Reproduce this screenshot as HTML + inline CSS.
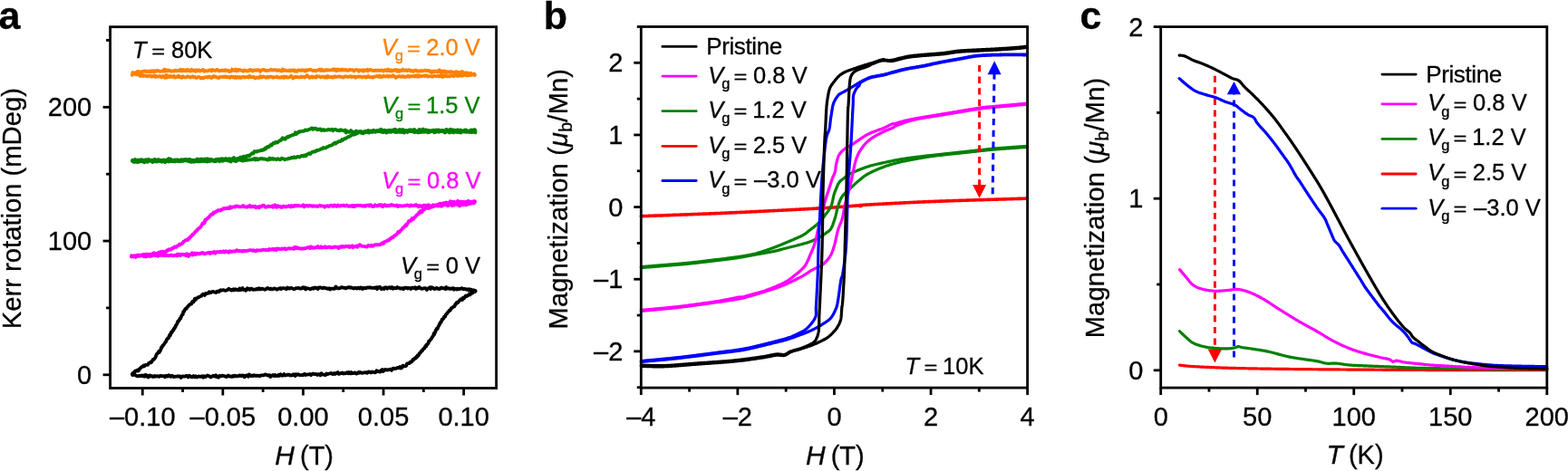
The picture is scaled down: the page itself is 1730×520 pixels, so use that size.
<!DOCTYPE html>
<html><head><meta charset="utf-8"><title>Figure</title><style>html,body{margin:0;padding:0;background:#fff;width:1730px;height:520px;overflow:hidden;position:relative}</style></head><body>
<svg width="1730" height="520" viewBox="0 0 1730 520" style="position:absolute;left:0;top:0;font-family:'Liberation Sans', Arial, Helvetica, sans-serif">
<rect width="1730" height="520" fill="#fff"/>
<text x="-1.5" y="31.6" font-size="43" text-anchor="start" fill="#000" font-weight="bold" stroke="#000" stroke-width="0.3">a</text>
<text x="599.8" y="31.6" font-size="43" text-anchor="start" fill="#000" font-weight="bold" stroke="#000" stroke-width="0.3">b</text>
<text x="1191.5" y="31.6" font-size="43" text-anchor="start" fill="#000" font-weight="bold" stroke="#000" stroke-width="0.3">c</text>
<path d="M145.9,82.82 L146.57,80.04 L147.51,81.3 L148.68,80.35 L150,80.05 L150.84,80 L151.76,78.84 L152.74,79.65 L153.78,79.14 L154.84,81.3 L155.92,79.45 L157,79.01 L157.9,78.94 L158.77,78.64 L159.62,78.35 L160.5,78.64 L161.44,79.05 L162.48,78.59 L163.66,79.19 L165,78.49 L165.72,78.58 L166.38,79.39 L166.99,78.81 L167.59,78.2 L168.19,78.35 L168.82,78.72 L169.5,79.46 L170.27,78.23 L171.14,78.22 L172.15,78.88 L173.31,77.81 L174.65,78.12 L176.19,78.74 L177.97,78.55 L180,78.25 L180.66,78.56 L181.34,76.63 L182.04,78.74 L182.76,77.64 L183.49,77.24 L184.25,78.3 L185.02,78.53 L185.81,77.89 L186.62,77.53 L187.44,78.13 L188.28,78.08 L189.14,78.87 L190.01,78.5 L190.9,78.19 L191.8,78.69 L192.71,77.95 L193.65,77.55 L194.59,78.37 L195.55,78.36 L196.52,77.91 L197.5,77.59 L198.5,78.14 L199.51,76.63 L200.53,78.38 L201.56,78.26 L202.61,77.08 L203.66,78 L204.72,77.43 L205.8,78.37 L206.88,76.83 L207.97,77.43 L209.07,78.32 L210.18,78.56 L211.3,76.73 L212.43,77.63 L213.56,78.08 L214.7,77.55 L215.85,78.76 L217,77.22 L218.16,78.06 L219.32,77.28 L220.49,78.63 L221.67,77.83 L222.85,77.63 L224.03,76.89 L225.22,78.75 L226.41,78.23 L227.6,78.23 L228.8,78.43 L230,77.99 L230.86,77.44 L231.73,77.35 L232.6,77.35 L233.48,78.54 L234.36,76.98 L235.25,77.45 L236.15,77.59 L237.05,77.89 L237.95,78.08 L238.86,77.07 L239.78,76.8 L240.7,77.75 L241.63,78.42 L242.56,78.16 L243.5,77.86 L244.44,77.56 L245.38,77.9 L246.34,77.6 L247.29,78.18 L248.25,77.29 L249.22,77.8 L250.18,77.66 L251.16,78.01 L252.13,77.84 L253.11,79.11 L254.1,78.53 L255.09,78.53 L256.08,76.58 L257.08,77.51 L258.08,77.36 L259.08,77.99 L260.09,76.44 L261.1,78.33 L262.11,78.27 L263.12,76.97 L264.14,77.14 L265.17,77.24 L266.19,77.7 L267.22,78.02 L268.25,78.79 L269.28,77.56 L270.32,78.09 L271.36,77.75 L272.4,78.63 L273.44,78.06 L274.49,78.41 L275.53,77.06 L276.58,77.54 L277.64,77.2 L278.69,78.47 L279.74,78 L280.8,77.47 L281.86,77.39 L282.92,77.9 L283.98,77.25 L285.04,77.12 L286.1,77.89 L287.17,78.98 L288.23,77.49 L289.3,77.32 L290.37,76.98 L291.44,76.88 L292.5,77.9 L293.57,78.08 L294.64,77.62 L295.72,77.79 L296.79,77.67 L297.86,77.68 L298.93,76.76 L300,77.35 L300.94,77.66 L301.89,77.17 L302.85,77.33 L303.82,77.14 L304.8,77.41 L305.78,78.06 L306.78,77.36 L307.78,77.5 L308.78,78.03 L309.79,77.94 L310.81,78.51 L311.84,76.43 L312.87,78.05 L313.91,77.31 L314.95,77.65 L316,78.03 L317.05,78.17 L318.11,78.14 L319.17,77.65 L320.23,78.45 L321.3,77.41 L322.37,77.48 L323.45,78 L324.52,77.26 L325.6,78.75 L326.69,78.12 L327.77,78.75 L328.85,77.54 L329.94,77.34 L331.03,77.64 L332.11,77.95 L333.2,77.22 L334.29,77.76 L335.37,77.54 L336.46,78.43 L337.55,77.18 L338.63,78.12 L339.71,77.19 L340.8,77.01 L341.88,77.15 L342.95,76.88 L344.03,77.62 L345.1,78.1 L346.17,77.62 L347.23,77.87 L348.29,78.43 L349.35,77.68 L350.4,77.64 L351.45,77.38 L352.49,76.64 L353.53,77.94 L354.56,76.56 L355.59,77.88 L356.61,77.51 L357.62,78.14 L358.62,77.48 L359.62,77.07 L360.62,77.71 L361.6,77.21 L362.58,77.42 L363.55,77.54 L364.51,77.44 L365.46,77.41 L366.4,77.05 L367.33,77.41 L368.26,76.33 L369.17,77.42 L370.07,76.85 L370.96,78.12 L371.85,78.21 L372.72,76.43 L373.57,77.59 L374.42,77.44 L375.26,76.93 L376.08,77.8 L376.89,77.25 L377.69,76.53 L378.47,77.35 L379.24,77.42 L380,77.56 L381.48,76.82 L382.9,77.84 L384.28,77.9 L385.62,76.86 L386.91,77.13 L388.17,77.44 L389.38,77.17 L390.56,78.44 L391.7,77.59 L392.81,76.92 L393.89,77.04 L394.94,77.44 L395.96,78.73 L396.96,77.37 L397.93,77.53 L398.88,77.74 L399.81,77.43 L400.72,78.71 L401.62,77.16 L402.5,77.86 L403.37,77.54 L404.23,77.79 L405.08,76.8 L405.92,78.42 L406.76,77.38 L407.59,77.46 L408.43,76.93 L409.26,77.04 L410.1,77.76 L410.94,77.99 L411.78,77.87 L412.64,78.12 L413.51,77.85 L414.38,77.48 L415.27,77.93 L416.18,77.8 L417.1,77.42 L418.05,77.88 L419.01,78.2 L420,77.63 L421,77.31 L422,77.91 L423.01,78.57 L424.02,77.42 L425.03,77.5 L426.04,77.49 L427.05,78.25 L428.06,76.58 L429.08,77.8 L430.09,78.27 L431.11,77.18 L432.13,78.46 L433.14,77.96 L434.16,77.38 L435.18,77.81 L436.19,76.87 L437.21,77.42 L438.22,78.75 L439.24,77.27 L440.25,78.8 L441.26,77.75 L442.27,78.37 L443.28,77.86 L444.29,76.62 L445.29,77.56 L446.3,78 L447.3,77.28 L448.29,77.2 L449.29,78.16 L450.28,77.62 L451.27,77.07 L452.26,77.65 L453.24,78.52 L454.22,77.81 L455.19,78.6 L456.16,78.95 L457.13,78.15 L458.09,77.53 L459.05,77.46 L460,78.19 L461.06,78.71 L462.13,78.4 L463.21,78.58 L464.3,78.06 L465.39,78.5 L466.49,78.1 L467.59,78.21 L468.69,77.71 L469.8,77.58 L470.9,78.21 L472.01,77.9 L473.11,78.01 L474.21,78.94 L475.31,78.54 L476.4,80.24 L477.48,79.18 L478.56,78.35 L479.62,79.16 L480.68,78.96 L481.73,78.42 L482.76,79.43 L483.78,78.43 L484.79,77.21 L485.78,79.36 L486.75,78.62 L487.71,79.81 L488.64,78.67 L489.56,78.4 L490.45,79.94 L491.32,78.53 L492.17,79.26 L492.99,79.98 L493.78,79.27 L494.55,79.2 L495.29,79.33 L496,79.76 L497.68,78.93 L499.16,79.78 L500.46,79.83 L501.61,80.86 L502.64,79.45 L503.56,79.2 L504.39,80.17 L505.18,79.61 L505.92,80.05 L506.66,80.04 L507.42,80.68 L508.21,79.76 L509.06,80.16 L510,78.9 L511.1,79.92 L512.26,81.38 L513.46,80.3 L514.69,80.44 L515.91,80.31 L517.13,81.45 L518.31,81.39 L519.44,80.79 L520.5,81.95 L521.48,81.85 L522.35,82.24 L523.1,81.57 L523.7,82.96" fill="none" stroke="#ff8000" stroke-width="3.8" stroke-linejoin="round" stroke-linecap="round" />
<path d="M523.7,82.23 L523.1,81.99 L522.35,81.84 L521.48,82.08 L520.5,82.78 L519.44,82.26 L518.31,83.11 L517.13,82.95 L515.91,83.48 L514.69,83.3 L513.46,82.92 L512.26,82 L511.1,83.29 L510,83.63 L509.06,83.34 L508.21,83.6 L507.42,83.08 L506.66,83.16 L505.92,82.88 L505.18,84.17 L504.39,83.52 L503.56,83.19 L502.64,82.74 L501.61,83.41 L500.46,84.31 L499.16,83.79 L497.68,83.17 L496,84.39 L495.29,84.4 L494.55,84.17 L493.78,84.08 L492.99,84.3 L492.17,83.97 L491.32,84.12 L490.45,83.28 L489.56,84.55 L488.64,83.87 L487.71,84.87 L486.75,82.66 L485.78,84.18 L484.79,84.35 L483.78,83.64 L482.76,84.1 L481.73,84.28 L480.68,84.21 L479.62,83.61 L478.56,83.85 L477.48,84.5 L476.4,84.66 L475.31,84.03 L474.21,84.04 L473.11,84.13 L472.01,84.6 L470.9,83.47 L469.8,83.34 L468.69,84.15 L467.59,83.49 L466.49,83.79 L465.39,84.18 L464.3,84.41 L463.21,83.57 L462.13,84.61 L461.06,83.21 L460,84.5 L459.06,83.34 L458.15,83.52 L457.26,84.58 L456.39,84.02 L455.53,83.81 L454.69,84.01 L453.87,84.52 L453.06,84.25 L452.25,84.27 L451.45,84.87 L450.66,83.9 L449.87,84.05 L449.08,84.03 L448.29,84.96 L447.49,84.87 L446.69,85.04 L445.88,84.32 L445.06,84.26 L444.22,84.82 L443.38,84.14 L442.51,84.82 L441.63,84.77 L440.72,83.99 L439.79,84.33 L438.84,84.32 L437.86,85.35 L436.84,85.82 L435.8,84.35 L434.72,84.42 L433.61,83.16 L432.46,84.54 L431.26,84.43 L430.03,83.85 L428.75,84.88 L427.42,83.59 L426.04,84.35 L424.61,84.55 L423.13,83.79 L421.6,84.96 L420,85.08 L419.27,83.74 L418.53,83.73 L417.78,84.85 L417.02,84.5 L416.25,83.86 L415.47,84.37 L414.68,84.47 L413.88,84.46 L413.07,85 L412.25,84.76 L411.42,85.53 L410.58,85.32 L409.73,84.94 L408.88,85.16 L408.01,85.3 L407.13,84.97 L406.25,83.91 L405.36,85.07 L404.46,84.64 L403.55,85.5 L402.64,84.66 L401.71,84.91 L400.78,84.8 L399.85,85.55 L398.9,84.73 L397.95,84.49 L396.99,84.82 L396.02,84.41 L395.05,84.75 L394.07,84.66 L393.09,84.82 L392.1,85.74 L391.1,84.46 L390.1,84.71 L389.09,84.59 L388.08,85.07 L387.06,84.06 L386.04,84.34 L385.01,84.7 L383.98,85.03 L382.94,84.71 L381.9,84.47 L380.85,84.27 L379.8,85.04 L378.75,85.56 L377.69,84.95 L376.63,84.88 L375.57,85.03 L374.5,84.27 L373.43,84.62 L372.36,84.65 L371.28,84.97 L370.2,84.8 L369.12,84.15 L368.04,85.44 L366.95,85.76 L365.86,84.69 L364.78,85.06 L363.68,85 L362.59,85.29 L361.5,84.05 L360.41,85.75 L359.31,84.62 L358.21,85.57 L357.12,84.93 L356.02,84.68 L354.92,84.82 L353.83,85.39 L352.73,84.43 L351.63,84.71 L350.54,84.65 L349.44,83.98 L348.34,85.64 L347.25,85.25 L346.16,84.93 L345.07,85.58 L343.97,84.42 L342.89,84.91 L341.8,85.91 L340.71,85.5 L339.63,83.74 L338.55,83.14 L337.47,84.4 L336.39,85.56 L335.32,84.72 L334.25,84.87 L333.18,85.32 L332.12,84.51 L331.06,85.11 L330,85.44 L329.05,85.26 L328.09,85.22 L327.12,84.68 L326.15,85.29 L325.17,84.78 L324.18,85.74 L323.19,86.43 L322.19,84.62 L321.19,83.83 L320.18,84.79 L319.17,85.24 L318.15,85.61 L317.12,85.63 L316.1,84.61 L315.06,84.61 L314.03,85.74 L312.99,84.45 L311.94,85.65 L310.89,84.93 L309.84,85.48 L308.78,85.45 L307.73,85.49 L306.66,85.51 L305.6,84.52 L304.53,85.23 L303.46,85.08 L302.39,85.24 L301.31,85.75 L300.24,84.93 L299.16,84.69 L298.08,84.68 L297,84.91 L295.92,85.5 L294.83,84.64 L293.75,85.73 L292.66,85.25 L291.58,84.97 L290.49,84.36 L289.41,85.23 L288.32,85.48 L287.23,84.13 L286.15,85.76 L285.06,86.01 L283.98,85.29 L282.9,85.38 L281.81,86.43 L280.73,85.79 L279.65,84.62 L278.58,85.1 L277.5,85.03 L276.43,85.03 L275.35,83.81 L274.28,85.53 L273.22,84.77 L272.15,85.21 L271.09,85.04 L270.03,85.6 L268.98,84.96 L267.93,84.68 L266.88,85.42 L265.84,85.9 L264.8,84.95 L263.76,85.88 L262.73,85.27 L261.7,84.83 L260.68,85.96 L259.66,84.68 L258.65,85.68 L257.64,84.85 L256.64,85.37 L255.64,84.45 L254.65,84.67 L253.67,85.71 L252.69,85.23 L251.72,85.15 L250.75,84.88 L249.79,85.37 L248.84,84.36 L247.9,84.51 L246.96,85.04 L246.03,84.67 L245.11,84.74 L244.19,85.08 L243.29,85.05 L242.39,85 L241.5,86.04 L240.61,85.68 L239.74,85.79 L238.88,85.1 L238.02,84.84 L237.17,84.32 L236.34,84.92 L235.51,83.96 L234.69,84.79 L233.88,85.53 L233.09,86 L232.3,85.64 L231.52,84.63 L230.76,85.37 L230,84.67 L228.51,85.55 L227.05,85.03 L225.62,85.56 L224.2,86.5 L222.82,85.58 L221.46,86.35 L220.12,85.16 L218.8,84.87 L217.51,85.78 L216.24,85.99 L214.99,84.73 L213.77,85.07 L212.57,84.23 L211.38,84.9 L210.22,85.49 L209.08,84.94 L207.96,84.67 L206.86,84.19 L205.78,85.16 L204.72,85.39 L203.68,85.27 L202.65,85.07 L201.65,84.22 L200.66,85.87 L199.69,84.86 L198.73,84.8 L197.8,85.27 L196.87,83.67 L195.97,84.81 L195.08,84.76 L194.21,85.03 L193.35,85.55 L192.5,85.06 L191.67,83.78 L190.85,84.59 L190.05,84.88 L189.26,84.83 L188.48,84.04 L187.71,83.81 L186.96,85.02 L186.22,84.89 L185.49,84.68 L184.77,83.73 L184.06,85.64 L183.36,83.06 L182.67,84.44 L181.99,85.78 L181.32,84.54 L180.65,84.74 L180,83.95 L177.97,85.31 L176.21,83.82 L174.68,84.63 L173.36,84.53 L172.22,83.84 L171.24,84.86 L170.39,83.56 L169.64,83.92 L168.96,84.24 L168.33,83.99 L167.73,84.43 L167.12,84.64 L166.48,83.93 L165.78,83.75 L165,83.72 L163.79,83.73 L162.67,84.31 L161.6,83.68 L160.6,83.95 L159.63,83.61 L158.7,83.12 L157.78,83.97 L156.86,82.84 L155.94,83.31 L155,84.02 L153.9,82.45 L152.74,82.85 L151.56,81.82 L150.39,82.22 L149.27,81.48 L148.23,81.92 L147.29,81.65 L146.51,81.88 L145.9,82.57" fill="none" stroke="#ff8000" stroke-width="3.8" stroke-linejoin="round" stroke-linecap="round" />
<path d="M146,177.06 L146.52,177.26 L147.09,176.87 L147.7,176.76 L148.35,176.43 L149.03,175.89 L149.76,176.92 L150.52,177.77 L151.32,177.13 L152.15,176.57 L153.02,177.77 L153.91,176.62 L154.83,176.51 L155.78,176.18 L156.76,176.31 L157.76,176.7 L158.78,177.93 L159.82,176.71 L160.89,176.25 L161.97,176.48 L163.07,176.69 L164.19,175.86 L165.32,176.87 L166.46,177.18 L167.61,176.96 L168.78,177.11 L169.95,176.07 L171.12,175.83 L172.31,177.47 L173.49,177.36 L174.68,175.9 L175.87,176.86 L177.06,176.75 L178.25,177.03 L179.43,176.84 L180.61,176.44 L181.78,176.82 L182.94,176.79 L184.09,176.67 L185.23,175.67 L186.36,175.04 L187.48,176.24 L188.58,175.77 L189.66,176.8 L190.72,177.05 L191.76,176.8 L192.79,176.44 L193.78,176.68 L194.76,177.28 L195.7,176.23 L196.62,177.13 L197.52,177.01 L198.38,176.76 L199.2,177.4 L200,176.21 L201.37,177.11 L202.7,176.07 L203.98,176.15 L205.21,175.98 L206.4,176.8 L207.56,176.04 L208.67,176.58 L209.75,175.92 L210.8,177.12 L211.82,177.54 L212.82,176.65 L213.79,177.42 L214.73,176.82 L215.66,177.7 L216.58,176.55 L217.47,175.63 L218.36,177.31 L219.24,176.41 L220.11,175.9 L220.98,176.1 L221.84,175.55 L222.71,176.35 L223.58,175.84 L224.46,177.23 L225.35,176.76 L226.24,175.47 L227.16,175.53 L228.08,176.03 L229.03,175.26 L230,176.24 L231.06,176.25 L232.14,175.82 L233.23,175.92 L234.33,176.47 L235.45,176.95 L236.57,176.96 L237.7,176.13 L238.83,176.55 L239.96,175.64 L241.1,176.24 L242.23,175.45 L243.35,176.34 L244.47,175.22 L245.57,175.34 L246.67,175.83 L247.75,176.1 L248.82,174.96 L249.86,175.41 L250.89,175.74 L251.89,175.74 L252.87,175.11 L253.81,175.58 L254.73,175.33 L255.62,176.19 L256.47,175.68 L257.29,174.59 L258.06,174.05 L258.8,175.25 L260.5,175.69 L261.98,174.96 L263.26,175.16 L264.38,174.2 L265.37,173.51 L266.25,174.45 L267.04,173.88 L267.79,173.98 L268.51,172.64 L269.24,173.29 L270,172.66 L271.32,173.13 L272.42,172.09 L273.39,171.8 L274.28,171.53 L275.16,172.21 L276.1,171.12 L277.02,170.18 L277.84,169.47 L278.66,168.84 L279.56,169.57 L280.61,167.13 L281.9,167.03 L282.67,167.55 L283.53,167.56 L284.45,166.54 L285.44,166.77 L286.46,166.46 L287.51,166.3 L288.56,165.49 L289.61,166.07 L290.63,164.96 L291.61,165.36 L292.54,163.57 L293.4,164.33 L294.44,162.6 L295.41,161.9 L296.31,162.4 L297.17,161.05 L298,161.12 L298.84,159.67 L299.68,160.53 L300.57,159.07 L301.5,157.9 L302.38,158.16 L303.28,158.11 L304.2,156.78 L305.14,157.08 L306.08,157.52 L307.03,156.48 L307.98,155.61 L308.93,154.91 L309.87,155.15 L310.8,153.59 L311.73,152.35 L312.67,153.26 L313.61,152.63 L314.54,153.79 L315.48,152.51 L316.41,151.5 L317.33,151 L318.24,151.52 L319.13,150.38 L320,150.11 L320.92,149.92 L321.79,149.54 L322.62,149.05 L323.44,148.57 L324.26,148.74 L325.11,148.48 L326,146.18 L326.96,148.07 L328,146.31 L328.94,146.61 L329.95,145.21 L331.03,145.49 L332.15,145.14 L333.29,144.81 L334.44,144.95 L335.58,144.58 L336.68,143.44 L337.73,143.69 L338.71,143.94 L339.6,143.72 L340.8,142.85 L341.81,142.6 L342.7,142.4 L343.54,141.66 L344.41,141.39 L345.37,142.84 L346.5,141.72 L347.39,142.03 L348.34,141.65 L349.33,142.92 L350.36,143.34 L351.41,142.44 L352.49,143.04 L353.59,142.53 L354.69,144.08 L355.8,143.76 L356.9,142.88 L357.9,144.07 L358.92,143.59 L359.95,143.61 L361,143.56 L362.05,142.96 L363.1,142.99 L364.16,143.59 L365.23,143.19 L366.29,142.68 L367.35,144.32 L368.4,143.12 L369.45,142.99 L370.5,142.99 L371.56,143.85 L372.62,144.11 L373.67,143.82 L374.73,144.28 L375.78,143.11 L376.84,143.86 L377.9,143.93 L378.95,144.32 L380,144.71 L380.99,143.45 L381.87,146.44 L382.68,144.41 L383.47,145.25 L384.28,145.69 L385.13,145.87 L386.07,145.68 L387.14,144.08 L388.38,145.17 L389.82,146.24 L391.5,145.32 L392.22,145.24 L392.96,144.5 L393.72,146.43 L394.49,146 L395.28,145.18 L396.09,145.55 L396.93,145.5 L397.78,144.88 L398.65,145.27 L399.54,145.49 L400.46,145.57 L401.4,145.88 L402.36,145.12 L403.34,144.76 L404.35,145.15 L405.39,144.49 L406.45,144.07 L407.54,145.3 L408.65,144.37 L409.79,144.57 L410.96,144.78 L412.16,143.74 L413.39,144.63 L414.65,144.46 L415.94,144.1 L417.26,144.31 L418.61,143.63 L420,142.8 L420.79,143.84 L421.6,143.47 L422.42,144.43 L423.26,144.08 L424.11,143.63 L424.97,143.94 L425.85,144.64 L426.74,144.51 L427.64,144.07 L428.55,144.1 L429.48,143.7 L430.41,143.77 L431.36,144.16 L432.31,143.76 L433.28,143.98 L434.25,143.2 L435.24,142.89 L436.23,142.87 L437.23,143.56 L438.24,144.52 L439.25,144.44 L440.27,143.24 L441.3,142.93 L442.34,144.22 L443.38,144.04 L444.42,143.03 L445.47,144.36 L446.52,143.88 L447.58,144.51 L448.64,143.97 L449.71,144.27 L450.78,143.96 L451.85,143.26 L452.92,143.66 L453.99,143.42 L455.07,144.25 L456.14,143.24 L457.22,142.95 L458.29,144.17 L459.37,144.43 L460.44,144.59 L461.51,144.4 L462.59,142.97 L463.65,143.42 L464.72,143.5 L465.78,143.79 L466.84,142.62 L467.9,143.8 L468.95,143.96 L470,143.28 L470.98,143.87 L471.98,144.46 L473,143.83 L474.03,144.39 L475.09,144.37 L476.16,144.04 L477.24,144.02 L478.34,143.61 L479.45,144.5 L480.58,143.56 L481.71,143.44 L482.86,144.22 L484.01,143.43 L485.17,144.07 L486.33,144.42 L487.5,143.89 L488.68,143.9 L489.85,144.36 L491.03,144.27 L492.21,143.01 L493.39,143.14 L494.56,144.6 L495.74,144.09 L496.9,142.74 L498.07,143.14 L499.23,143.9 L500.38,143.36 L501.52,144.16 L502.65,143.95 L503.77,144.18 L504.88,143.28 L505.97,144.26 L507.06,145.01 L508.12,143.5 L509.17,144.66 L510.2,144.48 L511.22,144.3 L512.21,143.92 L513.18,143.32 L514.13,143.48 L515.06,144.39 L515.97,144.51 L516.84,144.65 L517.69,144.51 L518.52,144.48 L519.31,143.75 L520.08,143.33 L520.81,144.11 L521.51,144.28 L522.18,144.05 L522.82,143.17 L523.41,143.72 L523.98,143.2 L524.5,144.09" fill="none" stroke="#008000" stroke-width="3.8" stroke-linejoin="round" stroke-linecap="round" />
<path d="M146,177.74 L146.52,178.22 L147.08,178.48 L147.68,178.38 L148.32,179.05 L149,177.68 L149.71,177.09 L150.45,178.8 L151.23,179.05 L152.04,179.06 L152.88,178.42 L153.74,178.55 L154.64,178.32 L155.56,177.53 L156.51,177.92 L157.48,178.5 L158.47,177.91 L159.48,179.27 L160.52,177.36 L161.57,177.96 L162.64,178.8 L163.73,177.85 L164.83,177.55 L165.94,177.42 L167.06,177.76 L168.2,178.98 L169.35,178.37 L170.5,178.42 L171.66,177.84 L172.83,178.58 L174,178.17 L175.17,177.6 L176.35,177.84 L177.52,178.2 L178.7,178.72 L179.87,178.04 L181.04,178.33 L182.2,179.16 L183.36,177.6 L184.51,177.35 L185.65,178.57 L186.78,178.26 L187.9,177.95 L189.01,178.15 L190.11,177.81 L191.19,178.27 L192.25,177.79 L193.29,178.41 L194.32,177.32 L195.32,177.5 L196.31,178.01 L197.27,177.68 L198.2,178.32 L199.12,177.9 L200,177.62 L201.17,178.03 L202.32,177.61 L203.47,177.04 L204.59,177.27 L205.71,177.44 L206.82,177.62 L207.91,177.93 L209,178.37 L210.07,178.17 L211.13,178.84 L212.18,178.56 L213.22,177.75 L214.26,178.76 L215.28,178.5 L216.3,177.59 L217.31,178.01 L218.31,178.44 L219.3,177.97 L220.28,178.39 L221.26,178.04 L222.24,178.21 L223.2,177.64 L224.16,178.02 L225.12,177.61 L226.07,178.17 L227.02,176.86 L227.96,177.97 L228.9,178.47 L229.83,178.09 L230.76,177.75 L231.69,178.05 L232.62,177.28 L233.55,177.27 L234.47,177.52 L235.39,177.62 L236.31,178.22 L237.24,177.19 L238.16,178.21 L239.08,176.78 L240,177.19 L241.12,177.58 L242.25,178.21 L243.38,177.21 L244.52,176.34 L245.65,177.72 L246.79,177.44 L247.93,176.83 L249.07,176.82 L250.2,176.98 L251.34,177.38 L252.46,177.65 L253.58,176.43 L254.7,178.47 L255.81,177.15 L256.9,176.92 L257.99,177.46 L259.07,177.11 L260.13,178.29 L261.18,177.57 L262.22,176.72 L263.24,176.67 L264.24,176.57 L265.22,176.61 L266.18,177.13 L267.13,176.37 L268.05,177.57 L268.95,176.6 L269.82,176.52 L270.67,177.09 L271.5,175.44 L272.29,175.98 L273.06,176.79 L273.8,176.43 L275.5,176.33 L276.94,176.46 L278.18,175.82 L279.25,175.97 L280.18,175.22 L281.02,174.85 L281.82,176.49 L282.6,175.2 L283.4,175.24 L284.28,176.34 L285.26,176.09 L286.39,175.17 L287.7,175.13 L288.52,175.36 L289.39,174.88 L290.29,175.71 L291.23,175.5 L292.2,175.5 L293.19,175.87 L294.21,175.87 L295.25,176.52 L296.31,176.37 L297.37,174.62 L298.45,176.09 L299.53,175.01 L300.61,174.87 L301.69,176.07 L302.76,175.31 L303.83,175.54 L304.88,176.31 L305.91,175.36 L306.92,175.23 L307.91,175.89 L308.88,176.37 L309.81,175.95 L310.7,174.77 L311.88,175.19 L313.03,175.38 L314.17,176.42 L315.28,175.74 L316.38,175.59 L317.46,175.65 L318.51,174.68 L319.55,174.96 L320.57,174.81 L321.57,173.84 L322.54,174.21 L323.5,174.36 L324.44,173.29 L325.36,174.16 L326.26,173.96 L327.14,173.95 L328,172.79 L329.27,173.04 L330.46,173.53 L331.58,172.93 L332.64,171.81 L333.66,172.11 L334.66,172.51 L335.63,171.41 L336.6,171.38 L337.57,172.28 L338.57,170.54 L339.6,170.16 L340.56,169.34 L341.52,169.18 L342.48,169.99 L343.44,168.71 L344.4,167.73 L345.36,167.47 L346.31,167.58 L347.27,167.59 L348.23,166.35 L349.18,166.76 L350.14,165.72 L351.1,165.81 L352.06,165.55 L353.02,165.26 L353.97,164.36 L354.93,164.19 L355.89,164.25 L356.84,162.94 L357.8,163.43 L358.76,163.3 L359.72,163.26 L360.68,162.32 L361.64,161.88 L362.6,161.68 L363.56,160.81 L364.53,160.69 L365.5,160.6 L366.46,160.1 L367.43,158.93 L368.4,158.88 L369.37,157.44 L370.34,158.59 L371.3,157.39 L372.27,157.35 L373.24,156.15 L374.2,156.25 L375.18,156.07 L376.19,155.88 L377.22,154.08 L378.25,154.78 L379.29,153.71 L380.31,152.87 L381.32,153.05 L382.29,152.14 L383.23,151.67 L384.11,151 L384.94,151.09 L385.7,150.61 L386.99,149.83 L388.03,148.84 L388.91,148.6 L389.73,148.67 L390.56,148.76 L391.5,147.67 L392.36,148.13 L393.04,147.05 L393.74,146.2 L394.66,146.92 L396.01,145.84 L398,146.41 L398.65,146.73 L399.31,145.93 L399.99,146.01 L400.68,147.37 L401.39,146.11 L402.12,146.09 L402.89,146.34 L403.68,145.83 L404.51,145.8 L405.37,146.03 L406.28,144.48 L407.23,146.55 L408.23,145.16 L409.29,145.13 L410.39,146 L411.56,145.7 L412.79,144.98 L414.09,145.77 L415.45,145.01 L416.89,145.24 L418.4,144.78 L420,145.14 L420.73,145.8 L421.48,145.65 L422.25,145.74 L423.04,146.08 L423.85,145.54 L424.67,145.2 L425.51,145.41 L426.37,146.46 L427.25,145.57 L428.14,145.73 L429.04,145.5 L429.96,145.69 L430.89,145.79 L431.84,145.55 L432.8,145.47 L433.77,145.12 L434.75,145.09 L435.75,145.78 L436.75,145.97 L437.77,146.06 L438.79,145.59 L439.82,145.11 L440.87,145.91 L441.91,145.9 L442.97,144.74 L444.03,146.01 L445.1,145.89 L446.17,146.49 L447.25,144.96 L448.33,144.87 L449.42,146.01 L450.51,144.59 L451.6,145.18 L452.69,144.99 L453.79,145.03 L454.88,144.54 L455.98,145.46 L457.08,146.13 L458.17,145.84 L459.26,145.84 L460.36,145.4 L461.44,146.39 L462.53,145.89 L463.61,146.17 L464.69,144.75 L465.77,145.79 L466.83,144.97 L467.9,145.79 L468.95,145.71 L470,144.98 L470.98,145.69 L471.98,146.23 L473,145.87 L474.03,145.91 L475.09,145.11 L476.16,145.21 L477.24,144.97 L478.34,145.65 L479.45,146.23 L480.58,145.81 L481.71,145.57 L482.86,144.95 L484.01,145.8 L485.17,145.43 L486.33,144.51 L487.5,144.6 L488.68,145.36 L489.85,145.05 L491.03,146.44 L492.21,145.55 L493.39,144.96 L494.56,145.26 L495.74,146.39 L496.9,145 L498.07,145.93 L499.23,145.75 L500.38,146.31 L501.52,145.79 L502.65,145.27 L503.77,145.78 L504.88,145.52 L505.97,146.01 L507.06,145.44 L508.12,146.55 L509.17,145.41 L510.2,145.7 L511.22,145.1 L512.21,145.52 L513.18,145.47 L514.13,145.54 L515.06,145.94 L515.97,145.15 L516.84,144.97 L517.69,146.04 L518.52,145.27 L519.31,145.06 L520.08,146.06 L520.81,145.85 L521.51,143.97 L522.18,145.21 L522.82,145.84 L523.41,145.87 L523.98,145.13 L524.5,146.27" fill="none" stroke="#008000" stroke-width="3.8" stroke-linejoin="round" stroke-linecap="round" />
<path d="M145,282.18 L145.56,282.42 L146.24,282.55 L147.02,282.39 L147.9,282.75 L148.85,282.77 L149.87,282.08 L150.95,282.75 L152.06,281.5 L153.21,281.63 L154.37,282.57 L155.54,281.56 L156.7,281.96 L157.83,281.02 L158.94,280.99 L160,280.96 L160.98,281 L161.96,280.63 L162.96,280.73 L163.97,281 L164.98,281.21 L166,280.52 L167.02,280.73 L168.04,280.78 L169.06,279.59 L170.07,279.21 L171.08,280.84 L172.09,280.54 L173.08,279.7 L174.07,279.7 L175.04,278.81 L176,278.36 L177.02,279.05 L178.03,277.8 L179.05,278.83 L180.07,277.66 L181.08,277.87 L182.08,278.44 L183.08,278.07 L184.06,276.54 L185.03,276.91 L185.98,275.39 L186.91,275.27 L187.82,275.42 L188.71,275.61 L189.57,274.17 L190.4,274.41 L191.48,273.67 L192.52,272.42 L193.5,272.52 L194.45,272.88 L195.36,271.48 L196.25,271.26 L197.11,270.9 L197.96,269.51 L198.81,270.05 L199.65,269.66 L200.5,269.19 L201.43,268.47 L202.35,266.94 L203.26,266.33 L204.15,265.67 L205.03,265.06 L205.9,264.57 L206.74,264.98 L207.58,264.66 L208.4,262.9 L209.2,263.06 L209.98,261.26 L210.74,261.08 L211.47,260.01 L212.19,258.94 L212.89,259.13 L213.59,258.39 L214.29,257.37 L214.98,256.55 L215.69,255.53 L216.4,255.24 L217.12,254.21 L217.84,253.9 L218.56,252.32 L219.28,252.32 L220,251.67 L220.72,251.28 L221.44,250.37 L222.16,249.1 L222.88,247.82 L223.6,246.4 L224.31,246.61 L225.02,246.58 L225.72,245.9 L226.41,242.78 L227.11,242.95 L227.82,242.37 L228.54,241.2 L229.27,241.1 L230.02,240.26 L230.8,239.22 L231.6,238.76 L232.41,237.19 L233.23,236.83 L234.07,236.17 L234.92,236.48 L235.78,234.43 L236.67,234.58 L237.56,234.52 L238.47,233.5 L239.4,233.45 L240.34,232.16 L241.28,232.3 L242.23,232.14 L243.19,232.48 L244.17,231.28 L245.18,231.33 L246.21,230.24 L247.27,229.99 L248.37,230.53 L249.5,229.73 L250.39,230 L251.3,229.44 L252.21,230.07 L253.14,230.07 L254.08,228.18 L255.05,229.55 L256.03,228.66 L257.04,228.59 L258.07,228.19 L259.13,228.57 L260.22,227.5 L261.34,227.66 L262.5,227.59 L263.41,228.14 L264.34,228.47 L265.29,228.37 L266.26,228.17 L267.24,227.65 L268.24,227.02 L269.26,228.24 L270.29,228.12 L271.34,228.26 L272.39,228.88 L273.46,228.02 L274.53,228.04 L275.62,226.9 L276.7,228.5 L277.8,228.18 L278.9,227.81 L280,228.43 L280.88,227.64 L281.66,227.9 L282.36,229.27 L283,228.59 L283.59,228.67 L284.15,228.55 L284.71,228.48 L285.29,228.21 L285.89,229.34 L286.54,228.02 L287.27,228.44 L288.08,227.89 L289,227.79 L290.04,226.62 L291.23,226.88 L292.58,228.76 L294.11,228.7 L295.85,227.62 L297.81,227.82 L300,228.15 L300.66,227.26 L301.33,228.77 L302.03,227.22 L302.74,227.39 L303.48,226.26 L304.24,228.6 L305.01,227.8 L305.8,228.65 L306.61,227.2 L307.44,227.93 L308.28,227.78 L309.14,227.84 L310.02,228.86 L310.91,228.96 L311.82,228.47 L312.74,227.48 L313.67,228.18 L314.62,228.42 L315.58,227.98 L316.55,227.98 L317.54,227.93 L318.54,227.16 L319.54,227.78 L320.56,228.52 L321.59,227.08 L322.63,227.67 L323.68,228.08 L324.74,226.86 L325.8,227.53 L326.87,226.66 L327.95,227.25 L329.04,226.8 L330.14,227.08 L331.23,227.29 L332.34,227.4 L333.45,227.43 L334.56,226.22 L335.68,228.41 L336.81,227.37 L337.93,226.91 L339.06,227.16 L340.19,227.67 L341.32,226.94 L342.46,227.26 L343.59,227.22 L344.72,227.77 L345.86,227.05 L346.99,227.7 L348.13,227.64 L349.26,227.36 L350.39,228.12 L351.51,227.44 L352.64,226.77 L353.76,227.58 L354.87,227.47 L355.98,227.38 L357.09,227.52 L358.19,228.68 L359.29,227.51 L360.38,227.62 L361.46,227.23 L362.54,228.08 L363.61,227.32 L364.67,226.91 L365.72,226.67 L366.76,227.62 L367.79,227.74 L368.82,226.45 L369.83,226.92 L370.83,227.66 L371.82,227.87 L372.8,226.57 L373.85,227.07 L374.9,227.75 L375.96,226.99 L377.02,227.03 L378.09,226.97 L379.16,226.54 L380.24,227.28 L381.32,227.42 L382.4,226.47 L383.48,227.29 L384.57,227.84 L385.66,227.34 L386.76,227.74 L387.85,226.91 L388.95,227.96 L390.04,226.77 L391.14,228.23 L392.24,226.94 L393.34,226.79 L394.43,226.69 L395.53,226.95 L396.63,226.9 L397.72,226.78 L398.82,226.97 L399.91,227.52 L401,227.63 L402.09,226.95 L403.17,227.81 L404.25,226.58 L405.33,226.56 L406.41,226.5 L407.48,227.44 L408.54,226.25 L409.61,226.33 L410.66,227.8 L411.71,228.03 L412.76,227.83 L413.8,226.26 L414.83,227.08 L415.86,227.53 L416.88,227.12 L417.9,226.17 L418.9,226.87 L419.9,226.12 L420.89,226.37 L421.87,228.23 L422.85,227.42 L423.81,226.23 L424.77,226.21 L425.71,227.28 L426.65,226.69 L427.57,227.34 L428.49,226.67 L429.39,226.91 L430.28,227.15 L431.16,226.44 L432.03,225.95 L432.89,226.35 L433.73,226.62 L434.56,226.89 L435.38,226.97 L436.19,226.96 L436.98,227.28 L437.76,226.51 L438.52,227.76 L439.27,228.09 L440,227.19 L441.59,227.09 L443.11,227.68 L444.57,227.35 L445.97,227.1 L447.31,226.91 L448.6,226.6 L449.84,226.37 L451.03,227.39 L452.18,227.69 L453.27,226.46 L454.33,227.01 L455.35,227.18 L456.33,226.84 L457.28,226.67 L458.2,226.88 L459.09,226.02 L459.95,227.09 L460.79,226.97 L461.61,228.3 L462.41,227.67 L463.2,226.97 L463.97,227.16 L464.74,228.12 L465.49,228.06 L466.24,227.29 L466.99,227.12 L467.73,226.4 L468.48,227.01 L469.24,227.1 L470,226.79 L471.39,228.13 L472.68,226.14 L473.9,227.08 L475.03,227.36 L476.1,227.35 L477.11,228.02 L478.08,226.29 L479,226.62 L479.89,227.06 L480.76,227.05 L481.62,226.73 L482.47,226.49 L483.32,227.47 L484.19,226.27 L485.08,226.5 L486,227.58 L487.06,227.71 L488.1,227.21 L489.11,226.22 L490.12,226.19 L491.11,226.14 L492.09,225.97 L493.06,226.34 L494.03,227.23 L495.01,226.62 L495.99,226.04 L496.97,225.99 L497.97,225.73 L498.97,227 L500,225.18 L500.98,226.4 L502,225.41 L503.03,225.58 L504.09,225.31 L505.15,226.62 L506.22,226 L507.29,227.52 L508.35,225.39 L509.39,225.31 L510.41,226.18 L511.41,226.11 L512.37,225.58 L513.3,224.55 L514.18,226.37 L515,225.79 L516.31,225.51 L517.56,224.73 L518.75,225.15 L519.86,224.21 L520.89,224.26 L521.82,223.87 L522.64,224.42 L523.34,223.27 L523.9,223.19" fill="none" stroke="#ff00ff" stroke-width="3.8" stroke-linejoin="round" stroke-linecap="round" />
<path d="M145,283.58 L145.53,283.09 L146.12,282.93 L146.76,282.8 L147.46,283.43 L148.2,282.54 L148.99,283.13 L149.83,283.97 L150.7,283.05 L151.61,282.38 L152.56,282.13 L153.55,282.85 L154.56,282.07 L155.6,281.84 L156.67,282.27 L157.76,282.06 L158.87,283.12 L160,281.81 L161.14,283.45 L162.3,282.14 L163.47,282.59 L164.64,282.86 L165.82,282.59 L167,282.83 L168.18,281.86 L169.36,281.12 L170.53,282.23 L171.69,281.38 L172.84,281.96 L173.98,282.77 L175.11,282.11 L176.21,281.86 L177.29,281.53 L178.35,281.96 L179.39,281.99 L180.39,281.18 L181.36,282.18 L182.3,281.4 L183.2,282.08 L184.38,281.66 L185.55,282.41 L186.69,282.3 L187.81,281.79 L188.91,281.68 L189.99,281.94 L191.06,282.42 L192.11,282.2 L193.15,281.66 L194.18,281.7 L195.19,282.35 L196.2,280.54 L197.19,281.69 L198.18,280.85 L199.16,282.04 L200.14,280.98 L201.12,281.14 L202.09,280.55 L203.06,281.11 L204.04,281.49 L205.01,281.92 L205.99,280.25 L206.97,280.64 L207.96,282.98 L208.96,281.29 L209.96,280.71 L210.98,280.94 L212,279.12 L213.02,281.42 L214.04,280.55 L215.04,279.6 L216.04,280.97 L217.02,279.9 L218.01,279.61 L218.98,280.39 L219.96,280.25 L220.93,279.69 L221.9,279.83 L222.88,279.05 L223.85,278.91 L224.83,280.12 L225.82,280.27 L226.81,279.7 L227.81,279.58 L228.82,279.08 L229.84,279.14 L230.87,278.61 L231.91,280.01 L232.97,278.65 L234.04,279.11 L235.14,278.8 L236.25,277.95 L237.38,279.7 L238.53,278.35 L239.7,278.05 L240.9,278.46 L241.8,277.85 L242.7,278.3 L243.62,277.7 L244.55,278.49 L245.48,278.15 L246.42,277.31 L247.38,278.58 L248.34,278.06 L249.31,277.29 L250.28,278.04 L251.27,278.02 L252.26,278.75 L253.26,277.2 L254.26,278.09 L255.27,277.51 L256.29,277.85 L257.32,277.31 L258.35,277.37 L259.38,277.62 L260.42,276.63 L261.47,276.07 L262.52,277.17 L263.58,276.88 L264.64,277.12 L265.7,277.37 L266.77,276.84 L267.84,277.56 L268.92,276.83 L269.99,276.86 L271.07,277.2 L272.16,277.02 L273.25,276.59 L274.33,276.65 L275.42,276.11 L276.52,276.14 L277.61,276.48 L278.7,276.82 L279.8,276.08 L280.74,276.73 L281.68,277.3 L282.6,277.37 L283.52,276.15 L284.44,276.68 L285.35,276.39 L286.25,276.44 L287.15,276.43 L288.05,276.21 L288.95,276.33 L289.85,275.94 L290.74,275.65 L291.64,275.89 L292.54,275.98 L293.44,276.34 L294.35,275.83 L295.25,275.99 L296.17,276.33 L297.08,274.98 L298.01,275.31 L298.94,275.71 L299.88,275.38 L300.83,274.77 L301.79,275.83 L302.76,275.2 L303.74,274.64 L304.73,276.19 L305.73,274.4 L306.75,275.05 L307.78,274.64 L308.83,275.03 L309.89,275.23 L310.97,274.42 L312.07,274.77 L313.19,274.71 L314.32,274.18 L315.48,275.33 L316.66,274.73 L317.86,274.42 L319.08,274.17 L320.32,274.3 L321.59,274.51 L322.88,274.12 L324.2,275.01 L325.02,272.89 L325.87,273.08 L326.74,274.08 L327.62,273.17 L328.53,274.12 L329.45,273.76 L330.39,274.4 L331.35,274.27 L332.32,274.73 L333.31,274.48 L334.31,274.63 L335.33,274.19 L336.36,274.45 L337.41,274.1 L338.46,273.45 L339.53,273.05 L340.61,273.03 L341.7,273.93 L342.8,272.31 L343.91,273.68 L345.02,273.13 L346.15,273.9 L347.28,273.57 L348.41,273 L349.56,273.38 L350.7,272.08 L351.85,273.44 L353.01,273.51 L354.17,272.2 L355.33,273.64 L356.49,273.06 L357.65,273.18 L358.81,272.26 L359.97,273.34 L361.13,273.28 L362.29,272.91 L363.44,272.34 L364.59,273.26 L365.74,273.48 L366.89,272.98 L368.02,273.27 L369.16,272.36 L370.28,272.72 L371.4,272.81 L372.51,272.64 L373.61,274.07 L374.7,272.71 L375.79,272.14 L376.86,272.86 L377.92,271.77 L378.96,272.54 L380,272.72 L381.02,271.99 L382.03,272.05 L383.02,271.67 L384,272.23 L384.96,271.75 L385.91,273.04 L386.83,272.41 L387.74,271.89 L388.63,271.2 L389.51,273.07 L390.36,272.64 L391.19,272.15 L392,271.97 L392.78,271.92 L393.55,271.54 L394.29,272.8 L395,271.85 L395.69,270.92 L396.36,271.32 L397,270.24 L399.48,271.92 L401.62,271.89 L403.46,272.37 L405.03,272.5 L406.36,270.86 L407.47,271.5 L408.41,271.76 L409.19,271.62 L409.85,270.86 L410.42,271.55 L410.93,271.34 L411.41,271.76 L411.88,270.94 L412.39,270.75 L412.96,270.51 L413.62,270.47 L414.4,270.13 L415.57,270.16 L416.67,270.41 L417.72,270.16 L418.72,270.39 L419.68,270.01 L420.61,269.47 L421.51,268.19 L422.39,268.82 L423.26,268.8 L424.13,267.06 L425.01,266.76 L425.9,266.42 L426.8,265.89 L427.7,265.78 L428.59,264.86 L429.48,264.99 L430.35,263.49 L431.22,263.45 L432.07,262.59 L432.9,261.68 L433.71,262.14 L434.5,260.95 L435.26,260.62 L436,259.55 L436.93,259.37 L437.79,258.59 L438.61,257.45 L439.4,255.86 L440.16,256.58 L440.91,255.8 L441.66,254.81 L442.42,254.11 L443.2,253.3 L443.92,252.64 L444.64,251.27 L445.36,251.07 L446.08,250.54 L446.8,249.29 L447.52,248.36 L448.24,249.19 L448.96,247.77 L449.68,246.56 L450.4,245.76 L451.2,243.83 L452,243.76 L452.8,243.68 L453.6,243.8 L454.4,241.25 L455.2,241.29 L456,242.02 L456.8,240.62 L457.6,239.76 L458.4,239.45 L459.2,237.97 L460,237.16 L460.8,236.88 L461.6,236.19 L462.4,234.4 L463.2,235.12 L464,232.67 L464.8,232.65 L465.7,234.13 L466.6,231.62 L467.5,231.78 L468.39,230.43 L469.29,230.39 L470.19,229.79 L471.1,229.59 L472,229.8 L473.04,229.99 L474.08,229.14 L475.13,229.17 L476.17,227.71 L477.22,228.48 L478.26,227.67 L479.3,227.79 L480.27,226.47 L481.15,226.25 L482.01,226.8 L482.92,226.06 L483.92,225.47 L485.09,224.74 L486.5,224.78 L487.31,224.96 L488.21,224.96 L489.17,224.12 L490.19,224.1 L491.25,224.4 L492.34,223.42 L493.46,224.43 L494.58,223.79 L495.71,223.6 L496.82,222.24 L497.9,222.59 L498.95,222.8 L499.96,222.96 L500.9,222.6 L502.03,223.32 L503.11,223.12 L504.14,222.84 L505.15,221.81 L506.12,223.66 L507.09,222.71 L508.04,223.16 L509,222.45 L509.98,222.81 L510.97,223.18 L512,222.93 L513.1,223.34 L514.28,222.73 L515.51,223.96 L516.77,221.86 L518.03,222.64 L519.25,223.54 L520.42,222.91 L521.49,222.85 L522.45,222.16 L523.26,223.83 L523.9,222.15" fill="none" stroke="#ff00ff" stroke-width="3.8" stroke-linejoin="round" stroke-linecap="round" />
<path d="M146.3,412.77 L146.52,412.78 L146.38,413.4 L146.1,414.02 L145.93,413.16 L146.11,413.44 L146.87,414.04 L148.44,413.58 L151.08,415.24 L155,414.77 L155.57,415.1 L156.15,414.41 L156.76,415.05 L157.38,414.72 L158.02,415.04 L158.68,414.5 L159.36,415.68 L160.05,414.77 L160.76,413.74 L161.49,415.52 L162.23,415.02 L162.99,414.71 L163.76,416.59 L164.55,415.2 L165.36,414.5 L166.18,414.92 L167.01,415.48 L167.86,415.16 L168.72,415.98 L169.59,415.9 L170.48,414.89 L171.38,415.36 L172.3,415.7 L173.22,415.13 L174.16,415.12 L175.11,415.87 L176.08,415.64 L177.05,414.63 L178.03,415.11 L179.03,415.2 L180.03,415.37 L181.05,415.05 L182.07,416.19 L183.1,414.93 L184.15,414.87 L185.2,415.59 L186.26,414.25 L187.33,414.93 L188.41,415.84 L189.49,414.78 L190.58,415.05 L191.68,416.12 L192.79,415.78 L193.9,415.56 L195.02,415.67 L196.14,415.17 L197.27,415.71 L198.41,415.43 L199.55,416.92 L200.69,415.85 L201.84,415.37 L203,415.53 L204.15,415.59 L205.31,414.8 L206.48,415.11 L207.65,416.4 L208.82,414.79 L209.99,415.24 L211.16,416.12 L212.34,416.39 L213.52,414.99 L214.7,416.36 L215.88,415.35 L217.06,416.46 L218.24,415.82 L219.42,415.39 L220.6,415.94 L221.78,415.84 L222.96,415.11 L224.14,416.71 L225.31,415.33 L226.49,416.15 L227.66,415.24 L228.83,414.49 L230,414.87 L230.88,415.43 L231.77,415.86 L232.66,416.44 L233.56,415.51 L234.47,415.3 L235.39,414.77 L236.31,415.42 L237.24,415.6 L238.18,414.21 L239.12,416.13 L240.07,416.03 L241.03,416.65 L241.99,414.88 L242.96,415.4 L243.93,415.37 L244.91,414.62 L245.9,414.87 L246.89,414.79 L247.88,415.6 L248.88,415.54 L249.88,416.03 L250.89,415.06 L251.91,414.5 L252.92,415.49 L253.95,415.44 L254.97,415.59 L256,415.9 L257.03,414.87 L258.07,415.62 L259.11,414.61 L260.15,415.24 L261.19,415.51 L262.24,415.06 L263.29,415.22 L264.35,414.32 L265.4,414.71 L266.46,415.14 L267.52,414.38 L268.58,414.55 L269.64,416.34 L270.7,415.13 L271.77,414.51 L272.83,414.38 L273.9,415.69 L274.97,413.37 L276.04,414.69 L277.11,415.19 L278.17,414.51 L279.24,415.09 L280.31,414.2 L281.38,414.75 L282.45,414.76 L283.52,414.72 L284.58,414.78 L285.65,414.7 L286.71,415.27 L287.78,414.49 L288.84,414.29 L289.9,414.44 L290.96,414.41 L292.02,413.71 L293.07,413.48 L294.12,413.77 L295.18,414.65 L296.22,414.1 L297.27,414.22 L298.31,416.01 L299.35,415.03 L300.39,414.27 L301.42,414.02 L302.45,415.1 L303.47,413.89 L304.49,414.98 L305.51,414.6 L306.52,415.02 L307.53,413.84 L308.54,414.71 L309.54,413.2 L310.53,414.08 L311.52,414.75 L312.5,414.51 L313.48,413.1 L314.46,414.46 L315.42,414.32 L316.39,414.01 L317.34,413.62 L318.29,413.85 L319.24,413.66 L320.17,414.48 L321.1,414.19 L322.03,414.5 L322.94,414.27 L323.85,413.17 L324.75,413.92 L325.65,415.01 L326.53,413.2 L327.41,413.94 L328.28,413.34 L329.15,413.25 L330,413.84 L331.21,414.2 L332.42,414.08 L333.63,413.89 L334.83,414.12 L336.03,412.67 L337.23,413.99 L338.42,413.73 L339.61,413.37 L340.79,413.43 L341.97,412.94 L343.14,414.01 L344.31,412.93 L345.48,412.49 L346.64,413.27 L347.8,412.92 L348.95,413.17 L350.09,414 L351.23,413.06 L352.37,413.17 L353.5,414.31 L354.62,412.26 L355.74,413.2 L356.85,413.6 L357.96,413.76 L359.06,414.13 L360.15,412.49 L361.24,413.16 L362.32,412.73 L363.39,412.5 L364.46,412.31 L365.52,411.87 L366.57,412.82 L367.62,413.02 L368.66,411.98 L369.69,412.95 L370.71,412.19 L371.73,411.89 L372.73,410.97 L373.73,412.99 L374.72,412.74 L375.71,412.13 L376.68,412.05 L377.65,411.51 L378.6,412.48 L379.55,412.12 L380.49,412.42 L381.42,412.18 L382.34,411.27 L383.25,411.15 L384.15,412.2 L385.05,411 L385.93,412.05 L386.8,412.36 L387.67,411.11 L388.52,412.16 L389.36,411.78 L390.19,412.02 L391.01,411.33 L391.82,411.64 L392.62,411.85 L393.41,412.59 L394.19,411.95 L394.96,411.79 L395.71,410.76 L396.46,411.63 L397.19,411.03 L397.91,411.33 L398.62,411.49 L399.32,411.84 L400,411.6 L401.84,411.27 L403.55,411.04 L405.15,411.72 L406.65,410.38 L408.04,410.8 L409.34,411.44 L410.55,410.47 L411.68,410.94 L412.73,410.87 L413.72,411.38 L414.65,410.81 L415.52,409.17 L416.34,409.98 L417.13,410.04 L417.88,410.24 L418.6,409.89 L419.31,410.62 L420,410.09 L420.68,408.72 L421.36,408.92 L422.05,408.03 L422.75,410.03 L423.47,408.89 L424.22,408.78 L425,407.87 L426.3,408.33 L427.54,408.65 L428.72,408.02 L429.85,407.87 L430.93,407.59 L431.96,408.87 L432.95,407.3 L433.91,406.64 L434.84,406.99 L435.74,406.91 L436.62,406.87 L437.48,406.59 L438.33,405.91 L439.17,406.21 L440,406.31 L441.21,404.97 L442.35,406.5 L443.43,405.97 L444.46,403.63 L445.44,404.03 L446.38,404.38 L447.3,404.12 L448.21,403.9 L449.1,401.38 L450,401.27 L450.87,401.07 L451.7,401.11 L452.5,399.64 L453.27,399.9 L454.03,399.3 L454.79,398.8 L455.55,397 L456.34,397.11 L457.15,396.27 L458,395.17 L458.64,395.51 L459.3,393.95 L459.97,394.23 L460.66,392.36 L461.36,392.9 L462.07,392.1 L462.78,389.93 L463.49,389.79 L464.19,388.98 L464.89,387.46 L465.57,387.66 L466.23,386.78 L466.88,385.19 L467.5,384.99 L468.2,384.6 L468.87,383.19 L469.52,382.07 L470.15,382.58 L470.77,380.32 L471.38,380.27 L471.98,379.9 L472.57,378.9 L473.17,376.59 L473.77,376.58 L474.38,375.81 L475,374.84 L475.54,374.5 L476.07,373.62 L476.61,372.53 L477.14,371.73 L477.68,371.26 L478.21,370.49 L478.75,367.83 L479.29,369.19 L479.82,366.74 L480.36,366.56 L480.89,364.3 L481.43,364.01 L481.96,362.68 L482.5,363.09 L483.03,362.09 L483.55,360.7 L484.06,359.69 L484.57,359.1 L485.08,357.45 L485.58,356.73 L486.09,355.73 L486.61,355.71 L487.14,354.37 L487.67,352.76 L488.23,352.78 L488.8,352 L489.39,351.62 L490,349.68 L490.59,349.43 L491.21,349.58 L491.84,347.45 L492.49,346.65 L493.15,346.36 L493.82,345.02 L494.5,344.54 L495.19,343.5 L495.88,342.6 L496.57,342.79 L497.27,341.36 L497.96,340.29 L498.65,339.99 L499.33,339.38 L500,338.96 L500.77,338.55 L501.54,338.26 L502.31,335.86 L503.08,335.68 L503.85,334.09 L504.62,334.54 L505.38,334.02 L506.15,332.7 L506.92,331.91 L507.69,331.23 L508.46,330.33 L509.23,330.91 L510,331.04 L510.93,328.66 L511.89,329.54 L512.88,327.91 L513.87,326.56 L514.86,327.04 L515.83,326.56 L516.77,325.81 L517.67,324.92 L518.52,325.52 L519.3,323.99 L520,324.12 L521.62,323.32 L522.88,321.97 L523.82,321.15 L524.5,320.99" fill="none" stroke="#000" stroke-width="3.8" stroke-linejoin="round" stroke-linecap="round" />
<path d="M524.5,321.74 L524.01,322.06 L523.54,320.75 L523.1,321.2 L522.65,322.3 L522.18,320.28 L521.68,321.35 L521.13,321.1 L520.51,321.15 L519.82,319.68 L519.03,320.49 L518.13,319.32 L517.1,320.63 L515.93,319.21 L514.59,319.71 L513.09,318.87 L511.39,319.23 L509.49,318.14 L507.36,319.02 L505,319.08 L504.36,318.71 L503.71,319.59 L503.04,318.87 L502.36,319.08 L501.66,318.9 L500.95,319.64 L500.23,318.21 L499.49,318.4 L498.74,318.41 L497.97,318.86 L497.19,318.64 L496.4,318.94 L495.6,318.62 L494.78,318.15 L493.95,318.38 L493.11,318.65 L492.26,317.11 L491.39,319.15 L490.52,318.04 L489.63,318.14 L488.73,318.47 L487.82,318.17 L486.91,317.49 L485.98,318.16 L485.04,319.05 L484.09,318.85 L483.13,318.95 L482.16,317.93 L481.18,318.11 L480.2,318.81 L479.2,319.05 L478.2,318.22 L477.18,317.65 L476.16,317.11 L475.14,318.98 L474.1,317.32 L473.06,318.41 L472,318.66 L470.95,319.98 L469.88,318.25 L468.81,318.07 L467.73,318.39 L466.65,318.42 L465.56,318.88 L464.46,318.5 L463.36,317.68 L462.26,316.92 L461.14,318.27 L460.03,317.71 L458.91,318.89 L457.78,317.35 L456.65,318.2 L455.52,317.67 L454.38,317.58 L453.24,319.01 L452.1,318.16 L450.95,317.96 L449.8,318.48 L448.64,317.61 L447.49,317.84 L446.33,317.69 L445.17,319.17 L444.01,318.23 L442.84,318.39 L441.68,318.67 L440.51,317.92 L439.35,317.94 L438.18,317.09 L437.01,318.29 L435.84,318.16 L434.67,317.78 L433.5,318.69 L432.33,316.99 L431.17,318.24 L430,317.21 L429.12,317.35 L428.24,317.87 L427.34,318.75 L426.44,317.31 L425.53,317.42 L424.62,317.29 L423.7,319.13 L422.77,318.28 L421.84,318.21 L420.9,319.15 L419.95,318.12 L419,316.78 L418.05,317.68 L417.08,317.29 L416.12,319.12 L415.14,317.16 L414.16,318.14 L413.18,317.67 L412.19,317.71 L411.2,317.98 L410.2,317.89 L409.2,317.57 L408.2,317.26 L407.19,317.59 L406.17,317.36 L405.15,317.44 L404.13,318.03 L403.11,317.87 L402.08,318.23 L401.05,317.82 L400.02,319.06 L398.98,317.54 L397.94,317.39 L396.9,318.55 L395.85,317.56 L394.81,318.03 L393.76,318.52 L392.71,317.91 L391.65,317.76 L390.6,318.52 L389.54,318.16 L388.49,317.67 L387.43,317.29 L386.37,317.76 L385.31,317.03 L384.25,317.48 L383.19,317.35 L382.12,318.15 L381.06,318.42 L380,317.61 L378.94,317.73 L377.88,317.36 L376.81,317.2 L375.75,317.75 L374.69,318.32 L373.63,318.27 L372.57,318.34 L371.51,317.85 L370.46,316.45 L369.4,318.54 L368.35,318.77 L367.29,318.54 L366.24,318.54 L365.19,318.66 L364.15,319.57 L363.1,318.23 L362.06,318.94 L361.02,318.52 L359.98,318.45 L358.95,317.99 L357.92,317.88 L356.89,317.44 L355.87,318.42 L354.85,317.91 L353.83,317.41 L352.81,317.67 L351.8,317.43 L350.8,319.03 L349.8,317.98 L348.8,318.19 L347.81,317.44 L346.82,317.55 L345.84,318.75 L344.86,318.02 L343.88,318.29 L342.92,319.22 L341.95,319.38 L341,318.58 L340.05,318.48 L339.1,318.34 L338.16,318.05 L337.23,319.38 L336.3,317.54 L335.38,318.19 L334.47,317.15 L333.56,317.54 L332.66,318.5 L331.76,318.54 L330.88,318.48 L330,318.11 L328.83,317.91 L327.66,318.02 L326.5,318.12 L325.33,318.98 L324.15,319.21 L322.98,318.64 L321.81,318.1 L320.64,317.88 L319.47,318.61 L318.31,318.32 L317.14,317.43 L315.97,319.27 L314.81,318.5 L313.64,318.34 L312.48,318.05 L311.32,318.07 L310.16,319.1 L309.01,318.06 L307.86,318.68 L306.71,319.01 L305.56,319.72 L304.42,319.03 L303.28,318.69 L302.15,318.48 L301.02,319.24 L299.89,319.35 L298.77,318.55 L297.66,319.15 L296.55,318.76 L295.44,317.94 L294.34,318.31 L293.25,319.37 L292.16,319.76 L291.08,319.35 L290,318.87 L288.93,318.6 L287.87,319.34 L286.82,319.25 L285.77,318.16 L284.73,319.48 L283.7,318.73 L282.68,319.54 L281.66,319.49 L280.66,319.62 L279.66,319.84 L278.67,319.66 L277.69,318.68 L276.72,318.73 L275.76,319.93 L274.81,319.63 L273.88,318.49 L272.95,318.26 L272.03,319.95 L271.12,320.74 L270.23,319.96 L269.34,319.38 L268.47,319.69 L267.61,318.01 L266.76,319.02 L265.92,320.2 L265.1,320.14 L264.28,318.46 L263.49,320.37 L262.7,320.03 L261.93,320.28 L261.17,319.66 L260.43,319.8 L259.7,319.21 L258.98,320.03 L258.28,320.39 L257.59,319.36 L256.92,320.14 L256.27,319.65 L255.62,320.57 L255,320.56 L252.46,318.76 L250.28,320.48 L248.41,320.9 L246.82,320.11 L245.49,320.41 L244.37,320.56 L243.45,320.1 L242.68,320.8 L242.03,321.87 L241.48,321.36 L240.99,322.08 L240.53,321.9 L240.06,322.14 L239.55,321.66 L238.98,322.16 L238.31,323.01 L237.5,322.84 L236.28,322.39 L235.1,322.01 L233.96,322.08 L232.87,322.94 L231.81,323.27 L230.78,322.18 L229.78,323.59 L228.8,323.92 L227.83,324.17 L226.88,323.99 L225.94,325.95 L225,325.5 L224,324.65 L223.03,325.49 L222.09,326.84 L221.18,327.19 L220.29,327.5 L219.4,327.98 L218.53,328.47 L217.66,328.97 L216.78,329.29 L215.9,330.9 L215,329.71 L214.28,331.47 L213.55,333.21 L212.81,332.69 L212.07,333.12 L211.33,335.56 L210.58,335.77 L209.84,335.81 L209.11,336.29 L208.39,337.24 L207.67,337.93 L206.98,338.77 L206.3,339.27 L205.64,340.79 L205,340.96 L204.39,341.05 L203.82,342.16 L203.27,343.72 L202.75,343.97 L202.24,343.99 L201.74,347.11 L201.25,347.41 L200.76,347.75 L200.26,348.63 L199.75,350.14 L199.23,351.58 L198.68,351.41 L198.11,352.98 L197.5,353.41 L197.03,354.71 L196.55,354.67 L196.06,355.08 L195.56,357 L195.05,357.75 L194.53,359.05 L194,359.13 L193.47,361.16 L192.93,361.32 L192.38,363.02 L191.84,362.84 L191.29,364.78 L190.74,364.77 L190.2,365.77 L189.65,367.11 L189.11,366.42 L188.57,367.68 L188.03,370.18 L187.5,369.1 L186.94,370.54 L186.39,372 L185.83,373.38 L185.28,373.11 L184.72,374.32 L184.17,374.45 L183.61,375.72 L183.06,377.36 L182.5,377.8 L181.94,378.43 L181.39,379.51 L180.83,380.18 L180.28,381.01 L179.72,381.53 L179.17,381.99 L178.61,383.74 L178.06,383.51 L177.5,385.55 L176.92,387.03 L176.34,387.55 L175.77,388.88 L175.2,387.84 L174.64,389.45 L174.07,389.71 L173.51,390.63 L172.94,390.94 L172.37,392.08 L171.8,394.09 L171.21,394.82 L170.62,395.9 L170.02,396.63 L169.41,397.18 L168.79,397 L168.15,398.07 L167.5,399.2 L166.68,400.23 L165.81,399.99 L164.92,400.55 L164,401.18 L163.06,402.89 L162.12,402.83 L161.17,402.84 L160.22,403.06 L159.29,404.22 L158.37,403.48 L157.47,404.76 L156.61,405.02 L155.78,405.48 L155,406.41 L153.94,407.23 L152.88,409.44 L151.84,408.51 L150.83,409.57 L149.87,409.41 L148.97,409.59 L148.15,411.79 L147.42,412.79 L146.8,411.57 L146.3,412.46" fill="none" stroke="#000" stroke-width="3.8" stroke-linejoin="round" stroke-linecap="round" />
<path d="M707.3,238.7 L707.81,238.68 L708.34,238.66 L708.9,238.64 L709.47,238.62 L710.06,238.6 L710.67,238.57 L711.3,238.55 L711.95,238.53 L712.61,238.5 L713.3,238.48 L714,238.45 L714.71,238.43 L715.45,238.4 L716.2,238.37 L716.96,238.34 L717.75,238.32 L718.55,238.29 L719.36,238.26 L720.19,238.23 L721.03,238.2 L721.89,238.17 L722.76,238.14 L723.64,238.1 L724.54,238.07 L725.45,238.04 L726.37,238.01 L727.31,237.97 L728.26,237.94 L729.22,237.9 L730.19,237.87 L731.17,237.83 L732.16,237.8 L733.17,237.76 L734.18,237.73 L735.2,237.69 L736.24,237.65 L737.28,237.61 L738.33,237.58 L739.39,237.54 L740.46,237.5 L741.53,237.46 L742.62,237.42 L743.71,237.38 L744.8,237.34 L745.91,237.3 L747.02,237.26 L748.14,237.22 L749.26,237.18 L750.39,237.14 L751.52,237.09 L752.66,237.05 L753.8,237.01 L754.95,236.97 L756.1,236.92 L757.25,236.88 L758.41,236.84 L759.57,236.79 L760.74,236.75 L761.9,236.71 L763.07,236.66 L764.24,236.62 L765.41,236.57 L766.58,236.53 L767.75,236.48 L768.92,236.44 L770.1,236.39 L771.27,236.35 L772.44,236.3 L773.61,236.26 L774.78,236.21 L775.95,236.17 L777.12,236.12 L778.28,236.08 L779.44,236.03 L780.6,235.98 L781.76,235.94 L782.91,235.89 L784.06,235.84 L785.21,235.8 L786.35,235.75 L787.49,235.7 L788.62,235.66 L789.74,235.61 L790.87,235.56 L791.98,235.52 L793.09,235.47 L794.19,235.43 L795.29,235.38 L796.38,235.33 L797.46,235.29 L798.53,235.24 L799.6,235.19 L800.65,235.15 L801.7,235.1 L802.67,235.06 L803.66,235.01 L804.65,234.97 L805.64,234.92 L806.64,234.88 L807.65,234.83 L808.67,234.79 L809.69,234.74 L810.71,234.69 L811.74,234.65 L812.78,234.6 L813.82,234.55 L814.87,234.5 L815.92,234.45 L816.98,234.4 L818.04,234.35 L819.1,234.3 L820.17,234.25 L821.24,234.2 L822.32,234.15 L823.4,234.1 L824.48,234.05 L825.57,234 L826.66,233.95 L827.75,233.89 L828.84,233.84 L829.94,233.79 L831.03,233.74 L832.13,233.68 L833.23,233.63 L834.34,233.58 L835.44,233.52 L836.54,233.47 L837.65,233.42 L838.76,233.36 L839.86,233.31 L840.97,233.25 L842.08,233.2 L843.18,233.14 L844.29,233.09 L845.4,233.03 L846.5,232.98 L847.61,232.92 L848.71,232.87 L849.81,232.81 L850.91,232.76 L852.01,232.7 L853.11,232.65 L854.21,232.59 L855.3,232.54 L856.39,232.49 L857.48,232.43 L858.56,232.38 L859.64,232.32 L860.72,232.27 L861.8,232.21 L862.87,232.16 L863.94,232.1 L865,232.05 L866.06,231.99 L867.12,231.94 L868.17,231.89 L869.21,231.83 L870.25,231.78 L871.29,231.72 L872.32,231.67 L873.34,231.62 L874.36,231.56 L875.38,231.51 L876.38,231.46 L877.38,231.41 L878.38,231.36 L879.37,231.3 L880.35,231.25 L881.32,231.2 L882.29,231.15 L883.25,231.1 L884.2,231.05 L885.14,231 L886.07,230.95 L887,230.9 L887.92,230.85 L888.83,230.8 L889.73,230.75 L890.62,230.71 L891.5,230.66 L892.38,230.61 L893.24,230.56 L894.09,230.52 L894.94,230.47 L895.77,230.43 L896.59,230.38 L897.41,230.34 L898.21,230.29 L899,230.25 L899.78,230.21 L900.55,230.16 L901.3,230.12 L902.05,230.08 L902.78,230.04 L903.5,230 L905.2,229.9 L906.85,229.81 L908.45,229.71 L910.02,229.62 L911.54,229.52 L913.03,229.43 L914.47,229.34 L915.87,229.24 L917.24,229.15 L918.57,229.06 L919.86,228.97 L921.11,228.88 L922.33,228.8 L923.51,228.71 L924.67,228.63 L925.78,228.54 L926.87,228.46 L927.93,228.38 L928.95,228.3 L929.95,228.22 L930.91,228.14 L931.85,228.07 L932.76,228 L933.65,227.92 L934.51,227.85 L935.34,227.79 L936.15,227.72 L936.94,227.66 L937.71,227.59 L938.45,227.53 L939.17,227.48 L939.88,227.42 L940.56,227.37 L941.23,227.32 L941.88,227.27 L942.51,227.22 L943.13,227.18 L943.73,227.14 L944.31,227.1 L944.89,227.06 L945.45,227.03 L946,227 L949.99,226.99 L949.62,227.39 L949.2,227.6 L950.66,227.16 L952,226.6 L948.56,226.57 L954.3,226.2 L954.83,226.17 L955.38,226.14 L955.94,226.11 L956.53,226.08 L957.14,226.05 L957.77,226.01 L958.42,225.98 L959.08,225.94 L959.77,225.9 L960.47,225.86 L961.19,225.83 L961.92,225.79 L962.68,225.74 L963.45,225.7 L964.24,225.66 L965.04,225.61 L965.86,225.57 L966.7,225.52 L967.55,225.48 L968.41,225.43 L969.29,225.38 L970.18,225.33 L971.09,225.28 L972.01,225.23 L972.95,225.18 L973.9,225.13 L974.86,225.08 L975.83,225.03 L976.81,224.98 L977.81,224.92 L978.82,224.87 L979.83,224.81 L980.86,224.76 L981.9,224.7 L982.95,224.65 L984.01,224.59 L985.08,224.54 L986.16,224.48 L987.24,224.42 L988.34,224.37 L989.44,224.31 L990.55,224.25 L991.67,224.2 L992.79,224.14 L993.92,224.08 L995.06,224.02 L996.21,223.97 L997.36,223.91 L998.51,223.85 L999.67,223.79 L1000.84,223.74 L1002.01,223.68 L1003.18,223.62 L1004.36,223.56 L1005.54,223.51 L1006.73,223.45 L1007.91,223.39 L1009.1,223.34 L1010.3,223.28 L1011.49,223.23 L1012.69,223.17 L1013.88,223.12 L1015.08,223.06 L1016.28,223.01 L1017.48,222.95 L1018.68,222.9 L1019.88,222.85 L1021.08,222.8 L1022.27,222.74 L1023.47,222.69 L1024.66,222.64 L1025.86,222.59 L1027.05,222.54 L1028.23,222.49 L1029.42,222.45 L1030.6,222.4 L1031.48,222.37 L1032.37,222.33 L1033.28,222.3 L1034.2,222.26 L1035.13,222.23 L1036.07,222.19 L1037.03,222.15 L1038,222.12 L1038.99,222.08 L1039.98,222.05 L1040.99,222.01 L1042,221.97 L1043.03,221.94 L1044.07,221.9 L1045.11,221.86 L1046.17,221.83 L1047.24,221.79 L1048.31,221.75 L1049.39,221.71 L1050.48,221.68 L1051.58,221.64 L1052.68,221.6 L1053.8,221.57 L1054.91,221.53 L1056.04,221.49 L1057.17,221.45 L1058.31,221.42 L1059.45,221.38 L1060.59,221.34 L1061.74,221.3 L1062.9,221.27 L1064.06,221.23 L1065.22,221.19 L1066.38,221.15 L1067.55,221.12 L1068.72,221.08 L1069.89,221.04 L1071.06,221 L1072.24,220.97 L1073.41,220.93 L1074.59,220.89 L1075.76,220.86 L1076.94,220.82 L1078.11,220.78 L1079.29,220.75 L1080.46,220.71 L1081.63,220.67 L1082.8,220.64 L1083.96,220.6 L1085.13,220.57 L1086.29,220.53 L1087.45,220.49 L1088.6,220.46 L1089.75,220.42 L1090.9,220.39 L1092.04,220.35 L1093.17,220.32 L1094.3,220.29 L1095.42,220.25 L1096.54,220.22 L1097.65,220.19 L1098.75,220.15 L1099.85,220.12 L1100.94,220.09 L1102.02,220.05 L1103.09,220.02 L1104.16,219.99 L1105.21,219.96 L1106.25,219.93 L1107.29,219.9 L1108.31,219.87 L1109.33,219.83 L1110.33,219.8 L1111.32,219.78 L1112.3,219.75 L1113.27,219.72 L1114.23,219.69 L1115.17,219.66 L1116.1,219.63 L1117.02,219.6 L1117.92,219.58 L1118.81,219.55 L1119.69,219.53 L1120.55,219.5 L1121.39,219.47 L1122.22,219.45 L1123.04,219.42 L1123.83,219.4 L1124.61,219.38 L1125.38,219.35 L1126.12,219.33 L1126.85,219.31 L1127.56,219.29 L1128.25,219.27 L1128.93,219.25 L1129.58,219.23 L1130.22,219.21 L1130.83,219.19 L1131.43,219.17 L1132,219.15 L1132.56,219.13 L1133.09,219.12 L1133.6,219.1" fill="none" stroke="#ff0000" stroke-width="3.6" stroke-linejoin="round" stroke-linecap="round" />
<path d="M1133.6,161.3 L1133.06,161.34 L1132.46,161.39 L1131.8,161.43 L1131.07,161.49 L1130.29,161.55 L1129.46,161.61 L1128.57,161.67 L1127.64,161.74 L1126.67,161.81 L1125.66,161.89 L1124.62,161.96 L1123.54,162.04 L1122.43,162.12 L1121.3,162.21 L1120.15,162.29 L1118.98,162.38 L1117.8,162.47 L1116.61,162.56 L1115.4,162.64 L1114.2,162.73 L1112.99,162.82 L1111.79,162.91 L1110.6,163 L1109.41,163.09 L1108.24,163.18 L1107.08,163.27 L1105.95,163.35 L1104.84,163.44 L1103.75,163.52 L1102.7,163.6 L1101.68,163.68 L1100.7,163.76 L1099.77,163.83 L1098.87,163.91 L1098.03,163.97 L1097.24,164.04 L1096.5,164.1 L1094.9,164.24 L1093.57,164.35 L1092.46,164.45 L1091.53,164.54 L1090.74,164.62 L1090.05,164.69 L1089.42,164.76 L1088.79,164.84 L1088.14,164.92 L1087.41,165 L1086.57,165.1 L1085.57,165.22 L1084.37,165.36 L1082.93,165.51 L1081.2,165.7 L1080.49,165.78 L1079.75,165.85 L1078.97,165.94 L1078.16,166.02 L1077.33,166.11 L1076.46,166.2 L1075.56,166.3 L1074.64,166.4 L1073.69,166.5 L1072.72,166.6 L1071.73,166.7 L1070.72,166.81 L1069.69,166.92 L1068.65,167.03 L1067.59,167.14 L1066.52,167.26 L1065.43,167.37 L1064.34,167.49 L1063.24,167.6 L1062.13,167.72 L1061.01,167.84 L1059.89,167.96 L1058.77,168.08 L1057.65,168.2 L1056.53,168.32 L1055.41,168.44 L1054.29,168.56 L1053.18,168.68 L1052.08,168.79 L1050.99,168.91 L1049.91,169.03 L1048.84,169.14 L1047.78,169.26 L1046.74,169.37 L1045.71,169.48 L1044.7,169.59 L1043.72,169.69 L1042.75,169.8 L1041.81,169.9 L1040.89,170 L1040,170.1 L1038.8,170.23 L1037.62,170.36 L1036.44,170.49 L1035.27,170.62 L1034.11,170.75 L1032.96,170.87 L1031.82,171 L1030.69,171.12 L1029.57,171.24 L1028.46,171.37 L1027.37,171.49 L1026.28,171.61 L1025.21,171.73 L1024.15,171.85 L1023.11,171.96 L1022.07,172.08 L1021.05,172.19 L1020.05,172.31 L1019.06,172.42 L1018.08,172.53 L1017.12,172.64 L1016.17,172.75 L1015.24,172.86 L1014.33,172.97 L1013.43,173.08 L1012.55,173.19 L1011.69,173.29 L1010.84,173.39 L1010.01,173.5 L1009.2,173.6 L1007.83,173.77 L1006.55,173.94 L1005.34,174.1 L1004.2,174.25 L1003.12,174.4 L1002.1,174.55 L1001.11,174.69 L1000.17,174.83 L999.25,174.97 L998.35,175.11 L997.46,175.25 L996.58,175.4 L995.68,175.55 L994.78,175.7 L993.85,175.86 L992.9,176.03 L991.9,176.2 L990.88,176.38 L989.86,176.57 L988.85,176.75 L987.83,176.94 L986.81,177.14 L985.79,177.34 L984.78,177.54 L983.76,177.74 L982.74,177.95 L981.72,178.16 L980.71,178.37 L979.69,178.58 L978.67,178.8 L977.65,179.02 L976.64,179.25 L975.62,179.47 L974.6,179.7 L973.58,179.93 L972.56,180.15 L971.55,180.38 L970.53,180.6 L969.51,180.83 L968.49,181.05 L967.48,181.28 L966.46,181.52 L965.44,181.76 L964.42,182 L963.41,182.26 L962.39,182.52 L961.37,182.79 L960.35,183.08 L959.34,183.37 L958.32,183.68 L957.3,184 L956.33,184.32 L955.33,184.66 L954.31,185.02 L953.28,185.39 L952.24,185.77 L951.19,186.17 L950.15,186.57 L949.11,186.98 L948.07,187.39 L947.06,187.8 L946.06,188.21 L945.09,188.62 L944.14,189.03 L943.23,189.42 L942.35,189.81 L941.52,190.19 L940.73,190.55 L940,190.9 L938.69,191.56 L937.54,192.19 L936.54,192.79 L935.66,193.37 L934.86,193.93 L934.11,194.49 L933.39,195.05 L932.66,195.62 L931.9,196.2 L931.03,196.84 L930.18,197.45 L929.37,198.05 L928.59,198.65 L927.84,199.28 L927.12,199.95 L926.44,200.68 L925.8,201.5 L925.26,202.32 L924.75,203.23 L924.26,204.21 L923.81,205.23 L923.38,206.26 L922.97,207.28 L922.59,208.26 L922.23,209.17 L921.9,210 L921.41,211.17 L921.05,212.05 L920.75,212.89 L920.42,213.93 L920,215.4 L919.79,216.19 L919.59,217.09 L919.38,218.06 L919.17,219.1 L918.95,220.19 L918.71,221.31 L918.47,222.45 L918.2,223.57 L917.91,224.68 L917.6,225.75 L917.27,226.76 L916.9,227.7 L916.46,228.65 L916,229.56 L915.5,230.43 L914.97,231.27 L914.42,232.09 L913.85,232.89 L913.26,233.68 L912.66,234.47 L912.05,235.26 L911.43,236.07 L910.8,236.9 L910.22,237.68 L909.63,238.46 L909.02,239.26 L908.41,240.06 L907.79,240.85 L907.15,241.65 L906.5,242.44 L905.84,243.22 L905.17,243.99 L904.49,244.75 L903.8,245.48 L903.1,246.2 L902.38,246.9 L901.64,247.58 L900.88,248.25 L900.1,248.91 L899.31,249.55 L898.52,250.19 L897.72,250.81 L896.92,251.43 L896.13,252.03 L895.34,252.63 L894.56,253.22 L893.8,253.8 L892.94,254.47 L892.16,255.11 L891.43,255.73 L890.71,256.33 L889.97,256.92 L889.19,257.51 L888.34,258.12 L887.37,258.75 L886.27,259.4 L885,260.1 L884.29,260.47 L883.52,260.85 L882.7,261.24 L881.84,261.65 L880.94,262.06 L880.01,262.48 L879.04,262.91 L878.06,263.34 L877.06,263.77 L876.04,264.21 L875.02,264.64 L874.01,265.07 L872.99,265.49 L871.99,265.91 L871,266.32 L870.04,266.72 L869.1,267.11 L868.19,267.49 L867.32,267.85 L866.5,268.2 L865.4,268.67 L864.37,269.1 L863.4,269.51 L862.47,269.9 L861.58,270.28 L860.71,270.64 L859.85,270.99 L858.99,271.34 L858.1,271.69 L857.19,272.05 L856.24,272.41 L855.23,272.79 L854.16,273.18 L853,273.6 L852.19,273.89 L851.34,274.19 L850.48,274.51 L849.58,274.83 L848.67,275.15 L847.74,275.49 L846.79,275.82 L845.83,276.16 L844.85,276.5 L843.87,276.84 L842.87,277.18 L841.87,277.52 L840.86,277.85 L839.85,278.18 L838.84,278.5 L837.84,278.81 L836.83,279.11 L835.83,279.4 L834.85,279.68 L833.87,279.95 L832.9,280.2 L831.9,280.45 L830.91,280.68 L829.94,280.9 L828.97,281.12 L828.01,281.32 L827.06,281.51 L826.1,281.69 L825.15,281.87 L824.19,282.04 L823.23,282.2 L822.25,282.36 L821.27,282.52 L820.27,282.67 L819.26,282.83 L818.22,282.98 L817.17,283.14 L816.09,283.3 L814.99,283.46 L813.86,283.63 L812.7,283.8 L811.82,283.93 L810.92,284.06 L810.01,284.19 L809.08,284.32 L808.13,284.45 L807.17,284.57 L806.2,284.7 L805.22,284.83 L804.23,284.96 L803.23,285.09 L802.22,285.21 L801.21,285.34 L800.19,285.47 L799.16,285.59 L798.13,285.72 L797.1,285.85 L796.06,285.97 L795.02,286.1 L793.98,286.22 L792.95,286.34 L791.91,286.47 L790.88,286.59 L789.85,286.71 L788.83,286.84 L787.81,286.96 L786.8,287.08 L785.8,287.2 L784.8,287.32 L783.8,287.44 L782.8,287.56 L781.8,287.68 L780.8,287.8 L779.8,287.92 L778.8,288.04 L777.8,288.17 L776.8,288.29 L775.8,288.4 L774.8,288.52 L773.8,288.64 L772.8,288.76 L771.8,288.88 L770.8,288.99 L769.8,289.11 L768.8,289.22 L767.8,289.34 L766.8,289.45 L765.8,289.56 L764.8,289.67 L763.8,289.78 L762.8,289.89 L761.8,289.99 L760.8,290.1 L759.8,290.2 L758.8,290.3 L757.76,290.4 L756.72,290.5 L755.68,290.6 L754.63,290.7 L753.59,290.8 L752.54,290.89 L751.49,290.98 L750.44,291.08 L749.39,291.17 L748.34,291.26 L747.29,291.34 L746.25,291.43 L745.2,291.52 L744.16,291.6 L743.11,291.69 L742.07,291.77 L741.04,291.86 L740,291.94 L738.97,292.02 L737.95,292.11 L736.93,292.19 L735.91,292.27 L734.9,292.35 L733.89,292.44 L732.89,292.52 L731.9,292.6 L730.81,292.69 L729.69,292.78 L728.55,292.88 L727.38,292.97 L726.2,293.07 L725.01,293.17 L723.82,293.27 L722.62,293.36 L721.43,293.46 L720.24,293.56 L719.07,293.65 L717.92,293.74 L716.79,293.83 L715.69,293.92 L714.62,294.01 L713.59,294.09 L712.61,294.17 L711.67,294.25 L710.78,294.32 L709.95,294.39 L709.18,294.45 L708.48,294.5 L707.85,294.56 L707.3,294.6" fill="none" stroke="#008000" stroke-width="3.2" stroke-linejoin="round" stroke-linecap="round" />
<path d="M707.3,295.6 L707.85,295.56 L708.48,295.5 L709.18,295.45 L709.95,295.39 L710.78,295.32 L711.67,295.25 L712.61,295.17 L713.59,295.09 L714.62,295.01 L715.69,294.92 L716.79,294.83 L717.92,294.74 L719.07,294.65 L720.24,294.56 L721.43,294.46 L722.62,294.36 L723.82,294.27 L725.01,294.17 L726.2,294.07 L727.38,293.97 L728.55,293.88 L729.69,293.78 L730.81,293.69 L731.9,293.6 L732.89,293.52 L733.89,293.44 L734.9,293.35 L735.91,293.27 L736.93,293.19 L737.95,293.11 L738.97,293.02 L740,292.94 L741.04,292.86 L742.07,292.77 L743.11,292.69 L744.16,292.6 L745.2,292.52 L746.25,292.43 L747.29,292.34 L748.34,292.26 L749.39,292.17 L750.44,292.08 L751.49,291.98 L752.54,291.89 L753.59,291.8 L754.63,291.7 L755.68,291.6 L756.72,291.5 L757.76,291.4 L758.8,291.3 L759.8,291.2 L760.8,291.1 L761.8,290.99 L762.8,290.89 L763.8,290.78 L764.8,290.67 L765.8,290.56 L766.8,290.45 L767.8,290.34 L768.8,290.22 L769.8,290.11 L770.8,289.99 L771.8,289.88 L772.8,289.76 L773.8,289.64 L774.8,289.52 L775.8,289.4 L776.8,289.29 L777.8,289.17 L778.8,289.04 L779.8,288.92 L780.8,288.8 L781.8,288.68 L782.8,288.56 L783.8,288.44 L784.8,288.32 L785.8,288.2 L786.8,288.08 L787.81,287.96 L788.83,287.84 L789.85,287.71 L790.88,287.59 L791.91,287.47 L792.95,287.34 L793.98,287.22 L795.02,287.1 L796.06,286.97 L797.1,286.85 L798.13,286.72 L799.16,286.59 L800.19,286.47 L801.21,286.34 L802.22,286.21 L803.23,286.09 L804.23,285.96 L805.22,285.83 L806.2,285.7 L807.17,285.57 L808.13,285.45 L809.08,285.32 L810.01,285.19 L810.92,285.06 L811.82,284.93 L812.7,284.8 L813.86,284.62 L814.99,284.45 L816.09,284.27 L817.17,284.09 L818.22,283.91 L819.26,283.73 L820.27,283.55 L821.27,283.37 L822.25,283.19 L823.23,283.01 L824.19,282.83 L825.15,282.65 L826.1,282.47 L827.06,282.29 L828.01,282.1 L828.97,281.92 L829.94,281.74 L830.91,281.56 L831.9,281.38 L832.9,281.2 L833.92,281.02 L834.94,280.84 L835.98,280.66 L837.03,280.48 L838.09,280.3 L839.15,280.11 L840.21,279.93 L841.26,279.75 L842.32,279.57 L843.37,279.39 L844.41,279.21 L845.44,279.03 L846.46,278.85 L847.46,278.67 L848.44,278.49 L849.4,278.31 L850.34,278.13 L851.26,277.95 L852.14,277.78 L853,277.6 L854.24,277.34 L855.39,277.08 L856.46,276.83 L857.48,276.58 L858.45,276.34 L859.39,276.09 L860.31,275.84 L861.24,275.59 L862.19,275.34 L863.18,275.07 L864.21,274.79 L865.32,274.5 L866.5,274.2 L867.37,273.98 L868.28,273.75 L869.23,273.52 L870.21,273.27 L871.22,273.02 L872.25,272.76 L873.3,272.5 L874.35,272.24 L875.41,271.98 L876.47,271.71 L877.53,271.45 L878.57,271.18 L879.59,270.93 L880.58,270.67 L881.55,270.42 L882.48,270.18 L883.37,269.94 L884.21,269.72 L885,269.5 L886.37,269.12 L887.59,268.78 L888.7,268.47 L889.72,268.18 L890.68,267.89 L891.6,267.6 L892.51,267.3 L893.42,266.97 L894.38,266.61 L895.4,266.2 L896.31,265.82 L897.25,265.39 L898.22,264.94 L899.2,264.47 L900.19,263.98 L901.16,263.49 L902.12,262.99 L903.04,262.51 L903.93,262.04 L904.75,261.59 L905.52,261.18 L906.2,260.8 L907.49,260.07 L908.41,259.5 L909.15,259 L909.88,258.43 L910.8,257.7 L911.5,257.18 L912.25,256.67 L913.04,256.15 L913.85,255.57 L914.66,254.93 L915.45,254.19 L916.2,253.32 L916.9,252.3 L917.31,251.58 L917.71,250.79 L918.09,249.93 L918.48,249.02 L918.85,248.07 L919.21,247.08 L919.56,246.07 L919.91,245.04 L920.24,244.01 L920.57,242.98 L920.89,241.96 L921.2,240.96 L921.5,240 L921.81,238.97 L922.09,237.93 L922.35,236.89 L922.59,235.84 L922.82,234.8 L923.05,233.76 L923.28,232.72 L923.51,231.69 L923.75,230.67 L924.01,229.66 L924.29,228.67 L924.6,227.7 L924.94,226.66 L925.28,225.62 L925.62,224.6 L925.96,223.59 L926.32,222.6 L926.71,221.62 L927.12,220.65 L927.57,219.69 L928.06,218.75 L928.6,217.82 L929.2,216.9 L929.76,216.14 L930.38,215.38 L931.04,214.64 L931.74,213.9 L932.48,213.18 L933.23,212.46 L934,211.75 L934.77,211.06 L935.55,210.37 L936.32,209.69 L937.07,209.02 L937.8,208.35 L938.5,207.7 L939.29,206.94 L940.05,206.21 L940.8,205.49 L941.54,204.79 L942.27,204.1 L943,203.42 L943.74,202.74 L944.49,202.07 L945.26,201.39 L946.06,200.7 L946.9,200 L947.67,199.35 L948.44,198.71 L949.2,198.06 L949.96,197.41 L950.74,196.76 L951.54,196.11 L952.38,195.46 L953.25,194.8 L954.17,194.15 L955.14,193.5 L956.19,192.85 L957.3,192.2 L958.09,191.76 L958.92,191.32 L959.78,190.87 L960.68,190.42 L961.61,189.96 L962.56,189.5 L963.53,189.05 L964.52,188.59 L965.52,188.14 L966.53,187.69 L967.55,187.24 L968.58,186.81 L969.6,186.38 L970.62,185.96 L971.64,185.55 L972.64,185.15 L973.63,184.77 L974.6,184.4 L975.56,184.04 L976.52,183.7 L977.48,183.36 L978.44,183.04 L979.41,182.72 L980.37,182.41 L981.33,182.11 L982.29,181.82 L983.25,181.53 L984.21,181.25 L985.17,180.98 L986.13,180.71 L987.09,180.45 L988.06,180.19 L989.02,179.94 L989.98,179.69 L990.94,179.44 L991.9,179.2 L992.92,178.95 L993.94,178.71 L994.97,178.47 L996,178.24 L997.03,178.02 L998.07,177.81 L999.1,177.6 L1000.13,177.39 L1001.16,177.19 L1002.18,177 L1003.2,176.81 L1004.22,176.62 L1005.23,176.43 L1006.24,176.25 L1007.23,176.06 L1008.22,175.88 L1009.2,175.7 L1010.23,175.51 L1011.25,175.32 L1012.27,175.13 L1013.27,174.95 L1014.28,174.77 L1015.27,174.59 L1016.26,174.42 L1017.24,174.25 L1018.22,174.08 L1019.2,173.92 L1020.17,173.76 L1021.14,173.6 L1022.11,173.45 L1023.07,173.29 L1024.04,173.15 L1025,173 L1025.97,172.86 L1026.84,172.73 L1027.63,172.61 L1028.37,172.5 L1029.09,172.4 L1029.8,172.3 L1030.53,172.21 L1031.31,172.11 L1032.15,172 L1033.09,171.89 L1034.14,171.77 L1035.34,171.63 L1036.69,171.47 L1038.24,171.3 L1040,171.1 L1040.71,171.02 L1041.46,170.94 L1042.26,170.85 L1043.09,170.76 L1043.96,170.66 L1044.87,170.56 L1045.81,170.46 L1046.78,170.36 L1047.78,170.25 L1048.8,170.14 L1049.85,170.03 L1050.92,169.91 L1052.02,169.79 L1053.12,169.68 L1054.25,169.56 L1055.38,169.43 L1056.52,169.31 L1057.68,169.19 L1058.84,169.07 L1060,168.94 L1061.16,168.82 L1062.33,168.7 L1063.48,168.57 L1064.64,168.45 L1065.78,168.33 L1066.92,168.21 L1068.04,168.09 L1069.15,167.97 L1070.24,167.86 L1071.32,167.75 L1072.37,167.63 L1073.4,167.53 L1074.4,167.42 L1075.37,167.32 L1076.31,167.22 L1077.22,167.12 L1078.1,167.03 L1078.93,166.94 L1079.73,166.86 L1080.49,166.78 L1081.2,166.7 L1082.93,166.51 L1084.37,166.36 L1085.57,166.22 L1086.57,166.1 L1087.41,166 L1088.14,165.92 L1088.79,165.84 L1089.42,165.76 L1090.05,165.69 L1090.74,165.62 L1091.53,165.54 L1092.46,165.45 L1093.57,165.35 L1094.9,165.24 L1096.5,165.1 L1097.24,165.04 L1098.03,164.97 L1098.87,164.91 L1099.77,164.83 L1100.7,164.76 L1101.68,164.68 L1102.7,164.6 L1103.75,164.52 L1104.84,164.44 L1105.95,164.35 L1107.08,164.27 L1108.24,164.18 L1109.41,164.09 L1110.6,164 L1111.79,163.91 L1112.99,163.82 L1114.2,163.73 L1115.4,163.64 L1116.61,163.56 L1117.8,163.47 L1118.98,163.38 L1120.15,163.29 L1121.3,163.21 L1122.43,163.12 L1123.54,163.04 L1124.62,162.96 L1125.66,162.89 L1126.67,162.81 L1127.64,162.74 L1128.57,162.67 L1129.46,162.61 L1130.29,162.55 L1131.07,162.49 L1131.8,162.43 L1132.46,162.39 L1133.06,162.34 L1133.6,162.3" fill="none" stroke="#008000" stroke-width="3.2" stroke-linejoin="round" stroke-linecap="round" />
<path d="M1133.6,114.1 L1133.06,114.15 L1132.46,114.2 L1131.8,114.26 L1131.07,114.33 L1130.29,114.4 L1129.46,114.48 L1128.57,114.56 L1127.64,114.64 L1126.67,114.73 L1125.66,114.82 L1124.62,114.92 L1123.54,115.01 L1122.43,115.12 L1121.3,115.22 L1120.15,115.32 L1118.98,115.43 L1117.8,115.54 L1116.61,115.65 L1115.4,115.75 L1114.2,115.86 L1112.99,115.97 L1111.79,116.08 L1110.6,116.19 L1109.41,116.3 L1108.24,116.41 L1107.08,116.52 L1105.95,116.62 L1104.84,116.72 L1103.75,116.82 L1102.7,116.92 L1101.68,117.01 L1100.7,117.1 L1099.77,117.19 L1098.87,117.28 L1098.03,117.36 L1097.24,117.43 L1096.5,117.5 L1094.9,117.65 L1093.57,117.76 L1092.46,117.85 L1091.53,117.92 L1090.74,117.97 L1090.05,118.02 L1089.42,118.06 L1088.79,118.11 L1088.14,118.17 L1087.41,118.25 L1086.57,118.35 L1085.57,118.48 L1084.37,118.64 L1082.93,118.85 L1081.2,119.1 L1080.49,119.21 L1079.75,119.32 L1078.97,119.44 L1078.16,119.56 L1077.33,119.7 L1076.46,119.83 L1075.56,119.98 L1074.64,120.12 L1073.69,120.28 L1072.72,120.43 L1071.73,120.59 L1070.72,120.76 L1069.69,120.93 L1068.65,121.1 L1067.59,121.27 L1066.52,121.45 L1065.43,121.63 L1064.34,121.81 L1063.24,122 L1062.13,122.18 L1061.01,122.37 L1059.89,122.56 L1058.77,122.74 L1057.65,122.93 L1056.53,123.12 L1055.41,123.31 L1054.29,123.5 L1053.18,123.68 L1052.08,123.87 L1050.99,124.05 L1049.91,124.24 L1048.84,124.42 L1047.78,124.59 L1046.74,124.77 L1045.71,124.94 L1044.7,125.11 L1043.72,125.28 L1042.75,125.44 L1041.81,125.6 L1040.89,125.75 L1040,125.9 L1038.84,126.09 L1037.69,126.28 L1036.55,126.47 L1035.42,126.66 L1034.29,126.84 L1033.18,127.03 L1032.07,127.21 L1030.98,127.39 L1029.89,127.57 L1028.82,127.74 L1027.75,127.92 L1026.7,128.09 L1025.65,128.26 L1024.62,128.43 L1023.6,128.6 L1022.6,128.76 L1021.6,128.93 L1020.62,129.09 L1019.66,129.26 L1018.7,129.42 L1017.76,129.58 L1016.84,129.73 L1015.93,129.89 L1015.03,130.05 L1014.15,130.2 L1013.28,130.35 L1012.43,130.5 L1011.6,130.65 L1010.78,130.8 L1009.98,130.95 L1009.2,131.1 L1007.81,131.37 L1006.47,131.63 L1005.18,131.9 L1003.93,132.16 L1002.73,132.41 L1001.58,132.67 L1000.47,132.91 L999.41,133.16 L998.4,133.39 L997.44,133.62 L996.52,133.85 L995.65,134.06 L994.82,134.27 L994.05,134.47 L993.32,134.65 L992.64,134.83 L992,135 L989.82,135.75 L989.16,136.24 L988.4,136.6 L987.47,136.69 L986.56,136.62 L985.47,136.64 L984,137 L983.3,137.27 L982.57,137.6 L981.8,137.97 L980.98,138.39 L980.11,138.84 L979.17,139.33 L978.16,139.84 L977.07,140.38 L975.88,140.93 L974.6,141.5 L973.83,141.82 L973.02,142.14 L972.17,142.46 L971.29,142.79 L970.37,143.12 L969.42,143.46 L968.45,143.81 L967.45,144.16 L966.44,144.53 L965.42,144.9 L964.39,145.29 L963.36,145.69 L962.33,146.1 L961.3,146.52 L960.27,146.97 L959.27,147.43 L958.27,147.9 L957.3,148.4 L956.42,148.87 L955.53,149.38 L954.62,149.92 L953.69,150.48 L952.76,151.07 L951.82,151.67 L950.88,152.29 L949.94,152.92 L949,153.55 L948.07,154.18 L947.16,154.81 L946.26,155.44 L945.37,156.05 L944.51,156.65 L943.68,157.23 L942.87,157.79 L942.1,158.32 L941.36,158.81 L940.66,159.28 L940,159.7 L938.69,160.51 L937.54,161.17 L936.54,161.72 L935.66,162.19 L934.86,162.61 L934.11,163.01 L933.39,163.44 L932.66,163.93 L931.9,164.5 L931.02,165.21 L930.16,165.93 L929.33,166.67 L928.54,167.44 L927.78,168.25 L927.07,169.1 L926.41,170.02 L925.8,171 L925.36,171.85 L924.96,172.76 L924.6,173.72 L924.27,174.71 L923.96,175.73 L923.68,176.76 L923.42,177.8 L923.17,178.83 L922.93,179.83 L922.7,180.8 L922.47,181.86 L922.29,182.91 L922.14,183.97 L922.01,185.01 L921.89,186.05 L921.76,187.07 L921.61,188.07 L921.43,189.05 L921.2,190 L920.89,191 L920.56,191.92 L920.19,192.8 L919.8,193.66 L919.39,194.54 L918.97,195.49 L918.54,196.53 L918.1,197.7 L917.8,198.56 L917.5,199.47 L917.19,200.43 L916.87,201.43 L916.55,202.46 L916.22,203.51 L915.89,204.59 L915.55,205.67 L915.21,206.76 L914.88,207.85 L914.54,208.93 L914.2,210 L913.89,210.97 L913.57,211.93 L913.24,212.89 L912.92,213.85 L912.59,214.81 L912.26,215.77 L911.93,216.75 L911.6,217.75 L911.27,218.76 L910.95,219.8 L910.63,220.87 L910.31,221.97 L910,223.1 L909.76,224.01 L909.53,224.95 L909.3,225.93 L909.06,226.94 L908.83,227.98 L908.6,229.03 L908.37,230.09 L908.14,231.16 L907.92,232.23 L907.69,233.29 L907.47,234.33 L907.25,235.36 L907.04,236.36 L906.82,237.33 L906.61,238.27 L906.4,239.16 L906.2,240 L905.89,241.19 L905.6,242.25 L905.33,243.21 L905.05,244.11 L904.79,244.96 L904.52,245.8 L904.26,246.66 L903.98,247.56 L903.7,248.53 L903.41,249.6 L903.1,250.8 L902.89,251.65 L902.69,252.55 L902.48,253.48 L902.28,254.46 L902.07,255.47 L901.86,256.5 L901.65,257.55 L901.43,258.62 L901.21,259.7 L900.98,260.78 L900.75,261.86 L900.51,262.93 L900.27,263.99 L900.01,265.03 L899.75,266.05 L899.48,267.04 L899.2,268 L898.87,269.06 L898.51,270.12 L898.14,271.18 L897.76,272.23 L897.36,273.27 L896.96,274.3 L896.55,275.31 L896.14,276.31 L895.72,277.29 L895.31,278.26 L894.91,279.2 L894.51,280.11 L894.13,281 L893.76,281.87 L893.4,282.7 L892.9,283.89 L892.42,285.03 L891.97,286.11 L891.53,287.14 L891.09,288.12 L890.66,289.07 L890.22,289.97 L889.77,290.84 L889.3,291.68 L888.8,292.5 L888.15,293.46 L887.48,294.33 L886.8,295.14 L886.1,295.9 L885.38,296.63 L884.64,297.34 L883.88,298.06 L883.1,298.8 L882.38,299.47 L881.65,300.12 L880.9,300.77 L880.13,301.41 L879.35,302.05 L878.56,302.69 L877.75,303.32 L876.93,303.96 L876.1,304.6 L875.27,305.24 L874.46,305.89 L873.64,306.54 L872.81,307.18 L871.96,307.83 L871.07,308.47 L870.14,309.12 L869.15,309.76 L868.1,310.4 L867.26,310.88 L866.37,311.37 L865.45,311.86 L864.5,312.35 L863.52,312.84 L862.52,313.33 L861.51,313.82 L860.49,314.29 L859.48,314.76 L858.47,315.22 L857.47,315.67 L856.5,316.1 L855.51,316.53 L854.47,316.96 L853.41,317.39 L852.33,317.82 L851.25,318.24 L850.18,318.65 L849.15,319.04 L848.16,319.41 L847.24,319.76 L846.39,320.07 L845.64,320.35 L845,320.6 L844.31,320.98 L842.5,321.5 L841.89,321.67 L841.18,321.87 L840.36,322.1 L839.46,322.35 L838.48,322.62 L837.44,322.9 L836.34,323.2 L835.21,323.51 L834.04,323.83 L832.86,324.16 L831.67,324.48 L830.49,324.81 L829.33,325.13 L828.19,325.44 L827.09,325.74 L826.05,326.04 L825.06,326.31 L824.16,326.57 L823.34,326.81 L822.61,327.02 L822,327.2 L819.77,328.06 L819.51,328.44 L819.2,328.6 L819.02,328.34 L818.8,327.87 L816,328 L815.41,328.09 L814.77,328.19 L814.09,328.31 L813.38,328.44 L812.62,328.59 L811.82,328.74 L810.98,328.9 L810.11,329.08 L809.2,329.26 L808.26,329.45 L807.29,329.64 L806.28,329.85 L805.24,330.06 L804.18,330.27 L803.09,330.49 L801.97,330.71 L800.82,330.93 L799.66,331.15 L798.47,331.38 L797.25,331.6 L796.02,331.83 L794.77,332.05 L793.5,332.27 L792.22,332.48 L790.91,332.69 L789.6,332.9 L788.77,333.03 L787.93,333.16 L787.06,333.29 L786.18,333.42 L785.28,333.55 L784.37,333.69 L783.44,333.83 L782.5,333.96 L781.55,334.1 L780.58,334.24 L779.6,334.38 L778.61,334.53 L777.6,334.67 L776.59,334.81 L775.57,334.95 L774.54,335.1 L773.51,335.24 L772.46,335.39 L771.41,335.53 L770.36,335.67 L769.3,335.82 L768.24,335.96 L767.17,336.11 L766.1,336.25 L765.03,336.39 L763.96,336.53 L762.89,336.67 L761.82,336.81 L760.75,336.95 L759.68,337.09 L758.62,337.22 L757.56,337.36 L756.5,337.49 L755.45,337.62 L754.4,337.75 L753.36,337.88 L752.33,338 L751.3,338.13 L750.29,338.25 L749.28,338.37 L748.29,338.49 L747.3,338.6 L746.26,338.72 L745.2,338.84 L744.12,338.96 L743.03,339.07 L741.92,339.19 L740.79,339.31 L739.66,339.43 L738.51,339.54 L737.36,339.66 L736.2,339.77 L735.04,339.89 L733.87,340 L732.7,340.11 L731.54,340.22 L730.37,340.33 L729.21,340.44 L728.06,340.55 L726.92,340.65 L725.78,340.75 L724.66,340.86 L723.55,340.96 L722.45,341.05 L721.37,341.15 L720.31,341.24 L719.27,341.34 L718.25,341.43 L717.26,341.51 L716.29,341.6 L715.35,341.68 L714.43,341.76 L713.55,341.84 L712.7,341.91 L711.89,341.99 L711.11,342.05 L710.37,342.12 L709.67,342.18 L709.01,342.24 L708.39,342.3 L707.82,342.35 L707.3,342.4" fill="none" stroke="#ff00ff" stroke-width="3.2" stroke-linejoin="round" stroke-linecap="round" />
<path d="M707.3,343.4 L707.82,343.35 L708.39,343.3 L709.01,343.24 L709.67,343.18 L710.37,343.12 L711.11,343.05 L711.89,342.99 L712.7,342.91 L713.55,342.84 L714.43,342.76 L715.35,342.68 L716.29,342.6 L717.26,342.51 L718.25,342.43 L719.27,342.34 L720.31,342.24 L721.37,342.15 L722.45,342.05 L723.55,341.96 L724.66,341.86 L725.78,341.75 L726.92,341.65 L728.06,341.55 L729.21,341.44 L730.37,341.33 L731.54,341.22 L732.7,341.11 L733.87,341 L735.04,340.89 L736.2,340.77 L737.36,340.66 L738.51,340.54 L739.66,340.43 L740.79,340.31 L741.92,340.19 L743.03,340.07 L744.12,339.96 L745.2,339.84 L746.26,339.72 L747.3,339.6 L748.28,339.49 L749.28,339.37 L750.28,339.25 L751.29,339.13 L752.31,339 L753.33,338.88 L754.36,338.75 L755.4,338.62 L756.44,338.49 L757.49,338.35 L758.54,338.22 L759.59,338.08 L760.64,337.95 L761.7,337.81 L762.76,337.67 L763.82,337.53 L764.88,337.39 L765.93,337.24 L766.99,337.1 L768.05,336.96 L769.1,336.81 L770.15,336.67 L771.2,336.52 L772.24,336.38 L773.28,336.24 L774.31,336.09 L775.34,335.95 L776.36,335.8 L777.37,335.66 L778.37,335.52 L779.37,335.38 L780.36,335.24 L781.33,335.1 L782.3,334.96 L783.26,334.82 L784.2,334.68 L785.14,334.55 L786.06,334.42 L786.96,334.28 L787.86,334.15 L788.74,334.03 L789.6,333.9 L790.83,333.72 L792.03,333.55 L793.21,333.38 L794.36,333.21 L795.5,333.05 L796.62,332.89 L797.71,332.74 L798.79,332.59 L799.85,332.43 L800.89,332.28 L801.93,332.13 L802.94,331.99 L803.95,331.84 L804.94,331.69 L805.92,331.54 L806.89,331.39 L807.86,331.23 L808.82,331.08 L809.77,330.92 L810.72,330.76 L811.66,330.59 L812.6,330.43 L813.54,330.25 L814.48,330.08 L815.42,329.89 L816.36,329.7 L817.3,329.51 L818.25,329.31 L819.2,329.1 L820.27,328.86 L821.33,328.61 L822.4,328.35 L823.46,328.08 L824.53,327.8 L825.59,327.52 L826.64,327.23 L827.7,326.94 L828.74,326.64 L829.79,326.33 L830.82,326.03 L831.85,325.72 L832.87,325.41 L833.88,325.1 L834.88,324.79 L835.87,324.48 L836.85,324.18 L837.81,323.87 L838.77,323.57 L839.7,323.27 L840.63,322.98 L841.54,322.69 L842.43,322.4 L843.3,322.13 L844.16,321.86 L845,321.6 L846.18,321.23 L847.33,320.88 L848.44,320.53 L849.53,320.19 L850.58,319.85 L851.61,319.52 L852.61,319.19 L853.59,318.87 L854.54,318.56 L855.48,318.24 L856.39,317.93 L857.28,317.63 L858.15,317.32 L859.01,317.02 L859.85,316.71 L860.68,316.41 L861.49,316.1 L862.3,315.8 L863.46,315.35 L864.55,314.91 L865.58,314.47 L866.56,314.04 L867.5,313.62 L868.41,313.2 L869.29,312.78 L870.17,312.36 L871.05,311.93 L871.94,311.49 L872.86,311.05 L873.8,310.6 L874.77,310.14 L875.74,309.68 L876.72,309.21 L877.71,308.74 L878.69,308.26 L879.67,307.78 L880.65,307.3 L881.63,306.81 L882.59,306.31 L883.54,305.81 L884.48,305.31 L885.4,304.8 L886.32,304.27 L887.24,303.72 L888.16,303.14 L889.08,302.56 L889.99,301.97 L890.88,301.38 L891.76,300.8 L892.61,300.24 L893.44,299.7 L894.23,299.19 L894.99,298.72 L895.7,298.3 L896.81,297.68 L897.79,297.18 L898.67,296.77 L899.5,296.39 L900.3,296.03 L901.12,295.64 L902,295.2 L902.91,294.75 L903.81,294.35 L904.71,293.94 L905.62,293.5 L906.55,292.98 L907.51,292.32 L908.5,291.5 L909.17,290.88 L909.87,290.2 L910.6,289.47 L911.34,288.69 L912.09,287.86 L912.84,287 L913.58,286.11 L914.29,285.18 L914.97,284.24 L915.61,283.27 L916.2,282.3 L916.66,281.47 L917.09,280.62 L917.49,279.75 L917.87,278.87 L918.23,277.97 L918.58,277.05 L918.91,276.12 L919.23,275.16 L919.55,274.17 L919.86,273.17 L920.17,272.14 L920.48,271.08 L920.8,270 L921.06,269.09 L921.31,268.13 L921.55,267.15 L921.79,266.13 L922.02,265.09 L922.25,264.04 L922.47,262.97 L922.7,261.9 L922.93,260.83 L923.15,259.76 L923.38,258.71 L923.61,257.67 L923.85,256.65 L924.09,255.67 L924.34,254.71 L924.6,253.8 L924.93,252.73 L925.28,251.72 L925.64,250.76 L926.01,249.83 L926.38,248.92 L926.76,248.03 L927.13,247.15 L927.5,246.27 L927.87,245.38 L928.22,244.46 L928.57,243.52 L928.89,242.53 L929.2,241.5 L929.45,240.56 L929.69,239.58 L929.92,238.56 L930.13,237.52 L930.34,236.46 L930.55,235.38 L930.75,234.3 L930.94,233.22 L931.13,232.14 L931.32,231.08 L931.51,230.04 L931.7,229.02 L931.9,228.04 L932.1,227.1 L932.3,226.2 L932.58,225.07 L932.85,224.02 L933.13,223.05 L933.4,222.13 L933.67,221.25 L933.94,220.37 L934.22,219.48 L934.5,218.56 L934.79,217.58 L935.09,216.54 L935.4,215.4 L935.64,214.49 L935.89,213.53 L936.15,212.51 L936.42,211.45 L936.69,210.36 L936.97,209.25 L937.25,208.13 L937.53,207.01 L937.8,205.9 L938.06,204.81 L938.32,203.75 L938.56,202.72 L938.79,201.75 L939.01,200.84 L939.2,200 L939.5,198.65 L939.71,197.56 L939.88,196.62 L940.02,195.77 L940.16,194.9 L940.34,193.92 L940.58,192.75 L940.9,191.3 L941.08,190.5 L941.27,189.63 L941.47,188.7 L941.68,187.71 L941.89,186.68 L942.12,185.62 L942.36,184.53 L942.6,183.42 L942.85,182.3 L943.11,181.18 L943.39,180.07 L943.67,178.97 L943.95,177.89 L944.25,176.85 L944.56,175.85 L944.88,174.9 L945.2,174 L945.64,172.89 L946.1,171.82 L946.58,170.78 L947.07,169.78 L947.58,168.81 L948.11,167.87 L948.65,166.95 L949.2,166.06 L949.76,165.19 L950.33,164.35 L950.91,163.52 L951.5,162.7 L952.1,161.9 L952.75,161.06 L953.39,160.25 L954.03,159.49 L954.68,158.74 L955.34,158.03 L956.02,157.33 L956.72,156.65 L957.46,155.98 L958.22,155.31 L959.03,154.65 L959.89,153.98 L960.8,153.3 L961.58,152.75 L962.41,152.19 L963.29,151.63 L964.2,151.07 L965.15,150.51 L966.12,149.96 L967.1,149.41 L968.09,148.87 L969.08,148.34 L970.06,147.82 L971.03,147.32 L971.98,146.83 L972.89,146.36 L973.77,145.92 L974.6,145.5 L975.69,144.97 L976.77,144.47 L977.83,144.01 L978.86,143.58 L979.86,143.18 L980.83,142.8 L981.76,142.44 L982.65,142.09 L983.48,141.76 L984.27,141.43 L985,141.1 L986.12,140.49 L986.71,140.03 L987.24,139.59 L988.18,139.05 L990,138.3 L990.63,138.07 L991.29,137.81 L992,137.54 L992.75,137.26 L993.53,136.97 L994.35,136.66 L995.21,136.34 L996.1,136.02 L997.03,135.69 L997.99,135.35 L998.98,135.01 L1000,134.67 L1001.06,134.33 L1002.14,133.99 L1003.25,133.66 L1004.39,133.33 L1005.56,133.01 L1006.75,132.69 L1007.96,132.39 L1009.2,132.1 L1010.01,131.92 L1010.84,131.74 L1011.68,131.56 L1012.53,131.39 L1013.4,131.22 L1014.27,131.05 L1015.16,130.89 L1016.07,130.73 L1016.98,130.57 L1017.91,130.4 L1018.85,130.25 L1019.8,130.09 L1020.77,129.93 L1021.74,129.77 L1022.73,129.62 L1023.73,129.46 L1024.74,129.3 L1025.76,129.14 L1026.79,128.98 L1027.83,128.82 L1028.89,128.66 L1029.95,128.5 L1031.03,128.33 L1032.11,128.16 L1033.21,127.99 L1034.32,127.82 L1035.43,127.64 L1036.56,127.46 L1037.7,127.28 L1038.84,127.09 L1040,126.9 L1040.89,126.75 L1041.81,126.6 L1042.75,126.44 L1043.72,126.28 L1044.7,126.11 L1045.71,125.94 L1046.74,125.77 L1047.78,125.59 L1048.84,125.42 L1049.91,125.24 L1050.99,125.05 L1052.08,124.87 L1053.18,124.68 L1054.29,124.5 L1055.41,124.31 L1056.53,124.12 L1057.65,123.93 L1058.77,123.74 L1059.89,123.56 L1061.01,123.37 L1062.13,123.18 L1063.24,123 L1064.34,122.81 L1065.43,122.63 L1066.52,122.45 L1067.59,122.27 L1068.65,122.1 L1069.69,121.93 L1070.72,121.76 L1071.73,121.59 L1072.72,121.43 L1073.69,121.28 L1074.64,121.12 L1075.56,120.98 L1076.46,120.83 L1077.33,120.7 L1078.16,120.56 L1078.97,120.44 L1079.75,120.32 L1080.49,120.21 L1081.2,120.1 L1082.93,119.85 L1084.37,119.64 L1085.57,119.48 L1086.57,119.35 L1087.41,119.25 L1088.14,119.17 L1088.79,119.11 L1089.42,119.06 L1090.05,119.02 L1090.74,118.97 L1091.53,118.92 L1092.46,118.85 L1093.57,118.76 L1094.9,118.65 L1096.5,118.5 L1097.24,118.43 L1098.03,118.36 L1098.87,118.28 L1099.77,118.19 L1100.7,118.1 L1101.68,118.01 L1102.7,117.92 L1103.75,117.82 L1104.84,117.72 L1105.95,117.62 L1107.08,117.52 L1108.24,117.41 L1109.41,117.3 L1110.6,117.19 L1111.79,117.08 L1112.99,116.97 L1114.2,116.86 L1115.4,116.75 L1116.61,116.65 L1117.8,116.54 L1118.98,116.43 L1120.15,116.32 L1121.3,116.22 L1122.43,116.12 L1123.54,116.01 L1124.62,115.92 L1125.66,115.82 L1126.67,115.73 L1127.64,115.64 L1128.57,115.56 L1129.46,115.48 L1130.29,115.4 L1131.07,115.33 L1131.8,115.26 L1132.46,115.2 L1133.06,115.15 L1133.6,115.1" fill="none" stroke="#ff00ff" stroke-width="3.2" stroke-linejoin="round" stroke-linecap="round" />
<path d="M1133.6,60.2 L1133.06,60.2 L1132.44,60.2 L1131.76,60.19 L1131.02,60.19 L1130.22,60.19 L1129.36,60.18 L1128.46,60.18 L1127.51,60.17 L1126.51,60.16 L1125.48,60.16 L1124.42,60.15 L1123.32,60.14 L1122.2,60.14 L1121.06,60.13 L1119.91,60.13 L1118.74,60.12 L1117.56,60.12 L1116.37,60.12 L1115.19,60.12 L1114.01,60.12 L1112.83,60.12 L1111.67,60.12 L1110.52,60.13 L1109.39,60.14 L1108.29,60.14 L1107.22,60.15 L1106.17,60.17 L1105.17,60.18 L1104.2,60.2 L1103.11,60.22 L1102.02,60.24 L1100.94,60.27 L1099.86,60.29 L1098.79,60.31 L1097.72,60.34 L1096.67,60.36 L1095.61,60.39 L1094.57,60.42 L1093.53,60.45 L1092.49,60.48 L1091.47,60.51 L1090.45,60.55 L1089.43,60.59 L1088.43,60.63 L1087.43,60.68 L1086.44,60.73 L1085.46,60.79 L1084.48,60.85 L1083.52,60.91 L1082.56,60.98 L1081.6,61.05 L1080.66,61.13 L1079.73,61.21 L1078.8,61.3 L1077.66,61.42 L1076.55,61.55 L1075.46,61.69 L1074.4,61.84 L1073.35,61.99 L1072.32,62.15 L1071.3,62.32 L1070.3,62.49 L1069.3,62.67 L1068.31,62.86 L1067.32,63.04 L1066.33,63.23 L1065.34,63.43 L1064.34,63.62 L1063.33,63.82 L1062.32,64.02 L1061.29,64.21 L1060.25,64.41 L1059.18,64.61 L1058.1,64.8 L1057.14,64.97 L1056.15,65.14 L1055.15,65.32 L1054.12,65.5 L1053.09,65.68 L1052.04,65.87 L1050.99,66.06 L1049.92,66.24 L1048.86,66.43 L1047.79,66.63 L1046.73,66.82 L1045.66,67.01 L1044.61,67.2 L1043.56,67.39 L1042.53,67.58 L1041.51,67.77 L1040.51,67.95 L1039.53,68.13 L1038.57,68.31 L1037.63,68.49 L1036.72,68.66 L1035.85,68.83 L1035,69 L1033.78,69.25 L1032.63,69.48 L1031.56,69.71 L1030.55,69.94 L1029.59,70.16 L1028.66,70.38 L1027.75,70.59 L1026.86,70.8 L1025.97,71.01 L1025.07,71.22 L1024.15,71.43 L1023.19,71.64 L1022.19,71.86 L1021.13,72.08 L1020,72.3 L1019.11,72.47 L1018.18,72.64 L1017.21,72.81 L1016.22,72.99 L1015.21,73.16 L1014.18,73.34 L1013.13,73.51 L1012.07,73.69 L1011,73.86 L1009.93,74.04 L1008.86,74.21 L1007.8,74.39 L1006.75,74.57 L1005.71,74.74 L1004.69,74.92 L1003.69,75.1 L1002.72,75.27 L1001.78,75.45 L1000.87,75.62 L1000,75.8 L998.81,76.05 L997.67,76.3 L996.57,76.56 L995.5,76.81 L994.47,77.07 L993.47,77.33 L992.49,77.58 L991.54,77.83 L990.61,78.09 L989.69,78.34 L988.78,78.58 L987.89,78.83 L986.99,79.07 L986.1,79.3 L985,79.59 L983.96,79.87 L982.98,80.15 L982.02,80.42 L981.08,80.69 L980.15,80.96 L979.21,81.22 L978.23,81.49 L977.22,81.76 L976.15,82.03 L975,82.3 L974.1,82.5 L973.16,82.69 L972.18,82.88 L971.16,83.07 L970.12,83.26 L969.06,83.44 L967.99,83.63 L966.92,83.82 L965.86,84.02 L964.8,84.22 L963.77,84.43 L962.77,84.66 L961.8,84.89 L960.87,85.14 L960,85.4 L958.87,85.78 L957.79,86.2 L956.76,86.64 L955.77,87.1 L954.81,87.57 L953.89,88.05 L952.99,88.53 L952.12,89.01 L951.26,89.49 L950.43,89.95 L949.6,90.4 L948.51,90.99 L947.49,91.58 L946.51,92.15 L945.58,92.73 L944.67,93.29 L943.76,93.86 L942.84,94.43 L941.9,95 L940.94,95.58 L939.98,96.16 L939.01,96.74 L938.05,97.33 L937.09,97.9 L936.12,98.48 L935.16,99.04 L934.2,99.6 L933.2,100.16 L932.13,100.75 L931.04,101.34 L929.96,101.91 L928.93,102.46 L927.99,102.97 L927.17,103.42 L926.5,103.8 L925.52,104.29 L925,105 L924.54,105.61 L923.99,106.36 L923.37,107.24 L922.72,108.18 L922.08,109.15 L921.5,110.1 L921,111 L920.52,111.98 L920.1,112.93 L919.73,113.88 L919.4,114.85 L919.09,115.88 L918.8,117 L918.59,117.92 L918.4,118.91 L918.23,119.94 L918.07,121 L917.93,122.06 L917.78,123.09 L917.64,124.08 L917.5,125 L917.32,126.05 L917.16,126.95 L917.01,127.79 L916.86,128.68 L916.69,129.72 L916.5,131 L916.39,131.84 L916.28,132.76 L916.17,133.76 L916.06,134.81 L915.94,135.9 L915.82,137.01 L915.68,138.12 L915.54,139.23 L915.38,140.3 L915.2,141.33 L915,142.3 L914.72,143.37 L914.4,144.34 L914.06,145.23 L913.69,146.1 L913.31,146.99 L912.93,147.93 L912.57,148.97 L912.22,150.15 L911.9,151.5 L911.74,152.29 L911.59,153.11 L911.45,153.96 L911.3,154.84 L911.16,155.75 L911.03,156.68 L910.9,157.65 L910.76,158.63 L910.64,159.65 L910.51,160.68 L910.38,161.74 L910.25,162.82 L910.12,163.92 L910,165.04 L909.87,166.18 L909.73,167.33 L909.6,168.5 L909.5,169.38 L909.4,170.3 L909.29,171.24 L909.19,172.2 L909.08,173.18 L908.97,174.19 L908.86,175.2 L908.76,176.23 L908.65,177.27 L908.54,178.32 L908.43,179.38 L908.33,180.43 L908.22,181.49 L908.12,182.55 L908.02,183.6 L907.92,184.64 L907.82,185.67 L907.73,186.69 L907.63,187.69 L907.55,188.68 L907.46,189.64 L907.38,190.58 L907.3,191.5 L907.21,192.62 L907.12,193.69 L907.04,194.71 L906.97,195.69 L906.9,196.64 L906.83,197.57 L906.77,198.49 L906.71,199.4 L906.66,200.31 L906.6,201.24 L906.54,202.18 L906.49,203.15 L906.43,204.15 L906.37,205.2 L906.31,206.3 L906.24,207.46 L906.17,208.69 L906.1,210 L906.05,210.82 L906,211.67 L905.96,212.53 L905.91,213.42 L905.85,214.33 L905.8,215.26 L905.75,216.21 L905.7,217.18 L905.64,218.15 L905.59,219.15 L905.53,220.15 L905.48,221.17 L905.42,222.2 L905.37,223.24 L905.31,224.28 L905.26,225.33 L905.2,226.39 L905.14,227.45 L905.09,228.51 L905.03,229.57 L904.98,230.64 L904.92,231.7 L904.87,232.76 L904.81,233.82 L904.76,234.87 L904.71,235.91 L904.65,236.95 L904.6,237.98 L904.55,238.99 L904.5,240 L904.45,241 L904.4,242 L904.35,243 L904.3,243.99 L904.25,244.99 L904.2,245.99 L904.15,246.98 L904.1,247.98 L904.05,248.97 L904,249.97 L903.95,250.97 L903.9,251.96 L903.85,252.96 L903.8,253.95 L903.75,254.95 L903.7,255.95 L903.65,256.94 L903.61,257.94 L903.56,258.94 L903.51,259.94 L903.47,260.94 L903.43,261.94 L903.38,262.95 L903.34,263.95 L903.3,264.95 L903.26,265.96 L903.21,266.97 L903.18,267.98 L903.14,268.99 L903.1,270 L903.06,271.01 L903.03,272.03 L903,273.05 L902.97,274.07 L902.94,275.09 L902.91,276.11 L902.89,277.13 L902.86,278.16 L902.84,279.18 L902.81,280.21 L902.79,281.24 L902.77,282.27 L902.75,283.3 L902.73,284.33 L902.71,285.36 L902.68,286.39 L902.66,287.42 L902.64,288.45 L902.62,289.48 L902.6,290.51 L902.57,291.54 L902.55,292.57 L902.52,293.6 L902.5,294.63 L902.47,295.66 L902.44,296.69 L902.41,297.72 L902.37,298.75 L902.34,299.77 L902.3,300.8 L902.26,301.84 L902.22,302.9 L902.17,303.97 L902.13,305.07 L902.08,306.18 L902.03,307.3 L901.98,308.43 L901.92,309.57 L901.87,310.72 L901.81,311.86 L901.76,313.01 L901.7,314.15 L901.65,315.29 L901.59,316.42 L901.53,317.54 L901.47,318.65 L901.42,319.75 L901.36,320.82 L901.31,321.88 L901.25,322.91 L901.2,323.92 L901.15,324.91 L901.1,325.86 L901.05,326.78 L901,327.67 L900.96,328.52 L900.91,329.33 L900.87,330.1 L900.83,330.82 L900.8,331.5 L900.69,333.62 L900.6,335.17 L900.53,336.28 L900.47,337.09 L900.43,337.74 L900.39,338.35 L900.35,339.06 L900.3,340 L900.28,341 L900.3,342.03 L900.34,343.07 L900.39,344.12 L900.42,345.18 L900.41,346.22 L900.35,347.24 L900.22,348.24 L900,349.2 L899.65,350.23 L899.23,351.23 L898.73,352.2 L898.16,353.14 L897.54,354.08 L896.87,355.01 L896.15,355.95 L895.4,356.9 L894.78,357.68 L894.13,358.46 L893.46,359.26 L892.76,360.05 L892.03,360.84 L891.26,361.63 L890.45,362.4 L889.58,363.16 L888.67,363.89 L887.7,364.6 L886.89,365.14 L885.99,365.68 L885.03,366.22 L884.03,366.76 L882.99,367.29 L881.94,367.8 L880.88,368.31 L879.84,368.79 L878.83,369.25 L877.86,369.69 L876.96,370.09 L876.13,370.46 L875.4,370.8 L874.06,371.42 L873.3,371.77 L872.66,372 L871.71,372.29 L870,372.8 L869.33,373.01 L868.62,373.22 L867.88,373.45 L867.11,373.68 L866.3,373.93 L865.45,374.18 L864.56,374.45 L863.63,374.72 L862.65,375.01 L861.63,375.3 L860.55,375.6 L859.43,375.91 L858.26,376.23 L857.03,376.56 L855.74,376.9 L854.4,377.25 L853,377.6 L852.22,377.79 L851.42,378 L850.59,378.21 L849.74,378.42 L848.86,378.64 L847.97,378.87 L847.05,379.1 L846.11,379.34 L845.15,379.58 L844.18,379.82 L843.19,380.07 L842.19,380.32 L841.17,380.57 L840.15,380.82 L839.11,381.07 L838.07,381.33 L837.02,381.58 L835.96,381.83 L834.9,382.08 L833.83,382.33 L832.77,382.58 L831.7,382.82 L830.63,383.06 L829.57,383.3 L828.51,383.53 L827.45,383.76 L826.4,383.98 L825.36,384.2 L824.33,384.41 L823.31,384.62 L822.3,384.81 L821.3,385 L820.31,385.18 L819.34,385.36 L818.37,385.52 L817.41,385.69 L816.46,385.85 L815.51,386 L814.56,386.15 L813.62,386.29 L812.69,386.43 L811.75,386.57 L810.81,386.7 L809.88,386.83 L808.94,386.96 L808,387.08 L807.06,387.21 L806.11,387.33 L805.16,387.45 L804.2,387.57 L803.24,387.7 L802.26,387.82 L801.28,387.94 L800.29,388.06 L799.29,388.18 L798.27,388.31 L797.24,388.43 L796.2,388.56 L795.14,388.69 L794.07,388.83 L792.98,388.96 L791.87,389.11 L790.75,389.25 L789.6,389.4 L788.71,389.52 L787.81,389.63 L786.9,389.75 L785.98,389.88 L785.04,390 L784.09,390.12 L783.14,390.25 L782.17,390.38 L781.2,390.5 L780.21,390.63 L779.22,390.76 L778.22,390.89 L777.21,391.02 L776.2,391.16 L775.18,391.29 L774.16,391.42 L773.13,391.55 L772.09,391.69 L771.05,391.82 L770.01,391.95 L768.97,392.09 L767.92,392.22 L766.87,392.35 L765.82,392.49 L764.77,392.62 L763.72,392.75 L762.67,392.88 L761.62,393.01 L760.57,393.14 L759.53,393.27 L758.48,393.4 L757.44,393.52 L756.4,393.65 L755.37,393.77 L754.34,393.89 L753.31,394.01 L752.3,394.13 L751.28,394.25 L750.28,394.37 L749.28,394.48 L748.28,394.59 L747.3,394.7 L746.26,394.81 L745.2,394.93 L744.12,395.04 L743.03,395.16 L741.92,395.27 L740.79,395.39 L739.66,395.5 L738.51,395.62 L737.36,395.73 L736.2,395.84 L735.04,395.96 L733.87,396.07 L732.7,396.18 L731.54,396.29 L730.37,396.4 L729.21,396.51 L728.06,396.62 L726.92,396.72 L725.78,396.83 L724.66,396.93 L723.55,397.03 L722.45,397.13 L721.37,397.23 L720.31,397.33 L719.27,397.42 L718.25,397.51 L717.26,397.6 L716.29,397.69 L715.35,397.77 L714.43,397.85 L713.55,397.93 L712.7,398.01 L711.89,398.08 L711.11,398.15 L710.37,398.22 L709.67,398.28 L709.01,398.34 L708.39,398.4 L707.82,398.45 L707.3,398.5" fill="none" stroke="#0000ff" stroke-width="3.2" stroke-linejoin="round" stroke-linecap="round" />
<path d="M707.3,399.5 L707.82,399.45 L708.39,399.4 L709.01,399.34 L709.67,399.28 L710.37,399.22 L711.11,399.15 L711.89,399.08 L712.7,399.01 L713.55,398.93 L714.43,398.85 L715.35,398.77 L716.29,398.69 L717.26,398.6 L718.25,398.51 L719.27,398.42 L720.31,398.33 L721.37,398.23 L722.45,398.13 L723.55,398.03 L724.66,397.93 L725.78,397.83 L726.92,397.72 L728.06,397.62 L729.21,397.51 L730.37,397.4 L731.54,397.29 L732.7,397.18 L733.87,397.07 L735.04,396.96 L736.2,396.84 L737.36,396.73 L738.51,396.62 L739.66,396.5 L740.79,396.39 L741.92,396.27 L743.03,396.16 L744.12,396.04 L745.2,395.93 L746.26,395.81 L747.3,395.7 L748.28,395.59 L749.28,395.48 L750.28,395.37 L751.28,395.25 L752.3,395.13 L753.31,395.01 L754.34,394.89 L755.37,394.77 L756.4,394.64 L757.44,394.52 L758.48,394.39 L759.53,394.26 L760.57,394.13 L761.62,394 L762.67,393.87 L763.72,393.74 L764.77,393.61 L765.82,393.48 L766.87,393.34 L767.92,393.21 L768.97,393.07 L770.01,392.94 L771.05,392.81 L772.09,392.67 L773.13,392.54 L774.16,392.41 L775.18,392.27 L776.2,392.14 L777.21,392.01 L778.22,391.88 L779.22,391.75 L780.21,391.62 L781.2,391.49 L782.17,391.36 L783.14,391.24 L784.09,391.11 L785.04,390.99 L785.98,390.87 L786.9,390.75 L787.81,390.63 L788.71,390.51 L789.6,390.4 L790.78,390.25 L791.94,390.1 L793.09,389.96 L794.21,389.83 L795.31,389.7 L796.4,389.57 L797.48,389.44 L798.53,389.32 L799.58,389.2 L800.61,389.08 L801.63,388.96 L802.64,388.84 L803.64,388.72 L804.64,388.61 L805.62,388.49 L806.6,388.37 L807.58,388.25 L808.55,388.13 L809.52,388.01 L810.48,387.88 L811.45,387.75 L812.41,387.62 L813.38,387.48 L814.35,387.34 L815.32,387.2 L816.3,387.05 L817.29,386.89 L818.28,386.73 L819.28,386.56 L820.28,386.38 L821.3,386.2 L822.3,386.01 L823.31,385.82 L824.33,385.62 L825.36,385.41 L826.4,385.19 L827.45,384.97 L828.51,384.74 L829.57,384.51 L830.63,384.27 L831.7,384.03 L832.77,383.78 L833.83,383.53 L834.9,383.28 L835.96,383.03 L837.02,382.77 L838.07,382.52 L839.11,382.26 L840.15,382.01 L841.17,381.76 L842.19,381.5 L843.19,381.25 L844.18,381.01 L845.15,380.76 L846.11,380.52 L847.05,380.28 L847.97,380.05 L848.86,379.83 L849.74,379.61 L850.59,379.39 L851.42,379.19 L852.22,378.99 L853,378.8 L854.38,378.46 L855.67,378.15 L856.87,377.86 L858,377.58 L859.06,377.32 L860.06,377.07 L861.01,376.84 L861.93,376.6 L862.82,376.37 L863.68,376.14 L864.54,375.91 L865.4,375.67 L866.26,375.43 L867.15,375.17 L868.06,374.9 L869.01,374.61 L870,374.3 L870.98,373.99 L871.97,373.66 L872.99,373.32 L874.02,372.97 L875.06,372.62 L876.1,372.25 L877.15,371.88 L878.2,371.5 L879.24,371.12 L880.27,370.74 L881.29,370.36 L882.29,369.99 L883.26,369.61 L884.22,369.25 L885.14,368.9 L886.03,368.55 L886.89,368.22 L887.7,367.9 L888.94,367.41 L890.08,366.95 L891.15,366.51 L892.14,366.1 L893.08,365.69 L893.99,365.29 L894.87,364.88 L895.75,364.47 L896.64,364.04 L897.55,363.58 L898.5,363.1 L899.4,362.63 L900.32,362.15 L901.25,361.65 L902.19,361.13 L903.12,360.61 L904.04,360.08 L904.96,359.55 L905.86,359.01 L906.74,358.48 L907.59,357.94 L908.41,357.42 L909.2,356.9 L910.2,356.24 L911.16,355.61 L912.07,355 L912.95,354.4 L913.8,353.77 L914.61,353.12 L915.4,352.42 L916.16,351.65 L916.9,350.8 L917.49,350.03 L918.06,349.21 L918.62,348.34 L919.16,347.42 L919.68,346.48 L920.18,345.52 L920.66,344.55 L921.11,343.58 L921.54,342.63 L921.93,341.7 L922.3,340.8 L922.69,339.8 L923,338.92 L923.27,338.1 L923.49,337.29 L923.69,336.43 L923.89,335.48 L924.09,334.37 L924.33,333.07 L924.6,331.5 L924.73,330.73 L924.87,329.88 L925.01,328.96 L925.15,327.99 L925.3,326.96 L925.45,325.89 L925.6,324.78 L925.76,323.65 L925.91,322.49 L926.07,321.33 L926.23,320.16 L926.39,318.99 L926.54,317.84 L926.7,316.71 L926.85,315.6 L927,314.53 L927.15,313.51 L927.29,312.53 L927.43,311.62 L927.57,310.77 L927.7,310 L927.99,308.53 L928.25,307.45 L928.49,306.64 L928.72,305.98 L928.95,305.35 L929.19,304.64 L929.44,303.72 L929.7,302.48 L930,300.8 L930.11,300.11 L930.23,299.38 L930.35,298.63 L930.47,297.84 L930.6,297.02 L930.73,296.17 L930.87,295.29 L931.01,294.39 L931.15,293.46 L931.29,292.5 L931.43,291.53 L931.57,290.53 L931.71,289.51 L931.85,288.48 L931.99,287.42 L932.13,286.35 L932.27,285.26 L932.4,284.16 L932.53,283.05 L932.65,281.92 L932.78,280.79 L932.89,279.64 L933,278.49 L933.11,277.33 L933.21,276.17 L933.3,275 L933.36,274.12 L933.43,273.23 L933.49,272.31 L933.54,271.38 L933.6,270.44 L933.65,269.48 L933.7,268.51 L933.75,267.52 L933.79,266.53 L933.83,265.52 L933.88,264.51 L933.92,263.49 L933.96,262.46 L933.99,261.42 L934.03,260.38 L934.06,259.34 L934.1,258.29 L934.13,257.24 L934.16,256.19 L934.19,255.13 L934.22,254.08 L934.25,253.03 L934.28,251.99 L934.3,250.94 L934.33,249.9 L934.36,248.87 L934.38,247.85 L934.41,246.83 L934.44,245.82 L934.46,244.82 L934.49,243.83 L934.52,242.85 L934.54,241.89 L934.57,240.94 L934.6,240 L934.63,238.92 L934.66,237.83 L934.69,236.75 L934.72,235.66 L934.75,234.58 L934.77,233.5 L934.79,232.42 L934.82,231.34 L934.84,230.27 L934.86,229.2 L934.88,228.14 L934.9,227.09 L934.92,226.04 L934.94,225 L934.96,223.97 L934.97,222.95 L934.99,221.93 L935.01,220.93 L935.03,219.94 L935.05,218.96 L935.07,218 L935.09,217.05 L935.11,216.11 L935.14,215.18 L935.16,214.28 L935.19,213.39 L935.21,212.51 L935.24,211.66 L935.27,210.82 L935.3,210 L935.35,208.71 L935.41,207.51 L935.46,206.39 L935.51,205.35 L935.57,204.37 L935.62,203.43 L935.68,202.53 L935.74,201.66 L935.8,200.79 L935.86,199.93 L935.93,199.05 L936,198.14 L936.07,197.2 L936.15,196.21 L936.23,195.16 L936.32,194.03 L936.41,192.81 L936.5,191.5 L936.56,190.67 L936.62,189.81 L936.69,188.92 L936.76,188.02 L936.83,187.09 L936.9,186.14 L936.98,185.18 L937.05,184.19 L937.13,183.19 L937.21,182.17 L937.29,181.14 L937.37,180.1 L937.46,179.05 L937.54,177.99 L937.62,176.92 L937.71,175.84 L937.79,174.76 L937.88,173.67 L937.96,172.58 L938.04,171.49 L938.13,170.4 L938.21,169.31 L938.29,168.22 L938.37,167.14 L938.44,166.06 L938.52,164.99 L938.59,163.93 L938.66,162.87 L938.73,161.83 L938.8,160.8 L938.86,159.77 L938.93,158.72 L938.99,157.65 L939.05,156.58 L939.12,155.49 L939.18,154.39 L939.24,153.29 L939.3,152.18 L939.36,151.07 L939.41,149.96 L939.47,148.84 L939.53,147.73 L939.58,146.62 L939.64,145.52 L939.69,144.42 L939.75,143.33 L939.8,142.25 L939.85,141.19 L939.9,140.14 L939.95,139.1 L940,138.08 L940.05,137.08 L940.1,136.11 L940.14,135.15 L940.19,134.22 L940.23,133.32 L940.28,132.44 L940.32,131.59 L940.36,130.78 L940.4,130 L940.48,128.53 L940.55,127.16 L940.62,125.9 L940.68,124.72 L940.74,123.61 L940.8,122.58 L940.86,121.61 L940.91,120.7 L940.95,119.82 L941,118.99 L941.04,118.17 L941.08,117.38 L941.12,116.59 L941.16,115.8 L941.2,115 L941.25,113.7 L941.27,112.49 L941.27,111.36 L941.27,110.3 L941.28,109.31 L941.29,108.37 L941.33,107.48 L941.39,106.62 L941.5,105.8 L941.79,104.45 L942.16,103.29 L942.6,102.27 L943.05,101.32 L943.5,100.4 L944.06,99.27 L944.64,98.23 L945.23,97.3 L945.8,96.5 L946.94,95.53 L948,94.6 L948.25,93.61 L948.44,92.44 L949.6,91.1 L950.2,90.69 L950.89,90.24 L951.68,89.77 L952.54,89.28 L953.47,88.78 L954.47,88.27 L955.51,87.77 L956.59,87.29 L957.71,86.83 L958.85,86.39 L960,86 L960.87,85.74 L961.8,85.49 L962.77,85.25 L963.77,85.03 L964.8,84.81 L965.86,84.61 L966.92,84.41 L967.99,84.22 L969.06,84.04 L970.12,83.85 L971.16,83.67 L972.18,83.48 L973.16,83.29 L974.1,83.1 L975,82.9 L976.15,82.63 L977.22,82.36 L978.23,82.09 L979.21,81.82 L980.15,81.56 L981.08,81.29 L982.02,81.02 L982.98,80.75 L983.96,80.47 L985,80.19 L986.1,79.9 L986.99,79.67 L987.89,79.43 L988.78,79.18 L989.69,78.94 L990.61,78.69 L991.54,78.43 L992.49,78.18 L993.47,77.93 L994.47,77.67 L995.5,77.41 L996.57,77.16 L997.67,76.9 L998.81,76.65 L1000,76.4 L1000.87,76.22 L1001.78,76.05 L1002.72,75.87 L1003.69,75.7 L1004.69,75.52 L1005.71,75.34 L1006.75,75.17 L1007.8,74.99 L1008.86,74.81 L1009.93,74.64 L1011,74.46 L1012.07,74.29 L1013.13,74.11 L1014.18,73.94 L1015.21,73.76 L1016.22,73.59 L1017.21,73.41 L1018.18,73.24 L1019.11,73.07 L1020,72.9 L1021.13,72.68 L1022.19,72.46 L1023.19,72.24 L1024.15,72.03 L1025.07,71.82 L1025.97,71.61 L1026.86,71.4 L1027.75,71.19 L1028.66,70.98 L1029.59,70.76 L1030.55,70.54 L1031.56,70.31 L1032.63,70.08 L1033.78,69.85 L1035,69.6 L1035.85,69.43 L1036.72,69.26 L1037.63,69.09 L1038.57,68.91 L1039.53,68.73 L1040.51,68.55 L1041.51,68.37 L1042.53,68.18 L1043.56,67.99 L1044.61,67.8 L1045.66,67.61 L1046.73,67.42 L1047.79,67.23 L1048.86,67.03 L1049.92,66.84 L1050.99,66.66 L1052.04,66.47 L1053.09,66.28 L1054.12,66.1 L1055.15,65.92 L1056.15,65.74 L1057.14,65.57 L1058.1,65.4 L1059.18,65.21 L1060.25,65.01 L1061.29,64.81 L1062.32,64.62 L1063.33,64.42 L1064.34,64.22 L1065.34,64.03 L1066.33,63.83 L1067.32,63.64 L1068.31,63.46 L1069.3,63.27 L1070.3,63.09 L1071.3,62.92 L1072.32,62.75 L1073.35,62.59 L1074.4,62.44 L1075.46,62.29 L1076.55,62.15 L1077.66,62.02 L1078.8,61.9 L1079.73,61.81 L1080.66,61.73 L1081.6,61.65 L1082.56,61.58 L1083.52,61.51 L1084.48,61.45 L1085.46,61.39 L1086.44,61.33 L1087.43,61.28 L1088.43,61.23 L1089.43,61.19 L1090.45,61.15 L1091.47,61.11 L1092.49,61.08 L1093.53,61.05 L1094.57,61.02 L1095.61,60.99 L1096.67,60.96 L1097.72,60.94 L1098.79,60.91 L1099.86,60.89 L1100.94,60.87 L1102.02,60.84 L1103.11,60.82 L1104.2,60.8 L1105.17,60.78 L1106.17,60.77 L1107.22,60.75 L1108.29,60.74 L1109.39,60.74 L1110.52,60.73 L1111.67,60.72 L1112.83,60.72 L1114.01,60.72 L1115.19,60.72 L1116.37,60.72 L1117.56,60.72 L1118.74,60.72 L1119.91,60.73 L1121.06,60.73 L1122.2,60.74 L1123.32,60.74 L1124.42,60.75 L1125.48,60.76 L1126.51,60.76 L1127.51,60.77 L1128.46,60.78 L1129.36,60.78 L1130.22,60.79 L1131.02,60.79 L1131.76,60.79 L1132.44,60.8 L1133.06,60.8 L1133.6,60.8" fill="none" stroke="#0000ff" stroke-width="3.2" stroke-linejoin="round" stroke-linecap="round" />
<path d="M1133.6,51 L1133.02,51.08 L1132.34,51.19 L1131.54,51.31 L1130.6,51.46 L1129.5,51.61 L1128.21,51.77 L1126.72,51.94 L1125,52.1 L1124.24,52.17 L1123.42,52.24 L1122.56,52.31 L1121.66,52.38 L1120.71,52.45 L1119.73,52.53 L1118.71,52.61 L1117.67,52.69 L1116.6,52.76 L1115.51,52.84 L1114.4,52.92 L1113.27,53 L1112.14,53.08 L1110.99,53.16 L1109.85,53.24 L1108.7,53.31 L1107.56,53.39 L1106.43,53.46 L1105.31,53.53 L1104.2,53.6 L1103.24,53.66 L1102.27,53.71 L1101.3,53.77 L1100.32,53.83 L1099.33,53.88 L1098.34,53.93 L1097.34,53.98 L1096.33,54.04 L1095.32,54.09 L1094.31,54.14 L1093.3,54.19 L1092.28,54.24 L1091.26,54.29 L1090.24,54.34 L1089.22,54.39 L1088.2,54.44 L1087.18,54.49 L1086.16,54.54 L1085.14,54.59 L1084.13,54.64 L1083.11,54.69 L1082.1,54.75 L1081.1,54.8 L1080.09,54.85 L1079.08,54.91 L1078.06,54.96 L1077.03,55.01 L1076,55.05 L1074.97,55.1 L1073.93,55.15 L1072.9,55.2 L1071.86,55.25 L1070.83,55.29 L1069.8,55.34 L1068.78,55.39 L1067.75,55.45 L1066.74,55.5 L1065.73,55.56 L1064.74,55.61 L1063.75,55.67 L1062.77,55.74 L1061.81,55.8 L1060.86,55.87 L1059.92,55.94 L1059,56.02 L1058.1,56.1 L1056.98,56.21 L1055.91,56.33 L1054.88,56.45 L1053.88,56.58 L1052.91,56.72 L1051.96,56.86 L1051.02,57.01 L1050.1,57.16 L1049.17,57.31 L1048.25,57.46 L1047.31,57.61 L1046.36,57.76 L1045.39,57.91 L1044.39,58.06 L1043.36,58.2 L1042.29,58.34 L1041.17,58.47 L1040,58.6 L1039.12,58.69 L1038.2,58.78 L1037.25,58.87 L1036.27,58.95 L1035.26,59.04 L1034.24,59.12 L1033.19,59.2 L1032.12,59.29 L1031.05,59.37 L1029.96,59.45 L1028.87,59.53 L1027.78,59.61 L1026.69,59.69 L1025.61,59.77 L1024.53,59.85 L1023.47,59.92 L1022.42,60 L1021.39,60.08 L1020.38,60.15 L1019.4,60.23 L1018.45,60.3 L1017.53,60.38 L1016.64,60.45 L1015.8,60.53 L1015,60.6 L1013.65,60.73 L1012.39,60.86 L1011.2,60.98 L1010.08,61.1 L1009.02,61.21 L1008.02,61.33 L1007.06,61.44 L1006.15,61.56 L1005.26,61.68 L1004.41,61.79 L1003.57,61.91 L1002.74,62.04 L1001.92,62.17 L1001.1,62.3 L999.87,62.52 L998.72,62.74 L997.64,62.98 L996.63,63.22 L995.66,63.46 L994.71,63.7 L993.78,63.94 L992.85,64.17 L991.9,64.4 L990.82,64.66 L989.74,64.93 L988.68,65.21 L987.64,65.48 L986.62,65.73 L985.64,65.96 L984.69,66.15 L983.8,66.3 L982.47,66.45 L981.26,66.5 L980.12,66.5 L979.05,66.45 L978,66.4 L976.9,66.21 L975.98,65.89 L974.92,65.69 L973.4,65.8 L972.61,65.98 L971.73,66.22 L970.77,66.52 L969.75,66.87 L968.69,67.24 L967.59,67.64 L966.47,68.05 L965.33,68.45 L964.21,68.84 L963.1,69.2 L962.17,69.49 L961.23,69.78 L960.26,70.07 L959.28,70.36 L958.29,70.65 L957.3,70.94 L956.31,71.24 L955.32,71.53 L954.34,71.82 L953.37,72.12 L952.43,72.41 L951.5,72.7 L950.41,73.05 L949.34,73.4 L948.28,73.75 L947.24,74.1 L946.21,74.45 L945.19,74.8 L944.18,75.15 L943.18,75.5 L942.18,75.85 L941.2,76.2 L940.11,76.59 L939,76.97 L937.91,77.34 L936.82,77.72 L935.76,78.1 L934.73,78.49 L933.73,78.88 L932.79,79.28 L931.9,79.7 L930.85,80.24 L929.9,80.77 L929.03,81.3 L928.2,81.86 L927.4,82.46 L926.61,83.1 L925.8,83.8 L925.09,84.47 L924.38,85.19 L923.69,85.94 L923.01,86.72 L922.34,87.53 L921.68,88.35 L921.03,89.18 L920.4,90 L919.77,90.81 L919.14,91.62 L918.52,92.43 L917.91,93.26 L917.32,94.11 L916.77,94.99 L916.26,95.92 L915.8,96.9 L915.44,97.81 L915.12,98.75 L914.84,99.71 L914.58,100.7 L914.35,101.73 L914.13,102.79 L913.92,103.89 L913.71,105.02 L913.5,106.2 L913.34,107.09 L913.19,107.97 L913.04,108.85 L912.9,109.74 L912.76,110.65 L912.62,111.59 L912.5,112.57 L912.37,113.61 L912.25,114.71 L912.13,115.88 L912.01,117.14 L911.9,118.5 L911.84,119.33 L911.78,120.19 L911.72,121.09 L911.66,122.03 L911.61,123 L911.55,123.99 L911.5,125.01 L911.45,126.05 L911.4,127.11 L911.35,128.18 L911.3,129.26 L911.25,130.35 L911.2,131.45 L911.16,132.54 L911.11,133.64 L911.06,134.73 L911.01,135.81 L910.96,136.88 L910.91,137.94 L910.85,138.98 L910.8,140 L910.74,141.02 L910.69,141.98 L910.63,142.89 L910.57,143.75 L910.51,144.58 L910.46,145.4 L910.4,146.2 L910.34,147.01 L910.28,147.83 L910.22,148.67 L910.17,149.55 L910.11,150.47 L910.05,151.45 L909.99,152.49 L909.92,153.62 L909.86,154.83 L909.8,156.15 L909.73,157.57 L909.67,159.12 L909.6,160.8 L909.57,161.53 L909.54,162.29 L909.51,163.08 L909.48,163.9 L909.45,164.74 L909.42,165.61 L909.39,166.51 L909.36,167.42 L909.33,168.36 L909.3,169.32 L909.26,170.3 L909.23,171.3 L909.2,172.32 L909.16,173.35 L909.13,174.39 L909.09,175.45 L909.06,176.52 L909.02,177.61 L908.99,178.7 L908.95,179.8 L908.92,180.91 L908.89,182.02 L908.85,183.14 L908.82,184.26 L908.78,185.39 L908.75,186.51 L908.72,187.64 L908.68,188.77 L908.65,189.89 L908.62,191.01 L908.58,192.13 L908.55,193.23 L908.52,194.34 L908.49,195.43 L908.46,196.51 L908.43,197.59 L908.4,198.65 L908.37,199.7 L908.34,200.73 L908.31,201.75 L908.29,202.75 L908.26,203.73 L908.23,204.69 L908.21,205.64 L908.19,206.56 L908.16,207.46 L908.14,208.33 L908.12,209.18 L908.1,210 L908.07,211.29 L908.04,212.54 L908.02,213.73 L907.99,214.88 L907.97,216 L907.96,217.07 L907.94,218.11 L907.92,219.12 L907.91,220.1 L907.9,221.05 L907.89,221.99 L907.88,222.9 L907.87,223.8 L907.86,224.69 L907.86,225.57 L907.85,226.45 L907.84,227.33 L907.84,228.2 L907.83,229.08 L907.82,229.97 L907.81,230.87 L907.81,231.78 L907.8,232.71 L907.79,233.67 L907.78,234.64 L907.76,235.65 L907.75,236.68 L907.74,237.75 L907.72,238.85 L907.7,240 L907.68,240.88 L907.67,241.78 L907.65,242.69 L907.64,243.61 L907.62,244.55 L907.61,245.49 L907.59,246.45 L907.58,247.42 L907.56,248.4 L907.54,249.39 L907.53,250.38 L907.51,251.38 L907.49,252.4 L907.48,253.41 L907.46,254.43 L907.44,255.46 L907.42,256.49 L907.41,257.53 L907.39,258.57 L907.37,259.61 L907.35,260.66 L907.33,261.7 L907.31,262.75 L907.29,263.79 L907.27,264.84 L907.25,265.88 L907.23,266.92 L907.2,267.96 L907.18,269 L907.16,270.03 L907.14,271.06 L907.11,272.08 L907.09,273.1 L907.06,274.11 L907.04,275.11 L907.01,276.11 L906.98,277.1 L906.96,278.07 L906.93,279.04 L906.9,280 L906.87,281.06 L906.83,282.11 L906.8,283.16 L906.76,284.2 L906.73,285.24 L906.69,286.28 L906.65,287.32 L906.62,288.35 L906.58,289.37 L906.54,290.4 L906.5,291.42 L906.46,292.44 L906.41,293.45 L906.37,294.46 L906.33,295.47 L906.29,296.48 L906.24,297.49 L906.2,298.49 L906.16,299.49 L906.11,300.48 L906.07,301.48 L906.02,302.47 L905.98,303.46 L905.93,304.45 L905.89,305.44 L905.84,306.42 L905.8,307.41 L905.75,308.39 L905.71,309.37 L905.66,310.35 L905.62,311.33 L905.57,312.3 L905.53,313.28 L905.49,314.25 L905.44,315.23 L905.4,316.2 L905.35,317.27 L905.3,318.36 L905.25,319.47 L905.2,320.59 L905.15,321.73 L905.09,322.88 L905.04,324.03 L904.98,325.19 L904.93,326.36 L904.87,327.53 L904.81,328.7 L904.76,329.86 L904.7,331.02 L904.65,332.18 L904.59,333.33 L904.53,334.46 L904.48,335.58 L904.42,336.69 L904.37,337.78 L904.32,338.85 L904.27,339.9 L904.22,340.93 L904.17,341.92 L904.12,342.9 L904.08,343.84 L904.04,344.74 L903.99,345.62 L903.96,346.45 L903.92,347.25 L903.89,348 L903.85,348.72 L903.83,349.38 L903.8,350 L903.71,352.81 L903.72,353.95 L903.77,354.21 L903.82,354.43 L903.8,355.4 L903.77,356.28 L903.73,357.27 L903.69,358.34 L903.65,359.48 L903.59,360.66 L903.53,361.85 L903.45,363.03 L903.35,364.16 L903.24,365.23 L903.1,366.2 L902.87,367.48 L902.61,368.69 L902.31,369.83 L901.98,370.91 L901.62,371.93 L901.23,372.89 L900.8,373.8 L900.34,374.74 L899.91,375.55 L899.45,376.28 L898.85,376.97 L898.03,377.7 L896.9,378.5 L896.25,378.91 L895.52,379.33 L894.72,379.77 L893.86,380.21 L892.95,380.67 L892,381.12 L891.02,381.58 L890.01,382.03 L889,382.47 L887.98,382.91 L886.97,383.32 L885.97,383.72 L885,384.1 L884.02,384.46 L883.01,384.8 L881.96,385.13 L880.89,385.44 L879.82,385.75 L878.74,386.04 L877.68,386.33 L876.63,386.61 L875.62,386.89 L874.65,387.17 L873.74,387.44 L872.88,387.72 L872.1,388 L870.87,388.55 L869.89,389.12 L869.07,389.69 L868.32,390.23 L867.57,390.72 L866.72,391.12 L865.7,391.4 L864.8,391.51 L863.88,391.51 L862.92,391.44 L861.92,391.32 L860.88,391.18 L859.79,391.05 L858.65,390.96 L857.46,390.93 L856.2,391 L855.33,391.1 L854.5,391.22 L853.69,391.36 L852.88,391.53 L852.06,391.71 L851.19,391.91 L850.27,392.12 L849.27,392.35 L848.18,392.58 L846.98,392.83 L845.64,393.08 L844.16,393.34 L842.5,393.6 L841.75,393.71 L840.98,393.83 L840.19,393.95 L839.37,394.07 L838.52,394.2 L837.66,394.33 L836.77,394.46 L835.86,394.59 L834.93,394.73 L833.98,394.87 L833.01,395.01 L832.02,395.16 L831.02,395.3 L830,395.44 L828.96,395.59 L827.91,395.74 L826.84,395.88 L825.76,396.03 L824.67,396.17 L823.56,396.32 L822.44,396.46 L821.32,396.61 L820.18,396.75 L819.03,396.89 L817.87,397.03 L816.71,397.16 L815.54,397.3 L814.36,397.43 L813.18,397.55 L811.99,397.68 L810.8,397.8 L809.91,397.89 L809.01,397.97 L808.09,398.06 L807.16,398.15 L806.21,398.23 L805.26,398.31 L804.29,398.4 L803.31,398.48 L802.32,398.56 L801.33,398.64 L800.32,398.72 L799.3,398.8 L798.28,398.88 L797.25,398.96 L796.22,399.04 L795.18,399.12 L794.13,399.2 L793.08,399.27 L792.03,399.35 L790.98,399.42 L789.92,399.5 L788.86,399.57 L787.8,399.65 L786.74,399.72 L785.69,399.8 L784.63,399.87 L783.58,399.94 L782.53,400.01 L781.48,400.09 L780.44,400.16 L779.4,400.23 L778.36,400.3 L777.34,400.37 L776.32,400.44 L775.31,400.51 L774.3,400.58 L773.31,400.65 L772.33,400.72 L771.35,400.79 L770.39,400.86 L769.44,400.93 L768.5,401 L767.41,401.08 L766.33,401.16 L765.25,401.25 L764.16,401.33 L763.09,401.42 L762.01,401.5 L760.94,401.59 L759.87,401.68 L758.8,401.76 L757.74,401.85 L756.69,401.94 L755.63,402.03 L754.59,402.11 L753.54,402.2 L752.51,402.28 L751.48,402.37 L750.45,402.45 L749.43,402.53 L748.42,402.61 L747.41,402.69 L746.42,402.77 L745.42,402.84 L744.44,402.91 L743.47,402.99 L742.5,403.05 L741.54,403.12 L740.59,403.18 L739.65,403.24 L738.72,403.3 L737.8,403.35 L736.89,403.4 L735.99,403.45 L735.1,403.49 L734.22,403.53 L733.36,403.57 L732.5,403.6 L731.27,403.64 L730.04,403.66 L728.81,403.68 L727.59,403.69 L726.37,403.69 L725.15,403.68 L723.95,403.67 L722.76,403.65 L721.59,403.63 L720.43,403.6 L719.3,403.57 L718.19,403.53 L717.11,403.49 L716.06,403.45 L715.05,403.41 L714.07,403.37 L713.12,403.33 L712.22,403.29 L711.36,403.25 L710.55,403.22 L709.79,403.19 L709.08,403.16 L708.43,403.13 L707.84,403.11 L707.3,403.1" fill="none" stroke="#000" stroke-width="3.2" stroke-linejoin="round" stroke-linecap="round" />
<path d="M707.3,404.3 L707.84,404.31 L708.43,404.33 L709.08,404.36 L709.79,404.39 L710.55,404.42 L711.36,404.45 L712.22,404.49 L713.12,404.53 L714.07,404.57 L715.05,404.61 L716.06,404.65 L717.11,404.69 L718.19,404.73 L719.3,404.77 L720.43,404.8 L721.59,404.83 L722.76,404.85 L723.95,404.87 L725.15,404.88 L726.37,404.89 L727.59,404.89 L728.81,404.88 L730.04,404.86 L731.27,404.84 L732.5,404.8 L733.36,404.77 L734.22,404.73 L735.1,404.69 L735.99,404.65 L736.89,404.6 L737.8,404.55 L738.72,404.5 L739.65,404.44 L740.59,404.38 L741.54,404.32 L742.5,404.25 L743.47,404.19 L744.44,404.11 L745.42,404.04 L746.42,403.97 L747.41,403.89 L748.42,403.81 L749.43,403.73 L750.45,403.65 L751.48,403.57 L752.51,403.48 L753.54,403.4 L754.59,403.31 L755.63,403.23 L756.69,403.14 L757.74,403.05 L758.8,402.96 L759.87,402.88 L760.94,402.79 L762.01,402.7 L763.09,402.62 L764.16,402.53 L765.25,402.45 L766.33,402.36 L767.41,402.28 L768.5,402.2 L769.44,402.13 L770.39,402.06 L771.35,401.99 L772.33,401.92 L773.31,401.85 L774.3,401.78 L775.31,401.71 L776.32,401.64 L777.34,401.57 L778.36,401.5 L779.4,401.43 L780.44,401.36 L781.48,401.29 L782.53,401.21 L783.58,401.14 L784.63,401.07 L785.69,401 L786.74,400.92 L787.8,400.85 L788.86,400.77 L789.92,400.7 L790.98,400.62 L792.03,400.55 L793.08,400.47 L794.13,400.4 L795.18,400.32 L796.22,400.24 L797.25,400.16 L798.28,400.08 L799.3,400 L800.32,399.92 L801.33,399.84 L802.32,399.76 L803.31,399.68 L804.29,399.6 L805.26,399.51 L806.21,399.43 L807.16,399.35 L808.09,399.26 L809.01,399.17 L809.91,399.09 L810.8,399 L811.99,398.88 L813.18,398.75 L814.36,398.63 L815.54,398.5 L816.71,398.36 L817.87,398.23 L819.03,398.09 L820.18,397.95 L821.32,397.81 L822.44,397.66 L823.56,397.52 L824.67,397.37 L825.76,397.23 L826.84,397.08 L827.91,396.94 L828.96,396.79 L830,396.64 L831.02,396.5 L832.02,396.36 L833.01,396.21 L833.98,396.07 L834.93,395.93 L835.86,395.79 L836.77,395.66 L837.66,395.53 L838.52,395.4 L839.37,395.27 L840.19,395.15 L840.98,395.03 L841.75,394.91 L842.5,394.8 L844.16,394.54 L845.64,394.28 L846.98,394.03 L848.18,393.79 L849.27,393.56 L850.27,393.33 L851.19,393.12 L852.06,392.92 L852.88,392.74 L853.69,392.58 L854.5,392.43 L855.33,392.3 L856.2,392.2 L857.46,392.12 L858.65,392.13 L859.79,392.2 L860.87,392.31 L861.91,392.42 L862.9,392.52 L863.86,392.56 L864.79,392.53 L865.7,392.4 L866.76,392.07 L867.67,391.62 L868.51,391.07 L869.33,390.46 L870.19,389.84 L871.16,389.24 L872.3,388.7 L873.11,388.39 L873.95,388.1 L874.82,387.83 L875.72,387.56 L876.67,387.29 L877.64,387.02 L878.66,386.74 L879.71,386.44 L880.8,386.12 L881.93,385.78 L883.1,385.4 L883.94,385.12 L884.82,384.84 L885.73,384.54 L886.66,384.23 L887.63,383.92 L888.61,383.59 L889.61,383.26 L890.61,382.92 L891.63,382.58 L892.64,382.23 L893.65,381.87 L894.65,381.5 L895.65,381.14 L896.62,380.76 L897.57,380.38 L898.5,380 L899.48,379.58 L900.47,379.16 L901.46,378.72 L902.45,378.27 L903.44,377.81 L904.43,377.35 L905.4,376.88 L906.36,376.41 L907.3,375.93 L908.21,375.46 L909.1,374.98 L909.96,374.5 L910.78,374.03 L911.56,373.56 L912.3,373.1 L913.33,372.41 L914.28,371.71 L915.16,371.01 L915.97,370.31 L916.72,369.61 L917.44,368.91 L918.11,368.22 L918.76,367.54 L919.38,366.86 L920,366.2 L920.83,365.29 L921.58,364.42 L922.27,363.57 L922.9,362.73 L923.49,361.86 L924.05,360.96 L924.6,360 L925.07,359.14 L925.53,358.29 L925.96,357.42 L926.37,356.53 L926.75,355.59 L927.1,354.58 L927.42,353.49 L927.7,352.3 L927.86,351.42 L928,350.47 L928.12,349.46 L928.22,348.4 L928.31,347.31 L928.38,346.2 L928.45,345.09 L928.51,343.99 L928.58,342.92 L928.65,341.88 L928.72,340.91 L928.8,340 L928.93,338.91 L929.04,338.13 L929.15,337.51 L929.26,336.9 L929.38,336.15 L929.5,335.1 L929.64,333.6 L929.8,331.5 L929.85,330.82 L929.89,330.1 L929.95,329.33 L930,328.52 L930.05,327.67 L930.11,326.78 L930.17,325.86 L930.23,324.91 L930.29,323.92 L930.35,322.91 L930.41,321.88 L930.47,320.82 L930.54,319.75 L930.6,318.65 L930.66,317.54 L930.73,316.42 L930.79,315.29 L930.85,314.15 L930.91,313.01 L930.97,311.86 L931.03,310.72 L931.09,309.57 L931.15,308.43 L931.21,307.3 L931.26,306.18 L931.31,305.07 L931.36,303.97 L931.41,302.9 L931.46,301.84 L931.5,300.8 L931.54,299.77 L931.58,298.75 L931.62,297.72 L931.65,296.69 L931.69,295.66 L931.72,294.63 L931.75,293.6 L931.78,292.57 L931.81,291.54 L931.83,290.51 L931.86,289.48 L931.88,288.45 L931.91,287.42 L931.93,286.39 L931.96,285.36 L931.98,284.33 L932,283.3 L932.02,282.27 L932.04,281.24 L932.07,280.21 L932.09,279.18 L932.11,278.16 L932.13,277.13 L932.15,276.11 L932.18,275.09 L932.2,274.07 L932.22,273.05 L932.25,272.03 L932.27,271.01 L932.3,270 L932.33,268.99 L932.35,267.98 L932.38,266.97 L932.41,265.96 L932.43,264.95 L932.46,263.95 L932.49,262.95 L932.51,261.94 L932.54,260.94 L932.57,259.94 L932.59,258.94 L932.62,257.94 L932.65,256.94 L932.67,255.95 L932.7,254.95 L932.73,253.95 L932.75,252.96 L932.78,251.96 L932.81,250.97 L932.83,249.97 L932.86,248.97 L932.89,247.98 L932.91,246.98 L932.94,245.99 L932.97,244.99 L932.99,243.99 L933.02,243 L933.05,242 L933.07,241 L933.1,240 L933.13,239.03 L933.15,238.1 L933.18,237.22 L933.2,236.39 L933.23,235.58 L933.25,234.8 L933.27,234.04 L933.3,233.3 L933.32,232.57 L933.34,231.85 L933.37,231.13 L933.39,230.4 L933.41,229.66 L933.44,228.9 L933.46,228.12 L933.49,227.32 L933.51,226.48 L933.54,225.6 L933.56,224.68 L933.59,223.7 L933.62,222.68 L933.64,221.59 L933.67,220.43 L933.7,219.2 L933.73,217.89 L933.76,216.5 L933.8,215.03 L933.83,213.45 L933.86,211.78 L933.9,210 L933.91,209.3 L933.93,208.57 L933.94,207.83 L933.96,207.05 L933.97,206.26 L933.99,205.44 L934,204.6 L934.02,203.74 L934.03,202.86 L934.05,201.96 L934.07,201.04 L934.08,200.1 L934.1,199.14 L934.12,198.17 L934.13,197.18 L934.15,196.18 L934.17,195.16 L934.18,194.13 L934.2,193.08 L934.22,192.02 L934.24,190.95 L934.26,189.86 L934.27,188.77 L934.29,187.67 L934.31,186.55 L934.33,185.43 L934.35,184.3 L934.37,183.16 L934.38,182.01 L934.4,180.86 L934.42,179.7 L934.44,178.54 L934.46,177.37 L934.48,176.2 L934.5,175.03 L934.52,173.85 L934.54,172.67 L934.56,171.49 L934.57,170.32 L934.59,169.14 L934.61,167.96 L934.63,166.78 L934.65,165.61 L934.67,164.44 L934.69,163.28 L934.71,162.11 L934.73,160.96 L934.75,159.81 L934.77,158.66 L934.79,157.52 L934.8,156.39 L934.82,155.27 L934.84,154.16 L934.86,153.06 L934.88,151.97 L934.9,150.89 L934.92,149.82 L934.93,148.76 L934.95,147.72 L934.97,146.69 L934.99,145.67 L935.01,144.67 L935.02,143.69 L935.04,142.72 L935.06,141.77 L935.08,140.83 L935.09,139.92 L935.11,139.02 L935.13,138.14 L935.14,137.29 L935.16,136.45 L935.18,135.64 L935.19,134.85 L935.21,134.08 L935.23,133.34 L935.24,132.62 L935.26,131.93 L935.27,131.26 L935.29,130.62 L935.3,130 L935.37,127.24 L935.44,124.95 L935.5,123.07 L935.56,121.55 L935.61,120.35 L935.67,119.42 L935.72,118.7 L935.77,118.15 L935.82,117.72 L935.87,117.35 L935.92,117 L935.97,116.62 L936.03,116.16 L936.08,115.57 L936.14,114.8 L936.2,113.8 L936.25,112.87 L936.3,111.91 L936.35,110.9 L936.4,109.87 L936.45,108.81 L936.5,107.74 L936.55,106.65 L936.61,105.56 L936.66,104.46 L936.71,103.36 L936.77,102.28 L936.82,101.2 L936.88,100.15 L936.93,99.13 L936.99,98.13 L937.05,97.17 L937.11,96.25 L937.17,95.38 L937.24,94.56 L937.3,93.8 L937.44,92.28 L937.56,90.96 L937.68,89.79 L937.81,88.76 L937.95,87.84 L938.11,86.99 L938.3,86.18 L938.53,85.4 L938.8,84.6 L939.29,83.45 L939.84,82.43 L940.46,81.51 L941.15,80.68 L941.89,79.92 L942.7,79.2 L943.57,78.56 L944.51,78.01 L945.51,77.53 L946.57,77.08 L947.67,76.65 L948.8,76.2 L949.69,75.86 L950.64,75.54 L951.62,75.22 L952.62,74.91 L953.62,74.6 L954.61,74.28 L955.58,73.95 L956.5,73.6 L957.47,73.18 L958.36,72.74 L959.21,72.28 L960.07,71.82 L960.98,71.35 L961.97,70.87 L963.1,70.4 L963.98,70.05 L964.92,69.67 L965.91,69.27 L966.95,68.87 L968.01,68.47 L969.1,68.09 L970.19,67.74 L971.27,67.43 L972.35,67.18 L973.4,67 L974.45,66.9 L975.51,66.89 L976.59,66.94 L977.66,67.03 L978.74,67.16 L979.8,67.29 L980.85,67.4 L981.87,67.49 L982.85,67.53 L983.8,67.5 L984.92,67.38 L985.96,67.2 L986.96,66.97 L987.92,66.71 L988.88,66.43 L989.85,66.15 L990.85,65.86 L991.9,65.6 L992.85,65.37 L993.78,65.14 L994.71,64.9 L995.66,64.66 L996.63,64.42 L997.64,64.18 L998.72,63.94 L999.87,63.72 L1001.1,63.5 L1001.92,63.37 L1002.74,63.24 L1003.57,63.11 L1004.41,62.99 L1005.26,62.88 L1006.15,62.76 L1007.06,62.64 L1008.02,62.53 L1009.02,62.41 L1010.08,62.3 L1011.2,62.18 L1012.39,62.06 L1013.65,61.93 L1015,61.8 L1015.8,61.73 L1016.64,61.65 L1017.53,61.58 L1018.45,61.5 L1019.4,61.43 L1020.38,61.35 L1021.39,61.28 L1022.42,61.2 L1023.47,61.12 L1024.53,61.05 L1025.61,60.97 L1026.69,60.89 L1027.78,60.81 L1028.87,60.73 L1029.96,60.65 L1031.05,60.57 L1032.12,60.49 L1033.19,60.4 L1034.24,60.32 L1035.26,60.24 L1036.27,60.15 L1037.25,60.07 L1038.2,59.98 L1039.12,59.89 L1040,59.8 L1041.17,59.67 L1042.29,59.54 L1043.36,59.4 L1044.39,59.26 L1045.39,59.11 L1046.36,58.96 L1047.31,58.81 L1048.25,58.66 L1049.17,58.51 L1050.1,58.36 L1051.02,58.21 L1051.96,58.06 L1052.91,57.92 L1053.88,57.78 L1054.88,57.65 L1055.91,57.53 L1056.98,57.41 L1058.1,57.3 L1059,57.22 L1059.92,57.14 L1060.86,57.07 L1061.81,57 L1062.77,56.94 L1063.75,56.87 L1064.74,56.81 L1065.73,56.76 L1066.74,56.7 L1067.75,56.65 L1068.78,56.59 L1069.8,56.54 L1070.83,56.49 L1071.86,56.45 L1072.9,56.4 L1073.93,56.35 L1074.97,56.3 L1076,56.25 L1077.03,56.21 L1078.06,56.16 L1079.08,56.11 L1080.09,56.05 L1081.1,56 L1082.1,55.95 L1083.11,55.89 L1084.13,55.84 L1085.14,55.79 L1086.16,55.74 L1087.18,55.69 L1088.2,55.64 L1089.22,55.59 L1090.24,55.54 L1091.26,55.49 L1092.28,55.44 L1093.3,55.39 L1094.31,55.34 L1095.32,55.29 L1096.33,55.24 L1097.34,55.18 L1098.34,55.13 L1099.33,55.08 L1100.32,55.03 L1101.3,54.97 L1102.27,54.91 L1103.24,54.86 L1104.2,54.8 L1105.31,54.73 L1106.43,54.66 L1107.56,54.59 L1108.7,54.51 L1109.85,54.44 L1110.99,54.36 L1112.14,54.28 L1113.27,54.2 L1114.4,54.12 L1115.51,54.04 L1116.6,53.96 L1117.67,53.89 L1118.71,53.81 L1119.73,53.73 L1120.71,53.65 L1121.66,53.58 L1122.56,53.51 L1123.42,53.44 L1124.24,53.37 L1125,53.3 L1126.72,53.14 L1128.21,52.97 L1129.5,52.81 L1130.6,52.66 L1131.54,52.51 L1132.34,52.39 L1133.02,52.28 L1133.6,52.2" fill="none" stroke="#000" stroke-width="3.2" stroke-linejoin="round" stroke-linecap="round" />
<line x1="1080.6" y1="72" x2="1080.6" y2="204.5" stroke="#ff0000" stroke-width="3" stroke-dasharray="7.3 5.32"/>
<polygon points="1073.1,204.1 1088.1,204.1 1080.6,218.8" fill="#ff0000"/>
<line x1="1095.2" y1="214.2" x2="1097" y2="82" stroke="#0000ff" stroke-width="3" stroke-dasharray="7.2 5.46"/>
<polygon points="1089.6,82.3 1104.6,82.3 1097.2,67.3" fill="#0000ff"/>
<line x1="1340.4" y1="83.7" x2="1340.4" y2="386" stroke="#ff0000" stroke-width="2.9" stroke-dasharray="7.2 5.4"/>
<polygon points="1332.7,385.5 1348.1,385.5 1340.4,400.4" fill="#ff0000"/>
<line x1="1361.5" y1="394.6" x2="1361.5" y2="104.3" stroke="#0000ff" stroke-width="2.9" stroke-dasharray="7.0 5.6"/>
<polygon points="1353.8,104.3 1369,104.3 1361.5,89.9" fill="#0000ff"/>
<path d="M1301.5,403.1 L1302.03,403.16 L1302.58,403.22 L1303.16,403.3 L1303.79,403.38 L1304.47,403.48 L1305.21,403.57 L1306.03,403.68 L1306.92,403.79 L1307.9,403.9 L1308.98,404.02 L1310.18,404.13 L1311.49,404.25 L1312.92,404.36 L1314.5,404.48 L1316.22,404.59 L1318.1,404.7 L1318.79,404.74 L1319.49,404.77 L1320.2,404.81 L1320.92,404.85 L1321.65,404.89 L1322.4,404.93 L1323.16,404.97 L1323.93,405.01 L1324.72,405.05 L1325.52,405.09 L1326.33,405.13 L1327.15,405.17 L1327.99,405.21 L1328.84,405.25 L1329.7,405.29 L1330.58,405.33 L1331.48,405.38 L1332.38,405.42 L1333.3,405.46 L1334.24,405.5 L1335.19,405.54 L1336.16,405.58 L1337.14,405.62 L1338.13,405.67 L1339.14,405.71 L1340.17,405.75 L1341.21,405.79 L1342.27,405.83 L1343.34,405.87 L1344.43,405.91 L1345.54,405.95 L1346.66,405.99 L1347.8,406.03 L1348.96,406.07 L1350.13,406.11 L1351.32,406.14 L1352.53,406.18 L1353.75,406.22 L1355,406.26 L1356.26,406.29 L1357.54,406.33 L1358.83,406.36 L1360.15,406.4 L1361.48,406.43 L1362.83,406.47 L1364.2,406.5 L1364.99,406.52 L1365.79,406.54 L1366.58,406.56 L1367.38,406.57 L1368.18,406.59 L1368.98,406.61 L1369.78,406.63 L1370.59,406.65 L1371.39,406.66 L1372.2,406.68 L1373.01,406.7 L1373.83,406.72 L1374.64,406.73 L1375.46,406.75 L1376.29,406.77 L1377.11,406.78 L1377.94,406.8 L1378.78,406.82 L1379.61,406.83 L1380.46,406.85 L1381.3,406.87 L1382.15,406.88 L1383.01,406.9 L1383.87,406.91 L1384.73,406.93 L1385.6,406.95 L1386.48,406.96 L1387.36,406.98 L1388.24,406.99 L1389.14,407.01 L1390.04,407.02 L1390.94,407.04 L1391.85,407.05 L1392.77,407.07 L1393.69,407.08 L1394.62,407.1 L1395.56,407.11 L1396.51,407.13 L1397.46,407.14 L1398.42,407.16 L1399.39,407.17 L1400.36,407.19 L1401.35,407.2 L1402.34,407.21 L1403.34,407.23 L1404.35,407.24 L1405.37,407.26 L1406.39,407.27 L1407.43,407.28 L1408.47,407.3 L1409.53,407.31 L1410.59,407.33 L1411.67,407.34 L1412.75,407.35 L1413.84,407.37 L1414.95,407.38 L1416.06,407.39 L1417.19,407.41 L1418.33,407.42 L1419.47,407.44 L1420.63,407.45 L1421.8,407.46 L1422.98,407.48 L1424.18,407.49 L1425.38,407.5 L1426.6,407.52 L1427.83,407.53 L1429.07,407.54 L1430.32,407.56 L1431.59,407.57 L1432.87,407.58 L1434.16,407.59 L1435.47,407.61 L1436.79,407.62 L1438.12,407.63 L1439.47,407.65 L1440.83,407.66 L1442.21,407.67 L1443.6,407.69 L1445,407.7 L1445.78,407.71 L1446.57,407.71 L1447.37,407.72 L1448.17,407.73 L1448.98,407.74 L1449.8,407.74 L1450.63,407.75 L1451.46,407.76 L1452.3,407.77 L1453.14,407.77 L1454,407.78 L1454.85,407.79 L1455.72,407.79 L1456.59,407.8 L1457.47,407.81 L1458.35,407.82 L1459.24,407.82 L1460.13,407.83 L1461.03,407.84 L1461.94,407.85 L1462.85,407.85 L1463.77,407.86 L1464.69,407.87 L1465.62,407.88 L1466.56,407.88 L1467.5,407.89 L1468.44,407.9 L1469.39,407.9 L1470.34,407.91 L1471.3,407.92 L1472.26,407.93 L1473.23,407.93 L1474.21,407.94 L1475.18,407.95 L1476.16,407.96 L1477.15,407.96 L1478.14,407.97 L1479.13,407.98 L1480.13,407.98 L1481.13,407.99 L1482.14,408 L1483.15,408.01 L1484.16,408.01 L1485.18,408.02 L1486.2,408.03 L1487.22,408.04 L1488.25,408.04 L1489.28,408.05 L1490.31,408.06 L1491.35,408.06 L1492.39,408.07 L1493.43,408.08 L1494.47,408.08 L1495.52,408.09 L1496.57,408.1 L1497.62,408.11 L1498.67,408.11 L1499.73,408.12 L1500.79,408.13 L1501.85,408.13 L1502.91,408.14 L1503.98,408.15 L1505.04,408.15 L1506.11,408.16 L1507.18,408.17 L1508.25,408.18 L1509.33,408.18 L1510.4,408.19 L1511.48,408.2 L1512.55,408.2 L1513.63,408.21 L1514.71,408.22 L1515.79,408.22 L1516.87,408.23 L1517.95,408.24 L1519.03,408.24 L1520.12,408.25 L1521.2,408.25 L1522.28,408.26 L1523.37,408.27 L1524.45,408.27 L1525.53,408.28 L1526.62,408.29 L1527.7,408.29 L1528.78,408.3 L1529.87,408.31 L1530.95,408.31 L1532.03,408.32 L1533.11,408.32 L1534.19,408.33 L1535.27,408.34 L1536.35,408.34 L1537.43,408.35 L1538.51,408.35 L1539.59,408.36 L1540.66,408.37 L1541.74,408.37 L1542.81,408.38 L1543.88,408.38 L1544.95,408.39 L1546.02,408.4 L1547.08,408.4 L1548.15,408.41 L1549.21,408.41 L1550.27,408.42 L1551.33,408.42 L1552.39,408.43 L1553.44,408.43 L1554.49,408.44 L1555.54,408.44 L1556.59,408.45 L1557.63,408.46 L1558.67,408.46 L1559.71,408.47 L1560.75,408.47 L1561.78,408.48 L1562.81,408.48 L1563.83,408.49 L1564.86,408.49 L1565.88,408.5 L1566.89,408.5 L1567.9,408.51 L1568.91,408.51 L1569.92,408.51 L1570.92,408.52 L1571.92,408.52 L1572.91,408.53 L1573.9,408.53 L1574.88,408.54 L1575.86,408.54 L1576.84,408.55 L1577.81,408.55 L1578.78,408.55 L1579.74,408.56 L1580.7,408.56 L1581.65,408.57 L1582.6,408.57 L1583.55,408.57 L1584.48,408.58 L1585.42,408.58 L1586.34,408.59 L1587.27,408.59 L1588.18,408.59 L1589.09,408.6 L1590,408.6 L1591.13,408.6 L1592.27,408.61 L1593.4,408.61 L1594.55,408.62 L1595.69,408.62 L1596.85,408.62 L1598,408.63 L1599.16,408.63 L1600.32,408.63 L1601.48,408.64 L1602.65,408.64 L1603.82,408.64 L1604.99,408.65 L1606.16,408.65 L1607.34,408.65 L1608.51,408.66 L1609.69,408.66 L1610.87,408.66 L1612.06,408.66 L1613.24,408.67 L1614.42,408.67 L1615.61,408.67 L1616.8,408.67 L1617.98,408.67 L1619.17,408.68 L1620.36,408.68 L1621.55,408.68 L1622.73,408.68 L1623.92,408.68 L1625.11,408.69 L1626.29,408.69 L1627.48,408.69 L1628.66,408.69 L1629.85,408.69 L1631.03,408.69 L1632.21,408.69 L1633.39,408.69 L1634.56,408.7 L1635.74,408.7 L1636.91,408.7 L1638.08,408.7 L1639.25,408.7 L1640.42,408.7 L1641.58,408.7 L1642.74,408.7 L1643.9,408.7 L1645.05,408.7 L1646.2,408.7 L1647.34,408.7 L1648.49,408.7 L1649.62,408.7 L1650.76,408.7 L1651.89,408.71 L1653.01,408.71 L1654.13,408.71 L1655.25,408.71 L1656.36,408.71 L1657.46,408.71 L1658.56,408.71 L1659.66,408.71 L1660.74,408.71 L1661.83,408.71 L1662.9,408.71 L1663.97,408.71 L1665.04,408.71 L1666.09,408.71 L1667.14,408.71 L1668.19,408.71 L1669.22,408.71 L1670.25,408.71 L1671.28,408.71 L1672.29,408.71 L1673.3,408.7 L1674.29,408.7 L1675.28,408.7 L1676.27,408.7 L1677.24,408.7 L1678.21,408.7 L1679.16,408.7 L1680.11,408.7 L1681.05,408.7 L1681.98,408.7 L1682.89,408.7 L1683.8,408.7 L1684.7,408.7 L1685.59,408.7 L1686.47,408.7 L1687.34,408.7 L1688.2,408.7 L1689.05,408.7 L1689.89,408.7 L1690.71,408.7 L1691.53,408.7 L1692.33,408.7 L1693.12,408.7 L1693.91,408.7 L1694.67,408.7 L1695.43,408.7 L1696.18,408.7 L1696.91,408.7 L1697.63,408.7 L1698.33,408.7 L1699.03,408.7 L1699.71,408.7 L1700.38,408.7 L1701.03,408.7 L1701.67,408.7 L1702.3,408.7 L1702.91,408.7 L1703.51,408.7 L1704.1,408.7 L1704.67,408.7 L1705.22,408.7 L1705.76,408.7 L1706.29,408.7 L1706.8,408.7" fill="none" stroke="#ff0000" stroke-width="3.2" stroke-linejoin="round" stroke-linecap="round" />
<path d="M1301.5,365.7 L1301.93,366.11 L1302.48,366.65 L1303.13,367.28 L1303.86,367.99 L1304.64,368.76 L1305.47,369.55 L1306.32,370.36 L1307.17,371.15 L1308,371.9 L1308.8,372.6 L1309.56,373.26 L1310.3,373.93 L1311.03,374.6 L1311.76,375.27 L1312.51,375.93 L1313.29,376.57 L1314.11,377.19 L1314.97,377.79 L1315.9,378.36 L1316.9,378.9 L1317.72,379.29 L1318.59,379.68 L1319.49,380.05 L1320.43,380.41 L1321.39,380.75 L1322.38,381.08 L1323.39,381.4 L1324.42,381.71 L1325.45,381.99 L1326.49,382.27 L1327.53,382.53 L1328.57,382.77 L1329.6,383 L1330.64,383.21 L1331.7,383.4 L1332.77,383.57 L1333.87,383.72 L1334.97,383.86 L1336.07,383.99 L1337.18,384.1 L1338.27,384.2 L1339.36,384.29 L1340.43,384.38 L1341.48,384.46 L1342.51,384.53 L1343.5,384.6 L1344.65,384.67 L1345.8,384.74 L1346.93,384.78 L1348.05,384.82 L1349.14,384.84 L1350.21,384.86 L1351.25,384.86 L1352.25,384.86 L1353.22,384.84 L1354.13,384.82 L1355,384.8 L1356.26,384.74 L1357.41,384.66 L1358.46,384.56 L1359.43,384.44 L1360.33,384.3 L1361.18,384.15 L1362,384 L1363.27,383.64 L1364.32,383.19 L1365.3,382.8 L1366.3,382.6 L1367.22,382.67 L1368.05,382.93 L1369.05,383.27 L1370.5,383.6 L1371.3,383.73 L1372.15,383.85 L1373.06,383.97 L1374.04,384.1 L1375.1,384.24 L1376.25,384.39 L1377.51,384.57 L1378.89,384.77 L1380.4,385 L1381.21,385.13 L1382.05,385.26 L1382.93,385.39 L1383.85,385.52 L1384.79,385.66 L1385.76,385.81 L1386.76,385.96 L1387.79,386.11 L1388.83,386.28 L1389.9,386.44 L1390.98,386.62 L1392.08,386.8 L1393.2,387 L1394.32,387.2 L1395.46,387.41 L1396.6,387.63 L1397.75,387.86 L1398.9,388.1 L1399.81,388.3 L1400.75,388.52 L1401.71,388.74 L1402.69,388.98 L1403.69,389.23 L1404.7,389.49 L1405.73,389.76 L1406.76,390.03 L1407.8,390.31 L1408.85,390.59 L1409.9,390.87 L1410.95,391.15 L1412,391.44 L1413.05,391.71 L1414.08,391.99 L1415.12,392.26 L1416.14,392.53 L1417.14,392.78 L1418.13,393.03 L1419.11,393.27 L1420.06,393.49 L1420.99,393.7 L1421.9,393.9 L1423.03,394.13 L1424.15,394.35 L1425.25,394.56 L1426.33,394.75 L1427.4,394.94 L1428.45,395.11 L1429.49,395.28 L1430.51,395.43 L1431.52,395.58 L1432.51,395.73 L1433.49,395.86 L1434.46,396 L1435.41,396.13 L1436.35,396.27 L1437.28,396.4 L1438.2,396.53 L1439.11,396.66 L1440,396.8 L1441.13,396.97 L1442.24,397.14 L1443.33,397.3 L1444.4,397.45 L1445.45,397.6 L1446.48,397.75 L1447.48,397.89 L1448.46,398.03 L1449.43,398.17 L1450.36,398.31 L1451.28,398.45 L1452.18,398.6 L1453.05,398.75 L1453.9,398.9 L1455.15,399.16 L1456.29,399.44 L1457.36,399.74 L1458.38,400.03 L1459.37,400.32 L1460.35,400.6 L1461.35,400.84 L1462.39,401.04 L1463.5,401.2 L1464.44,401.28 L1465.39,401.32 L1466.34,401.32 L1467.31,401.29 L1468.29,401.25 L1469.28,401.21 L1470.29,401.16 L1471.33,401.13 L1472.39,401.12 L1473.48,401.14 L1474.6,401.2 L1475.49,401.28 L1476.38,401.37 L1477.27,401.48 L1478.17,401.61 L1479.07,401.74 L1480,401.89 L1480.94,402.04 L1481.91,402.19 L1482.91,402.34 L1483.94,402.49 L1485.01,402.63 L1486.13,402.77 L1487.29,402.89 L1488.5,403 L1489.38,403.07 L1490.27,403.13 L1491.18,403.19 L1492.11,403.25 L1493.05,403.3 L1494.02,403.36 L1495,403.41 L1495.99,403.45 L1497.01,403.5 L1498.04,403.54 L1499.09,403.59 L1500.15,403.63 L1501.24,403.67 L1502.34,403.72 L1503.45,403.76 L1504.59,403.81 L1505.74,403.85 L1506.91,403.9 L1508.1,403.95 L1509.3,404 L1510.2,404.04 L1511.09,404.08 L1511.99,404.12 L1512.89,404.15 L1513.79,404.19 L1514.7,404.23 L1515.61,404.27 L1516.53,404.31 L1517.46,404.34 L1518.39,404.38 L1519.34,404.42 L1520.3,404.46 L1521.27,404.5 L1522.26,404.54 L1523.26,404.58 L1524.28,404.62 L1525.32,404.66 L1526.38,404.7 L1527.46,404.74 L1528.56,404.78 L1529.68,404.83 L1530.83,404.87 L1532.01,404.91 L1533.21,404.96 L1534.44,405.01 L1535.71,405.05 L1537,405.1 L1537.81,405.13 L1538.59,405.16 L1539.35,405.19 L1540.09,405.23 L1540.8,405.26 L1541.51,405.29 L1542.2,405.32 L1542.88,405.36 L1543.55,405.39 L1544.21,405.43 L1544.88,405.46 L1545.54,405.5 L1546.2,405.53 L1546.87,405.57 L1547.55,405.61 L1548.24,405.64 L1548.93,405.68 L1549.65,405.71 L1550.38,405.75 L1551.13,405.79 L1551.91,405.83 L1552.71,405.86 L1553.54,405.9 L1554.4,405.94 L1555.29,405.97 L1556.22,406.01 L1557.19,406.05 L1558.2,406.08 L1559.25,406.12 L1560.35,406.16 L1561.49,406.19 L1562.69,406.23 L1563.94,406.26 L1565.25,406.3 L1566.62,406.33 L1568.05,406.37 L1569.54,406.4 L1571.1,406.44 L1572.73,406.47 L1574.44,406.5 L1576.21,406.54 L1578.07,406.57 L1580,406.6 L1580.68,406.61 L1581.38,406.62 L1582.1,406.63 L1582.84,406.64 L1583.59,406.65 L1584.37,406.66 L1585.15,406.68 L1585.96,406.69 L1586.78,406.7 L1587.61,406.71 L1588.46,406.72 L1589.33,406.73 L1590.21,406.74 L1591.11,406.75 L1592.02,406.76 L1592.94,406.78 L1593.88,406.79 L1594.83,406.8 L1595.79,406.81 L1596.76,406.82 L1597.75,406.83 L1598.75,406.84 L1599.76,406.85 L1600.78,406.86 L1601.82,406.88 L1602.86,406.89 L1603.92,406.9 L1604.98,406.91 L1606.05,406.92 L1607.14,406.93 L1608.23,406.94 L1609.33,406.95 L1610.44,406.97 L1611.56,406.98 L1612.68,406.99 L1613.82,407 L1614.96,407.01 L1616.1,407.02 L1617.26,407.03 L1618.42,407.04 L1619.58,407.06 L1620.76,407.07 L1621.93,407.08 L1623.11,407.09 L1624.3,407.1 L1625.49,407.11 L1626.69,407.12 L1627.88,407.13 L1629.09,407.14 L1630.29,407.15 L1631.5,407.17 L1632.71,407.18 L1633.92,407.19 L1635.13,407.2 L1636.35,407.21 L1637.57,407.22 L1638.78,407.23 L1640,407.24 L1641.22,407.25 L1642.44,407.26 L1643.65,407.27 L1644.87,407.28 L1646.09,407.29 L1647.3,407.3 L1648.51,407.31 L1649.73,407.32 L1650.93,407.34 L1652.14,407.35 L1653.34,407.36 L1654.54,407.37 L1655.74,407.38 L1656.93,407.39 L1658.12,407.4 L1659.3,407.41 L1660.48,407.41 L1661.66,407.42 L1662.82,407.43 L1663.99,407.44 L1665.14,407.45 L1666.29,407.46 L1667.44,407.47 L1668.57,407.48 L1669.7,407.49 L1670.82,407.5 L1671.94,407.51 L1673.04,407.52 L1674.14,407.53 L1675.22,407.54 L1676.3,407.54 L1677.37,407.55 L1678.43,407.56 L1679.48,407.57 L1680.52,407.58 L1681.54,407.59 L1682.56,407.6 L1683.56,407.6 L1684.56,407.61 L1685.54,407.62 L1686.5,407.63 L1687.46,407.64 L1688.4,407.64 L1689.33,407.65 L1690.25,407.66 L1691.15,407.67 L1692.03,407.67 L1692.91,407.68 L1693.76,407.69 L1694.61,407.69 L1695.43,407.7 L1696.24,407.71 L1697.04,407.71 L1697.82,407.72 L1698.58,407.73 L1699.32,407.73 L1700.05,407.74 L1700.76,407.75 L1701.45,407.75 L1702.12,407.76 L1702.78,407.76 L1703.41,407.77 L1704.03,407.77 L1704.62,407.78 L1705.2,407.79 L1705.75,407.79 L1706.29,407.8 L1706.8,407.8" fill="none" stroke="#008000" stroke-width="3.2" stroke-linejoin="round" stroke-linecap="round" />
<path d="M1301.5,297.6 L1301.89,298.06 L1302.39,298.65 L1302.97,299.34 L1303.63,300.12 L1304.34,300.96 L1305.09,301.85 L1305.86,302.76 L1306.63,303.67 L1307.39,304.56 L1308.12,305.41 L1308.8,306.2 L1309.5,307.04 L1310.18,307.89 L1310.85,308.75 L1311.52,309.61 L1312.18,310.45 L1312.86,311.27 L1313.55,312.07 L1314.26,312.83 L1315.01,313.54 L1315.8,314.2 L1316.61,314.81 L1317.43,315.37 L1318.25,315.9 L1319.1,316.39 L1319.97,316.85 L1320.88,317.28 L1321.83,317.69 L1322.83,318.08 L1323.88,318.44 L1325,318.8 L1325.84,319.05 L1326.73,319.28 L1327.65,319.51 L1328.6,319.73 L1329.59,319.94 L1330.59,320.13 L1331.61,320.32 L1332.64,320.49 L1333.68,320.65 L1334.72,320.79 L1335.75,320.92 L1336.78,321.03 L1337.8,321.12 L1338.8,321.2 L1339.87,321.26 L1340.93,321.29 L1342,321.3 L1343.07,321.28 L1344.14,321.25 L1345.21,321.2 L1346.29,321.14 L1347.36,321.08 L1348.43,321 L1349.5,320.92 L1350.57,320.84 L1351.63,320.77 L1352.7,320.7 L1353.76,320.62 L1354.83,320.5 L1355.89,320.36 L1356.95,320.21 L1358.01,320.05 L1359.07,319.89 L1360.13,319.75 L1361.19,319.61 L1362.25,319.51 L1363.31,319.44 L1364.37,319.41 L1365.44,319.42 L1366.5,319.5 L1367.49,319.62 L1368.48,319.77 L1369.47,319.96 L1370.47,320.18 L1371.46,320.43 L1372.46,320.7 L1373.45,320.99 L1374.44,321.31 L1375.44,321.64 L1376.43,321.99 L1377.43,322.36 L1378.42,322.73 L1379.41,323.11 L1380.4,323.5 L1381.32,323.87 L1382.23,324.25 L1383.13,324.64 L1384.02,325.04 L1384.92,325.46 L1385.81,325.88 L1386.71,326.32 L1387.61,326.78 L1388.51,327.25 L1389.43,327.73 L1390.35,328.23 L1391.29,328.75 L1392.24,329.28 L1393.21,329.83 L1394.2,330.4 L1394.99,330.86 L1395.79,331.34 L1396.6,331.83 L1397.41,332.34 L1398.23,332.86 L1399.06,333.39 L1399.89,333.93 L1400.73,334.48 L1401.58,335.03 L1402.43,335.59 L1403.29,336.16 L1404.16,336.74 L1405.03,337.32 L1405.91,337.9 L1406.8,338.48 L1407.69,339.06 L1408.59,339.64 L1409.49,340.22 L1410.4,340.8 L1411.24,341.33 L1412.1,341.87 L1412.99,342.43 L1413.89,343 L1414.81,343.57 L1415.73,344.15 L1416.67,344.74 L1417.61,345.33 L1418.56,345.92 L1419.5,346.51 L1420.44,347.09 L1421.37,347.67 L1422.29,348.24 L1423.2,348.8 L1424.09,349.35 L1424.96,349.89 L1425.8,350.41 L1426.63,350.92 L1427.42,351.4 L1428.18,351.86 L1428.9,352.3 L1430.08,353.01 L1431.15,353.65 L1432.13,354.23 L1433.04,354.77 L1433.91,355.27 L1434.74,355.74 L1435.55,356.21 L1436.37,356.67 L1437.2,357.14 L1438.07,357.62 L1439,358.14 L1440,358.7 L1440.85,359.17 L1441.71,359.65 L1442.6,360.13 L1443.51,360.62 L1444.43,361.12 L1445.36,361.62 L1446.31,362.13 L1447.26,362.64 L1448.21,363.15 L1449.17,363.67 L1450.13,364.19 L1451.08,364.72 L1452.03,365.24 L1452.97,365.77 L1453.9,366.3 L1454.77,366.8 L1455.63,367.31 L1456.49,367.83 L1457.35,368.36 L1458.22,368.89 L1459.08,369.42 L1459.94,369.95 L1460.8,370.49 L1461.66,371.02 L1462.52,371.55 L1463.38,372.08 L1464.25,372.6 L1465.11,373.11 L1465.97,373.62 L1466.83,374.12 L1467.7,374.6 L1468.62,375.11 L1469.55,375.61 L1470.48,376.11 L1471.4,376.6 L1472.33,377.09 L1473.26,377.57 L1474.19,378.04 L1475.11,378.51 L1476.04,378.97 L1476.97,379.43 L1477.9,379.87 L1478.82,380.32 L1479.75,380.75 L1480.68,381.18 L1481.6,381.6 L1482.59,382.04 L1483.58,382.48 L1484.56,382.9 L1485.55,383.32 L1486.53,383.73 L1487.52,384.14 L1488.5,384.53 L1489.48,384.92 L1490.47,385.3 L1491.45,385.67 L1492.44,386.04 L1493.42,386.4 L1494.41,386.75 L1495.4,387.1 L1496.39,387.44 L1497.38,387.76 L1498.37,388.08 L1499.37,388.39 L1500.36,388.69 L1501.36,388.99 L1502.35,389.28 L1503.34,389.56 L1504.34,389.84 L1505.33,390.11 L1506.33,390.39 L1507.32,390.66 L1508.31,390.93 L1509.3,391.2 L1510.3,391.47 L1511.31,391.74 L1512.34,392.01 L1513.37,392.28 L1514.4,392.55 L1515.44,392.82 L1516.46,393.07 L1517.48,393.33 L1518.48,393.58 L1519.46,393.82 L1520.42,394.05 L1521.34,394.28 L1522.24,394.49 L1523.1,394.7 L1524.39,394.99 L1525.64,395.25 L1526.84,395.49 L1527.99,395.71 L1529.09,395.92 L1530.13,396.12 L1531.09,396.33 L1531.99,396.56 L1532.8,396.8 L1534.24,397.48 L1535.25,398.25 L1536.09,398.92 L1537,399.3 L1537.9,399.21 L1538.71,398.78 L1539.68,398.34 L1541.1,398.2 L1541.91,398.29 L1542.8,398.45 L1543.76,398.66 L1544.8,398.91 L1545.89,399.18 L1547.05,399.46 L1548.25,399.74 L1549.51,399.99 L1550.8,400.2 L1551.73,400.33 L1552.71,400.45 L1553.72,400.56 L1554.77,400.68 L1555.84,400.78 L1556.94,400.89 L1558.05,400.99 L1559.17,401.09 L1560.29,401.19 L1561.41,401.29 L1562.52,401.39 L1563.62,401.49 L1564.7,401.6 L1565.77,401.71 L1566.85,401.82 L1567.94,401.94 L1569.03,402.05 L1570.12,402.17 L1571.21,402.29 L1572.29,402.4 L1573.36,402.51 L1574.43,402.62 L1575.47,402.72 L1576.5,402.82 L1577.51,402.92 L1578.5,403 L1579.55,403.09 L1580.45,403.15 L1581.24,403.21 L1581.98,403.26 L1582.71,403.3 L1583.5,403.35 L1584.38,403.39 L1585.43,403.45 L1586.67,403.52 L1588.18,403.6 L1590,403.7 L1590.7,403.74 L1591.43,403.78 L1592.19,403.83 L1592.97,403.88 L1593.79,403.93 L1594.62,403.98 L1595.49,404.03 L1596.38,404.09 L1597.29,404.15 L1598.22,404.2 L1599.17,404.26 L1600.15,404.33 L1601.14,404.39 L1602.15,404.45 L1603.18,404.51 L1604.22,404.57 L1605.28,404.64 L1606.35,404.7 L1607.44,404.76 L1608.53,404.83 L1609.64,404.89 L1610.76,404.95 L1611.89,405.01 L1613.03,405.07 L1614.17,405.13 L1615.32,405.19 L1616.48,405.25 L1617.64,405.3 L1618.8,405.35 L1619.97,405.4 L1621.13,405.45 L1622.3,405.5 L1623.2,405.53 L1624.1,405.57 L1625.02,405.6 L1625.95,405.64 L1626.88,405.67 L1627.83,405.7 L1628.79,405.73 L1629.75,405.76 L1630.72,405.8 L1631.7,405.83 L1632.69,405.86 L1633.69,405.89 L1634.69,405.92 L1635.7,405.95 L1636.71,405.98 L1637.73,406.01 L1638.75,406.03 L1639.78,406.06 L1640.81,406.09 L1641.85,406.12 L1642.89,406.14 L1643.93,406.17 L1644.97,406.2 L1646.02,406.22 L1647.07,406.25 L1648.12,406.27 L1649.17,406.29 L1650.21,406.32 L1651.26,406.34 L1652.31,406.36 L1653.36,406.39 L1654.41,406.41 L1655.45,406.43 L1656.49,406.45 L1657.53,406.47 L1658.57,406.49 L1659.6,406.51 L1660.63,406.53 L1661.66,406.55 L1662.68,406.57 L1663.69,406.58 L1664.7,406.6 L1665.72,406.62 L1666.76,406.63 L1667.82,406.65 L1668.89,406.66 L1669.99,406.67 L1671.1,406.69 L1672.22,406.7 L1673.36,406.71 L1674.5,406.72 L1675.65,406.73 L1676.81,406.74 L1677.98,406.75 L1679.15,406.76 L1680.31,406.77 L1681.48,406.78 L1682.65,406.79 L1683.81,406.79 L1684.97,406.8 L1686.12,406.81 L1687.27,406.81 L1688.4,406.82 L1689.52,406.82 L1690.63,406.83 L1691.72,406.83 L1692.79,406.84 L1693.85,406.84 L1694.88,406.85 L1695.9,406.85 L1696.89,406.86 L1697.85,406.86 L1698.78,406.86 L1699.69,406.87 L1700.57,406.87 L1701.41,406.87 L1702.22,406.88 L1703,406.88 L1703.73,406.88 L1704.43,406.89 L1705.09,406.89 L1705.7,406.89 L1706.28,406.9 L1706.8,406.9" fill="none" stroke="#ff00ff" stroke-width="3.2" stroke-linejoin="round" stroke-linecap="round" />
<path d="M1301.2,86.6 L1301.64,86.99 L1302.2,87.49 L1302.85,88.08 L1303.59,88.74 L1304.38,89.46 L1305.23,90.21 L1306.1,90.99 L1306.99,91.77 L1307.88,92.54 L1308.76,93.28 L1309.6,93.97 L1310.4,94.6 L1311.23,95.24 L1312.05,95.87 L1312.87,96.49 L1313.68,97.09 L1314.49,97.68 L1315.31,98.25 L1316.14,98.8 L1316.98,99.33 L1317.83,99.84 L1318.7,100.33 L1319.6,100.8 L1320.52,101.24 L1321.47,101.65 L1322.43,102.03 L1323.41,102.39 L1324.4,102.73 L1325.4,103.06 L1326.41,103.37 L1327.41,103.68 L1328.41,103.98 L1329.41,104.29 L1330.4,104.6 L1331.38,104.9 L1332.36,105.19 L1333.35,105.46 L1334.33,105.72 L1335.31,105.97 L1336.3,106.23 L1337.28,106.49 L1338.26,106.77 L1339.24,107.05 L1340.22,107.36 L1341.2,107.7 L1342.19,108.07 L1343.19,108.47 L1344.2,108.9 L1345.21,109.35 L1346.22,109.81 L1347.22,110.27 L1348.2,110.72 L1349.17,111.16 L1350.11,111.57 L1351.03,111.96 L1351.9,112.3 L1353.06,112.72 L1354.2,113.08 L1355.3,113.41 L1356.36,113.71 L1357.36,113.98 L1358.31,114.25 L1359.19,114.52 L1360,114.8 L1361.36,115.35 L1362.44,115.86 L1363.35,116.36 L1364.2,116.9 L1364.97,117.51 L1365.57,118.16 L1366.9,119.3 L1367.51,119.77 L1368.22,120.33 L1369.03,120.95 L1369.9,121.62 L1370.82,122.32 L1371.76,123.04 L1372.72,123.75 L1373.66,124.44 L1374.57,125.09 L1375.42,125.68 L1376.2,126.2 L1377.33,126.85 L1378.41,127.35 L1379.45,127.76 L1380.43,128.14 L1381.37,128.55 L1382.26,129.05 L1383.1,129.7 L1383.75,130.38 L1384.3,131.1 L1384.79,131.88 L1385.25,132.72 L1385.73,133.61 L1386.27,134.55 L1386.92,135.55 L1387.7,136.6 L1388.26,137.28 L1388.87,138 L1389.53,138.74 L1390.22,139.51 L1390.94,140.3 L1391.68,141.1 L1392.44,141.93 L1393.22,142.76 L1393.99,143.6 L1394.76,144.45 L1395.53,145.3 L1396.28,146.15 L1397,147 L1397.66,147.78 L1398.32,148.57 L1398.98,149.37 L1399.64,150.17 L1400.29,150.98 L1400.95,151.79 L1401.61,152.61 L1402.26,153.43 L1402.92,154.26 L1403.57,155.09 L1404.23,155.94 L1404.89,156.78 L1405.54,157.64 L1406.2,158.5 L1406.82,159.32 L1407.45,160.17 L1408.09,161.04 L1408.74,161.92 L1409.39,162.81 L1410.04,163.71 L1410.69,164.61 L1411.33,165.51 L1411.96,166.39 L1412.59,167.26 L1413.19,168.11 L1413.78,168.94 L1414.34,169.73 L1414.89,170.48 L1415.4,171.2 L1416.21,172.31 L1416.96,173.35 L1417.67,174.33 L1418.34,175.24 L1418.97,176.11 L1419.56,176.94 L1420.13,177.74 L1420.68,178.53 L1421.2,179.3 L1421.9,180.36 L1422.47,181.27 L1422.98,182.11 L1423.49,182.98 L1424.04,183.95 L1424.7,185.1 L1425.16,185.92 L1425.67,186.83 L1426.2,187.8 L1426.76,188.83 L1427.33,189.87 L1427.89,190.91 L1428.46,191.93 L1429,192.9 L1429.52,193.8 L1430,194.6 L1430.69,195.68 L1431.27,196.5 L1431.81,197.21 L1432.38,197.95 L1433.05,198.87 L1433.9,200.1 L1434.32,200.74 L1434.76,201.41 L1435.21,202.11 L1435.69,202.85 L1436.18,203.62 L1436.69,204.42 L1437.22,205.26 L1437.77,206.12 L1438.34,207.01 L1438.93,207.94 L1439.54,208.89 L1440.17,209.87 L1440.83,210.87 L1441.5,211.9 L1441.99,212.65 L1442.51,213.44 L1443.06,214.27 L1443.62,215.12 L1444.2,216 L1444.8,216.91 L1445.4,217.83 L1446.02,218.76 L1446.64,219.7 L1447.27,220.64 L1447.9,221.59 L1448.52,222.52 L1449.14,223.45 L1449.75,224.37 L1450.35,225.26 L1450.94,226.13 L1451.51,226.98 L1452.06,227.79 L1452.59,228.57 L1453.1,229.3 L1453.85,230.37 L1454.59,231.39 L1455.3,232.37 L1456,233.3 L1456.68,234.19 L1457.34,235.05 L1457.98,235.88 L1458.59,236.68 L1459.17,237.46 L1459.72,238.21 L1460.25,238.95 L1460.74,239.68 L1461.2,240.4 L1461.83,241.47 L1462.32,242.38 L1462.71,243.2 L1463.04,243.99 L1463.36,244.79 L1463.69,245.67 L1464.09,246.69 L1464.6,247.9 L1464.95,248.71 L1465.33,249.61 L1465.75,250.59 L1466.18,251.63 L1466.64,252.71 L1467.1,253.82 L1467.57,254.93 L1468.03,256.04 L1468.49,257.12 L1468.93,258.17 L1469.35,259.15 L1469.73,260.07 L1470.09,260.89 L1470.4,261.6 L1471.05,263.1 L1471.46,264.1 L1471.78,264.8 L1472.15,265.43 L1472.7,266.2 L1473.34,266.94 L1474.08,267.64 L1474.88,268.35 L1475.71,269.09 L1476.53,269.89 L1477.3,270.8 L1477.83,271.54 L1478.33,272.32 L1478.82,273.13 L1479.3,273.98 L1479.8,274.87 L1480.32,275.8 L1480.88,276.78 L1481.5,277.8 L1481.99,278.58 L1482.5,279.4 L1483.04,280.24 L1483.6,281.12 L1484.18,282.01 L1484.76,282.92 L1485.35,283.84 L1485.95,284.76 L1486.54,285.68 L1487.13,286.6 L1487.7,287.5 L1488.26,288.39 L1488.82,289.27 L1489.38,290.15 L1489.93,291.03 L1490.48,291.91 L1491.04,292.8 L1491.61,293.7 L1492.19,294.62 L1492.77,295.56 L1493.38,296.51 L1494,297.5 L1494.51,298.31 L1495.04,299.14 L1495.59,300.01 L1496.16,300.9 L1496.73,301.8 L1497.31,302.71 L1497.89,303.62 L1498.46,304.53 L1499.03,305.43 L1499.59,306.3 L1500.13,307.16 L1500.64,307.98 L1501.14,308.76 L1501.6,309.5 L1502.24,310.55 L1502.8,311.48 L1503.3,312.33 L1503.77,313.14 L1504.22,313.92 L1504.7,314.72 L1505.22,315.56 L1505.81,316.48 L1506.5,317.5 L1507,318.22 L1507.54,318.98 L1508.11,319.77 L1508.71,320.6 L1509.33,321.44 L1509.97,322.3 L1510.62,323.18 L1511.27,324.05 L1511.93,324.92 L1512.58,325.78 L1513.21,326.62 L1513.83,327.45 L1514.43,328.24 L1515,329 L1515.7,329.93 L1516.38,330.85 L1517.05,331.74 L1517.71,332.62 L1518.35,333.47 L1518.98,334.31 L1519.61,335.13 L1520.22,335.93 L1520.82,336.7 L1521.41,337.46 L1522,338.2 L1522.78,339.16 L1523.54,340.06 L1524.27,340.91 L1524.98,341.73 L1525.69,342.53 L1526.39,343.33 L1527.09,344.15 L1527.8,345 L1528.44,345.79 L1529.07,346.6 L1529.7,347.42 L1530.33,348.24 L1530.97,349.07 L1531.6,349.88 L1532.23,350.68 L1532.86,351.45 L1533.5,352.2 L1534.22,353.01 L1534.94,353.79 L1535.67,354.56 L1536.39,355.3 L1537.12,356.03 L1537.85,356.73 L1538.57,357.42 L1539.3,358.1 L1540.13,358.84 L1540.97,359.54 L1541.81,360.21 L1542.65,360.87 L1543.48,361.53 L1544.3,362.2 L1545.1,362.9 L1545.89,363.61 L1546.67,364.33 L1547.44,365.05 L1548.2,365.79 L1548.95,366.54 L1549.68,367.31 L1550.4,368.1 L1551.11,368.94 L1551.81,369.83 L1552.5,370.75 L1553.17,371.66 L1553.82,372.56 L1554.43,373.42 L1555,374.2 L1555.72,375.23 L1556.35,376.21 L1556.93,377.11 L1557.5,377.89 L1558.1,378.5 L1558.94,378.92 L1559.77,378.97 L1561.2,379.4 L1561.89,379.73 L1562.67,380.12 L1563.53,380.57 L1564.46,381.06 L1565.44,381.58 L1566.46,382.12 L1567.5,382.68 L1568.55,383.24 L1569.6,383.8 L1570.47,384.27 L1571.37,384.76 L1572.3,385.27 L1573.25,385.79 L1574.21,386.33 L1575.19,386.86 L1576.16,387.39 L1577.14,387.9 L1578.11,388.39 L1579.06,388.86 L1580,389.3 L1581.01,389.74 L1582.01,390.16 L1582.99,390.55 L1583.97,390.91 L1584.95,391.27 L1585.93,391.61 L1586.92,391.95 L1587.93,392.3 L1588.95,392.64 L1590,393 L1590.98,393.34 L1591.97,393.68 L1592.99,394.02 L1594.01,394.37 L1595.05,394.71 L1596.09,395.05 L1597.13,395.38 L1598.16,395.71 L1599.19,396.02 L1600.2,396.32 L1601.2,396.6 L1602.28,396.89 L1603.34,397.17 L1604.4,397.43 L1605.45,397.68 L1606.49,397.92 L1607.53,398.15 L1608.56,398.37 L1609.6,398.58 L1610.65,398.79 L1611.7,399 L1612.71,399.2 L1613.64,399.38 L1614.54,399.55 L1615.42,399.71 L1616.33,399.86 L1617.29,400.02 L1618.34,400.18 L1619.5,400.34 L1620.81,400.51 L1622.3,400.7 L1623.08,400.8 L1623.91,400.89 L1624.77,401 L1625.68,401.11 L1626.62,401.22 L1627.58,401.33 L1628.58,401.44 L1629.6,401.56 L1630.64,401.67 L1631.7,401.79 L1632.78,401.9 L1633.86,402.01 L1634.95,402.13 L1636.04,402.24 L1637.13,402.34 L1638.22,402.45 L1639.31,402.55 L1640.38,402.64 L1641.44,402.74 L1642.48,402.82 L1643.5,402.9 L1644.49,402.97 L1645.43,403.04 L1646.35,403.11 L1647.23,403.17 L1648.1,403.23 L1648.95,403.28 L1649.79,403.33 L1650.64,403.38 L1651.49,403.42 L1652.35,403.47 L1653.24,403.51 L1654.15,403.55 L1655.1,403.59 L1656.09,403.63 L1657.12,403.66 L1658.21,403.7 L1659.36,403.74 L1660.57,403.78 L1661.87,403.82 L1663.24,403.86 L1664.7,403.9 L1665.48,403.92 L1666.3,403.94 L1667.16,403.97 L1668.07,403.99 L1669.01,404.01 L1669.99,404.03 L1670.99,404.05 L1672.03,404.08 L1673.1,404.1 L1674.19,404.12 L1675.3,404.14 L1676.43,404.17 L1677.58,404.19 L1678.74,404.21 L1679.92,404.23 L1681.1,404.26 L1682.29,404.28 L1683.49,404.3 L1684.69,404.32 L1685.88,404.34 L1687.08,404.36 L1688.26,404.38 L1689.44,404.4 L1690.61,404.42 L1691.76,404.44 L1692.9,404.46 L1694.01,404.48 L1695.11,404.5 L1696.18,404.52 L1697.23,404.54 L1698.25,404.55 L1699.23,404.57 L1700.19,404.59 L1701.1,404.6 L1701.98,404.62 L1702.81,404.63 L1703.6,404.64 L1704.35,404.66 L1705.04,404.67 L1705.68,404.68 L1706.27,404.69 L1706.8,404.7" fill="none" stroke="#0000ff" stroke-width="3.2" stroke-linejoin="round" stroke-linecap="round" />
<path d="M1301.2,61.1 L1301.83,61.16 L1302.67,61.2 L1303.67,61.26 L1304.81,61.39 L1306.03,61.63 L1307.3,62 L1308.09,62.32 L1308.94,62.7 L1309.83,63.15 L1310.75,63.63 L1311.7,64.14 L1312.66,64.67 L1313.63,65.19 L1314.6,65.7 L1315.56,66.17 L1316.5,66.6 L1317.52,67.02 L1318.53,67.41 L1319.54,67.78 L1320.55,68.13 L1321.57,68.47 L1322.59,68.82 L1323.64,69.19 L1324.7,69.58 L1325.8,70 L1326.71,70.37 L1327.64,70.74 L1328.57,71.12 L1329.52,71.52 L1330.48,71.92 L1331.45,72.33 L1332.43,72.76 L1333.43,73.2 L1334.44,73.65 L1335.46,74.12 L1336.5,74.6 L1337.4,75.03 L1338.32,75.47 L1339.26,75.93 L1340.22,76.41 L1341.18,76.89 L1342.16,77.38 L1343.13,77.88 L1344.11,78.38 L1345.07,78.88 L1346.03,79.37 L1346.97,79.86 L1347.9,80.34 L1348.8,80.8 L1349.76,81.3 L1350.73,81.82 L1351.7,82.34 L1352.66,82.86 L1353.6,83.38 L1354.54,83.89 L1355.45,84.39 L1356.34,84.87 L1357.21,85.33 L1358.04,85.75 L1358.84,86.15 L1359.6,86.5 L1360.8,86.98 L1361.9,87.3 L1362.91,87.54 L1363.85,87.75 L1364.75,87.99 L1365.63,88.32 L1366.5,88.8 L1367.37,89.47 L1368.22,90.28 L1369.04,91.18 L1369.83,92.11 L1370.57,93.03 L1371.26,93.88 L1371.9,94.6 L1372.72,95.48 L1373.28,96.09 L1373.93,96.75 L1375,97.8 L1375.54,98.31 L1376.12,98.86 L1376.76,99.44 L1377.43,100.06 L1378.15,100.71 L1378.91,101.41 L1379.69,102.13 L1380.51,102.9 L1381.35,103.7 L1382.22,104.53 L1383.1,105.4 L1383.73,106.02 L1384.37,106.67 L1385.04,107.34 L1385.73,108.04 L1386.44,108.75 L1387.16,109.48 L1387.89,110.22 L1388.63,110.98 L1389.38,111.75 L1390.13,112.53 L1390.88,113.32 L1391.64,114.11 L1392.39,114.91 L1393.13,115.71 L1393.87,116.5 L1394.6,117.3 L1395.28,118.05 L1395.96,118.8 L1396.64,119.56 L1397.32,120.32 L1398.01,121.09 L1398.69,121.86 L1399.37,122.64 L1400.06,123.42 L1400.74,124.21 L1401.43,125.01 L1402.11,125.82 L1402.79,126.63 L1403.48,127.45 L1404.16,128.27 L1404.84,129.11 L1405.52,129.95 L1406.2,130.8 L1406.81,131.57 L1407.41,132.35 L1408.02,133.13 L1408.63,133.93 L1409.23,134.73 L1409.84,135.53 L1410.44,136.35 L1411.04,137.16 L1411.65,137.99 L1412.25,138.81 L1412.86,139.65 L1413.46,140.48 L1414.06,141.32 L1414.67,142.16 L1415.27,143.01 L1415.88,143.85 L1416.49,144.7 L1417.09,145.55 L1417.7,146.4 L1418.28,147.21 L1418.85,148.01 L1419.42,148.82 L1420,149.62 L1420.57,150.43 L1421.14,151.24 L1421.71,152.05 L1422.28,152.87 L1422.85,153.68 L1423.42,154.51 L1424,155.33 L1424.58,156.17 L1425.15,157 L1425.74,157.85 L1426.32,158.7 L1426.91,159.56 L1427.5,160.43 L1428.1,161.31 L1428.7,162.2 L1429.3,163.1 L1429.83,163.89 L1430.36,164.69 L1430.9,165.49 L1431.43,166.3 L1431.97,167.12 L1432.52,167.94 L1433.06,168.77 L1433.61,169.6 L1434.16,170.44 L1434.71,171.28 L1435.26,172.13 L1435.81,172.98 L1436.37,173.84 L1436.93,174.7 L1437.49,175.57 L1438.05,176.44 L1438.61,177.31 L1439.17,178.18 L1439.74,179.06 L1440.3,179.94 L1440.87,180.83 L1441.43,181.71 L1442,182.6 L1442.53,183.42 L1443.06,184.26 L1443.59,185.1 L1444.13,185.94 L1444.68,186.8 L1445.23,187.66 L1445.78,188.53 L1446.33,189.4 L1446.89,190.27 L1447.44,191.15 L1448,192.03 L1448.55,192.9 L1449.11,193.78 L1449.66,194.66 L1450.21,195.54 L1450.75,196.41 L1451.29,197.28 L1451.83,198.14 L1452.36,199 L1452.89,199.86 L1453.41,200.7 L1453.92,201.54 L1454.42,202.37 L1454.92,203.19 L1455.4,204 L1455.96,204.95 L1456.52,205.88 L1457.06,206.81 L1457.59,207.72 L1458.11,208.61 L1458.62,209.51 L1459.13,210.39 L1459.62,211.27 L1460.12,212.14 L1460.61,213.01 L1461.09,213.88 L1461.58,214.75 L1462.06,215.62 L1462.54,216.49 L1463.02,217.37 L1463.51,218.25 L1464,219.14 L1464.49,220.04 L1464.99,220.95 L1465.49,221.87 L1466,222.8 L1466.47,223.66 L1466.94,224.53 L1467.42,225.41 L1467.89,226.29 L1468.36,227.17 L1468.84,228.06 L1469.32,228.96 L1469.8,229.86 L1470.28,230.76 L1470.75,231.67 L1471.23,232.58 L1471.72,233.49 L1472.2,234.4 L1472.68,235.31 L1473.16,236.23 L1473.64,237.14 L1474.12,238.05 L1474.6,238.96 L1475.08,239.88 L1475.56,240.79 L1476.04,241.69 L1476.52,242.6 L1477,243.5 L1477.48,244.4 L1477.96,245.3 L1478.43,246.2 L1478.91,247.1 L1479.39,248 L1479.86,248.91 L1480.34,249.81 L1480.81,250.71 L1481.29,251.61 L1481.77,252.51 L1482.24,253.41 L1482.72,254.31 L1483.2,255.21 L1483.67,256.11 L1484.15,257.01 L1484.63,257.91 L1485.11,258.81 L1485.59,259.71 L1486.07,260.61 L1486.55,261.51 L1487.03,262.41 L1487.52,263.3 L1488,264.2 L1488.49,265.1 L1488.97,265.99 L1489.46,266.89 L1489.95,267.78 L1490.44,268.68 L1490.93,269.58 L1491.42,270.47 L1491.91,271.37 L1492.4,272.26 L1492.9,273.16 L1493.39,274.05 L1493.88,274.95 L1494.38,275.84 L1494.87,276.73 L1495.37,277.62 L1495.86,278.51 L1496.35,279.4 L1496.84,280.29 L1497.34,281.17 L1497.83,282.06 L1498.32,282.94 L1498.81,283.82 L1499.3,284.7 L1499.81,285.62 L1500.32,286.53 L1500.83,287.45 L1501.34,288.36 L1501.85,289.28 L1502.36,290.19 L1502.87,291.1 L1503.38,292.01 L1503.89,292.92 L1504.4,293.83 L1504.91,294.73 L1505.41,295.64 L1505.92,296.54 L1506.43,297.44 L1506.94,298.34 L1507.45,299.24 L1507.96,300.14 L1508.46,301.03 L1508.97,301.93 L1509.48,302.82 L1509.99,303.71 L1510.5,304.6 L1511.01,305.49 L1511.52,306.38 L1512.03,307.28 L1512.54,308.17 L1513.06,309.07 L1513.57,309.96 L1514.08,310.86 L1514.6,311.75 L1515.11,312.64 L1515.62,313.53 L1516.14,314.42 L1516.65,315.3 L1517.16,316.18 L1517.67,317.05 L1518.18,317.92 L1518.69,318.78 L1519.2,319.64 L1519.7,320.49 L1520.2,321.33 L1520.7,322.16 L1521.2,322.99 L1521.7,323.8 L1522.27,324.73 L1522.84,325.65 L1523.41,326.57 L1523.97,327.47 L1524.53,328.37 L1525.09,329.26 L1525.65,330.14 L1526.21,331.01 L1526.76,331.88 L1527.31,332.73 L1527.87,333.59 L1528.42,334.43 L1528.97,335.27 L1529.53,336.11 L1530.08,336.93 L1530.63,337.76 L1531.19,338.58 L1531.74,339.39 L1532.3,340.2 L1532.93,341.11 L1533.58,342.02 L1534.23,342.94 L1534.89,343.86 L1535.56,344.78 L1536.23,345.7 L1536.9,346.6 L1537.56,347.5 L1538.22,348.38 L1538.87,349.24 L1539.51,350.08 L1540.13,350.89 L1540.73,351.68 L1541.31,352.44 L1541.87,353.16 L1542.4,353.85 L1542.9,354.5 L1543.77,355.62 L1544.57,356.61 L1545.29,357.5 L1545.95,358.3 L1546.57,359.03 L1547.16,359.7 L1547.71,360.32 L1548.26,360.92 L1548.8,361.5 L1549.72,362.44 L1550.54,363.2 L1551.29,363.83 L1552,364.41 L1552.7,365 L1553.53,365.67 L1554.31,366.24 L1555.05,366.84 L1555.8,367.6 L1556.37,368.38 L1556.89,369.27 L1557.43,370.22 L1558.05,371.18 L1558.8,372.1 L1559.54,372.82 L1560.35,373.52 L1561.23,374.22 L1562.16,374.93 L1563.16,375.69 L1564.2,376.5 L1564.93,377.08 L1565.69,377.69 L1566.48,378.33 L1567.3,378.98 L1568.13,379.64 L1568.99,380.31 L1569.85,380.98 L1570.72,381.64 L1571.6,382.3 L1572.39,382.89 L1573.19,383.5 L1574,384.11 L1574.81,384.73 L1575.64,385.34 L1576.48,385.95 L1577.33,386.54 L1578.2,387.12 L1579.09,387.67 L1580,388.2 L1580.93,388.7 L1581.88,389.17 L1582.84,389.62 L1583.83,390.05 L1584.82,390.47 L1585.84,390.88 L1586.86,391.28 L1587.9,391.68 L1588.94,392.09 L1590,392.5 L1590.98,392.88 L1591.97,393.26 L1592.99,393.65 L1594.01,394.03 L1595.05,394.41 L1596.09,394.79 L1597.13,395.15 L1598.16,395.51 L1599.19,395.86 L1600.2,396.19 L1601.2,396.5 L1602.28,396.83 L1603.34,397.13 L1604.4,397.42 L1605.45,397.7 L1606.49,397.97 L1607.53,398.23 L1608.56,398.48 L1609.6,398.72 L1610.65,398.96 L1611.7,399.2 L1612.76,399.44 L1613.81,399.67 L1614.87,399.89 L1615.93,400.11 L1616.99,400.32 L1618.06,400.52 L1619.12,400.73 L1620.18,400.92 L1621.24,401.11 L1622.3,401.3 L1623.36,401.48 L1624.42,401.65 L1625.48,401.82 L1626.54,401.98 L1627.6,402.14 L1628.66,402.29 L1629.72,402.44 L1630.78,402.59 L1631.84,402.75 L1632.9,402.9 L1633.91,403.05 L1634.85,403.2 L1635.75,403.35 L1636.63,403.5 L1637.54,403.65 L1638.5,403.8 L1639.54,403.95 L1640.7,404.1 L1642.01,404.25 L1643.5,404.4 L1644.28,404.47 L1645.11,404.55 L1645.97,404.63 L1646.88,404.71 L1647.82,404.79 L1648.79,404.87 L1649.79,404.96 L1650.81,405.04 L1651.85,405.12 L1652.91,405.2 L1653.98,405.28 L1655.07,405.37 L1656.15,405.44 L1657.25,405.52 L1658.34,405.6 L1659.43,405.67 L1660.51,405.74 L1661.58,405.81 L1662.64,405.88 L1663.68,405.94 L1664.7,406 L1665.71,406.06 L1666.71,406.11 L1667.72,406.16 L1668.73,406.21 L1669.73,406.26 L1670.74,406.3 L1671.74,406.34 L1672.75,406.39 L1673.76,406.43 L1674.76,406.46 L1675.76,406.5 L1676.77,406.53 L1677.77,406.57 L1678.78,406.6 L1679.78,406.63 L1680.79,406.66 L1681.79,406.69 L1682.79,406.72 L1683.79,406.75 L1684.8,406.77 L1685.8,406.8 L1686.82,406.83 L1687.89,406.85 L1688.99,406.87 L1690.11,406.89 L1691.26,406.91 L1692.42,406.93 L1693.59,406.95 L1694.75,406.96 L1695.91,406.98 L1697.05,406.99 L1698.18,407.01 L1699.27,407.02 L1700.34,407.03 L1701.36,407.04 L1702.33,407.05 L1703.25,407.06 L1704.11,407.07 L1704.9,407.08 L1705.62,407.09 L1706.25,407.09 L1706.8,407.1" fill="none" stroke="#000" stroke-width="3.2" stroke-linejoin="round" stroke-linecap="round" />
<rect x="121.6" y="29.7" width="426" height="398.8" fill="none" stroke="#000" stroke-width="2.8"/>
<line x1="157.25" y1="428.5" x2="157.25" y2="436.5" stroke="#000" stroke-width="2.8"/>
<line x1="245.85" y1="428.5" x2="245.85" y2="436.5" stroke="#000" stroke-width="2.8"/>
<line x1="334.45" y1="428.5" x2="334.45" y2="436.5" stroke="#000" stroke-width="2.8"/>
<line x1="423.05" y1="428.5" x2="423.05" y2="436.5" stroke="#000" stroke-width="2.8"/>
<line x1="511.65" y1="428.5" x2="511.65" y2="436.5" stroke="#000" stroke-width="2.8"/>
<line x1="201.55" y1="428.5" x2="201.55" y2="433" stroke="#000" stroke-width="2.8"/>
<line x1="290.15" y1="428.5" x2="290.15" y2="433" stroke="#000" stroke-width="2.8"/>
<line x1="378.75" y1="428.5" x2="378.75" y2="433" stroke="#000" stroke-width="2.8"/>
<line x1="467.35" y1="428.5" x2="467.35" y2="433" stroke="#000" stroke-width="2.8"/>
<line x1="121.6" y1="413.8" x2="113.6" y2="413.8" stroke="#000" stroke-width="2.8"/>
<line x1="121.6" y1="266.05" x2="113.6" y2="266.05" stroke="#000" stroke-width="2.8"/>
<line x1="121.6" y1="118.3" x2="113.6" y2="118.3" stroke="#000" stroke-width="2.8"/>
<line x1="121.6" y1="339.93" x2="117.1" y2="339.93" stroke="#000" stroke-width="2.8"/>
<line x1="121.6" y1="192.18" x2="117.1" y2="192.18" stroke="#000" stroke-width="2.8"/>
<line x1="121.6" y1="44.43" x2="117.1" y2="44.43" stroke="#000" stroke-width="2.8"/>
<text x="157.25" y="469.8" font-size="29" text-anchor="middle" fill="#000"  stroke="#000" stroke-width="0.3">–0.10</text>
<text x="245.85" y="469.8" font-size="29" text-anchor="middle" fill="#000"  stroke="#000" stroke-width="0.3">–0.05</text>
<text x="334.45" y="469.8" font-size="29" text-anchor="middle" fill="#000"  stroke="#000" stroke-width="0.3">0.00</text>
<text x="423.05" y="469.8" font-size="29" text-anchor="middle" fill="#000"  stroke="#000" stroke-width="0.3">0.05</text>
<text x="511.65" y="469.8" font-size="29" text-anchor="middle" fill="#000"  stroke="#000" stroke-width="0.3">0.10</text>
<text x="101.2" y="423.8" font-size="29" text-anchor="end" fill="#000"  stroke="#000" stroke-width="0.3">0</text>
<text x="101.2" y="276.05" font-size="29" text-anchor="end" fill="#000"  stroke="#000" stroke-width="0.3">100</text>
<text x="101.2" y="128.3" font-size="29" text-anchor="end" fill="#000"  stroke="#000" stroke-width="0.3">200</text>
<text x="303.3" y="513.1" font-size="30" text-anchor="start" fill="#000" font-style="italic" stroke="#000" stroke-width="0.3">H</text>
<text x="331" y="513.1" font-size="29" text-anchor="start" fill="#000"  stroke="#000" stroke-width="0.3">(T)</text>
<text x="23.5" y="230.15" font-size="29.2" text-anchor="middle" fill="#000" transform="rotate(-90 23.5 230.15)" stroke="#000" stroke-width="0.3">Kerr rotation (mDeg)</text>
<text x="146.11" y="63.8" font-size="25.5" font-style="italic" stroke="#000" stroke-width="0.3">T</text>
<text transform="translate(167.15,64) scale(1,0.78)" font-size="25.5" fill="#000" stroke="#000" stroke-width="0.35">=</text>
<text x="189" y="63.8" font-size="25.5" stroke="#000" stroke-width="0.3">80K</text>
<text x="420.8" y="60.8" font-size="25.5" fill="#ff8000" font-style="italic" stroke="#ff8000" stroke-width="0.3">V</text>
<text x="435.71" y="67" font-size="16.5" fill="#ff8000" stroke="#ff8000" stroke-width="0.3">g</text>
<text transform="translate(449.05,61) scale(1,0.78)" font-size="25.5" fill="#ff8000" stroke="#ff8000" stroke-width="0.35">=</text>
<text x="470.32" y="60.8" font-size="25.5" fill="#ff8000" stroke="#ff8000" stroke-width="0.3">2.0 V</text>
<text x="421.2" y="124.8" font-size="25.5" fill="#008000" font-style="italic" stroke="#008000" stroke-width="0.3">V</text>
<text x="436.11" y="131" font-size="16.5" fill="#008000" stroke="#008000" stroke-width="0.3">g</text>
<text transform="translate(449.45,125) scale(1,0.78)" font-size="25.5" fill="#008000" stroke="#008000" stroke-width="0.35">=</text>
<text x="470.06" y="124.8" font-size="25.5" fill="#008000" stroke="#008000" stroke-width="0.3">1.5 V</text>
<text x="421.2" y="208.2" font-size="25.5" fill="#ff00ff" font-style="italic" stroke="#ff00ff" stroke-width="0.3">V</text>
<text x="436.11" y="214.4" font-size="16.5" fill="#ff00ff" stroke="#ff00ff" stroke-width="0.3">g</text>
<text transform="translate(449.45,208.4) scale(1,0.78)" font-size="25.5" fill="#ff00ff" stroke="#ff00ff" stroke-width="0.35">=</text>
<text x="471" y="208.2" font-size="25.5" fill="#ff00ff" stroke="#ff00ff" stroke-width="0.3">0.8 V</text>
<text x="441.9" y="301.5" font-size="25.5" fill="#000" font-style="italic" stroke="#000" stroke-width="0.3">V</text>
<text x="456.81" y="307.7" font-size="16.5" fill="#000" stroke="#000" stroke-width="0.3">g</text>
<text transform="translate(470.15,301.7) scale(1,0.78)" font-size="25.5" fill="#000" stroke="#000" stroke-width="0.35">=</text>
<text x="491.7" y="301.5" font-size="25.5" fill="#000" stroke="#000" stroke-width="0.3">0 V</text>
<rect x="707.3" y="29.5" width="426.3" height="398.6" fill="none" stroke="#000" stroke-width="2.8"/>
<line x1="707.29" y1="428.1" x2="707.29" y2="436.1" stroke="#000" stroke-width="2.8"/>
<line x1="813.87" y1="428.1" x2="813.87" y2="436.1" stroke="#000" stroke-width="2.8"/>
<line x1="920.45" y1="428.1" x2="920.45" y2="436.1" stroke="#000" stroke-width="2.8"/>
<line x1="1027.03" y1="428.1" x2="1027.03" y2="436.1" stroke="#000" stroke-width="2.8"/>
<line x1="1133.61" y1="428.1" x2="1133.61" y2="436.1" stroke="#000" stroke-width="2.8"/>
<line x1="760.58" y1="428.1" x2="760.58" y2="432.6" stroke="#000" stroke-width="2.8"/>
<line x1="867.16" y1="428.1" x2="867.16" y2="432.6" stroke="#000" stroke-width="2.8"/>
<line x1="973.74" y1="428.1" x2="973.74" y2="432.6" stroke="#000" stroke-width="2.8"/>
<line x1="1080.32" y1="428.1" x2="1080.32" y2="432.6" stroke="#000" stroke-width="2.8"/>
<line x1="707.3" y1="387.88" x2="699.3" y2="387.88" stroke="#000" stroke-width="2.8"/>
<line x1="707.3" y1="308.24" x2="699.3" y2="308.24" stroke="#000" stroke-width="2.8"/>
<line x1="707.3" y1="228.6" x2="699.3" y2="228.6" stroke="#000" stroke-width="2.8"/>
<line x1="707.3" y1="148.96" x2="699.3" y2="148.96" stroke="#000" stroke-width="2.8"/>
<line x1="707.3" y1="69.32" x2="699.3" y2="69.32" stroke="#000" stroke-width="2.8"/>
<line x1="707.3" y1="427.7" x2="702.8" y2="427.7" stroke="#000" stroke-width="2.8"/>
<line x1="707.3" y1="348.06" x2="702.8" y2="348.06" stroke="#000" stroke-width="2.8"/>
<line x1="707.3" y1="268.42" x2="702.8" y2="268.42" stroke="#000" stroke-width="2.8"/>
<line x1="707.3" y1="188.78" x2="702.8" y2="188.78" stroke="#000" stroke-width="2.8"/>
<line x1="707.3" y1="109.14" x2="702.8" y2="109.14" stroke="#000" stroke-width="2.8"/>
<line x1="707.3" y1="29.5" x2="702.8" y2="29.5" stroke="#000" stroke-width="2.8"/>
<text x="707.29" y="469.8" font-size="29" text-anchor="middle" fill="#000"  stroke="#000" stroke-width="0.3">–4</text>
<text x="813.87" y="469.8" font-size="29" text-anchor="middle" fill="#000"  stroke="#000" stroke-width="0.3">–2</text>
<text x="920.45" y="469.8" font-size="29" text-anchor="middle" fill="#000"  stroke="#000" stroke-width="0.3">0</text>
<text x="1027.03" y="469.8" font-size="29" text-anchor="middle" fill="#000"  stroke="#000" stroke-width="0.3">2</text>
<text x="1133.61" y="469.8" font-size="29" text-anchor="middle" fill="#000"  stroke="#000" stroke-width="0.3">4</text>
<text x="687.3" y="397.88" font-size="29" text-anchor="end" fill="#000"  stroke="#000" stroke-width="0.3">–2</text>
<text x="687.3" y="318.24" font-size="29" text-anchor="end" fill="#000"  stroke="#000" stroke-width="0.3">–1</text>
<text x="687.3" y="238.6" font-size="29" text-anchor="end" fill="#000"  stroke="#000" stroke-width="0.3">0</text>
<text x="687.3" y="158.96" font-size="29" text-anchor="end" fill="#000"  stroke="#000" stroke-width="0.3">1</text>
<text x="687.3" y="79.32" font-size="29" text-anchor="end" fill="#000"  stroke="#000" stroke-width="0.3">2</text>
<text x="889" y="512.9" font-size="30" text-anchor="start" fill="#000" font-style="italic" stroke="#000" stroke-width="0.3">H</text>
<text x="916.7" y="512.9" font-size="29" text-anchor="start" fill="#000"  stroke="#000" stroke-width="0.3">(T)</text>
<text x="626" y="219.6" font-size="29" text-anchor="middle" fill="#000" letter-spacing="0.22" transform="rotate(-90 626 219.6)" stroke="#000" stroke-width="0.3">Magnetization (<tspan font-style="italic">μ</tspan><tspan font-size="19.6" dy="5">b</tspan><tspan dy="-5">/Mn)</tspan></text>
<text x="998.41" y="412.8" font-size="25.5" font-style="italic" stroke="#000" stroke-width="0.3">T</text>
<text transform="translate(1019.45,413) scale(1,0.78)" font-size="25.5" fill="#000" stroke="#000" stroke-width="0.35">=</text>
<text x="1040.1" y="412.8" font-size="25.5" stroke="#000" stroke-width="0.3">10K</text>
<line x1="730.9" y1="51.4" x2="768.2" y2="51.4" stroke="#000" stroke-width="2.8" stroke-linecap="round"/>
<text x="779.2" y="60.3" font-size="26" text-anchor="start" fill="#000" letter-spacing="-0.38" stroke="#000" stroke-width="0.3">Pristine</text>
<line x1="730.9" y1="84.1" x2="768.2" y2="84.1" stroke="#ff00ff" stroke-width="2.8" stroke-linecap="round"/>
<text x="781.3" y="91.7" font-size="25.5" fill="#000" font-style="italic" stroke="#000" stroke-width="0.3">V</text>
<text x="796.21" y="97.9" font-size="16.5" fill="#000" stroke="#000" stroke-width="0.3">g</text>
<text transform="translate(809.55,91.9) scale(1,0.78)" font-size="25.5" fill="#000" stroke="#000" stroke-width="0.35">=</text>
<text x="831.1" y="91.7" font-size="25.5" fill="#000" stroke="#000" stroke-width="0.3">0.8 V</text>
<line x1="730.9" y1="122.7" x2="768.2" y2="122.7" stroke="#008000" stroke-width="2.8" stroke-linecap="round"/>
<text x="781.3" y="129.5" font-size="25.5" fill="#000" font-style="italic" stroke="#000" stroke-width="0.3">V</text>
<text x="796.21" y="135.7" font-size="16.5" fill="#000" stroke="#000" stroke-width="0.3">g</text>
<text transform="translate(809.55,129.7) scale(1,0.78)" font-size="25.5" fill="#000" stroke="#000" stroke-width="0.35">=</text>
<text x="830.16" y="129.5" font-size="25.5" fill="#000" stroke="#000" stroke-width="0.3">1.2 V</text>
<line x1="730.9" y1="161.3" x2="768.2" y2="161.3" stroke="#ff0000" stroke-width="2.8" stroke-linecap="round"/>
<text x="781.3" y="168.6" font-size="25.5" fill="#000" font-style="italic" stroke="#000" stroke-width="0.3">V</text>
<text x="796.21" y="174.8" font-size="16.5" fill="#000" stroke="#000" stroke-width="0.3">g</text>
<text transform="translate(809.55,168.8) scale(1,0.78)" font-size="25.5" fill="#000" stroke="#000" stroke-width="0.35">=</text>
<text x="830.82" y="168.6" font-size="25.5" fill="#000" stroke="#000" stroke-width="0.3">2.5 V</text>
<line x1="730.9" y1="199.5" x2="768.2" y2="199.5" stroke="#0000ff" stroke-width="2.8" stroke-linecap="round"/>
<text x="781.3" y="207.4" font-size="25.5" fill="#000" font-style="italic" stroke="#000" stroke-width="0.3">V</text>
<text x="796.21" y="213.6" font-size="16.5" fill="#000" stroke="#000" stroke-width="0.3">g</text>
<text transform="translate(809.55,207.6) scale(1,0.78)" font-size="25.5" fill="#000" stroke="#000" stroke-width="0.35">=</text>
<text x="832.1" y="207.4" font-size="25.5" fill="#000" stroke="#000" stroke-width="0.3">–3.0 V</text>
<rect x="1280.7" y="29.6" width="426.1" height="398.5" fill="none" stroke="#000" stroke-width="2.8"/>
<line x1="1280.7" y1="428.1" x2="1280.7" y2="436.1" stroke="#000" stroke-width="2.8"/>
<line x1="1387.23" y1="428.1" x2="1387.23" y2="436.1" stroke="#000" stroke-width="2.8"/>
<line x1="1493.75" y1="428.1" x2="1493.75" y2="436.1" stroke="#000" stroke-width="2.8"/>
<line x1="1600.28" y1="428.1" x2="1600.28" y2="436.1" stroke="#000" stroke-width="2.8"/>
<line x1="1706.8" y1="428.1" x2="1706.8" y2="436.1" stroke="#000" stroke-width="2.8"/>
<line x1="1333.96" y1="428.1" x2="1333.96" y2="432.6" stroke="#000" stroke-width="2.8"/>
<line x1="1440.49" y1="428.1" x2="1440.49" y2="432.6" stroke="#000" stroke-width="2.8"/>
<line x1="1547.01" y1="428.1" x2="1547.01" y2="432.6" stroke="#000" stroke-width="2.8"/>
<line x1="1653.54" y1="428.1" x2="1653.54" y2="432.6" stroke="#000" stroke-width="2.8"/>
<line x1="1280.7" y1="408.8" x2="1272.7" y2="408.8" stroke="#000" stroke-width="2.8"/>
<line x1="1280.7" y1="219.2" x2="1272.7" y2="219.2" stroke="#000" stroke-width="2.8"/>
<line x1="1280.7" y1="29.6" x2="1272.7" y2="29.6" stroke="#000" stroke-width="2.8"/>
<line x1="1280.7" y1="314" x2="1276.2" y2="314" stroke="#000" stroke-width="2.8"/>
<line x1="1280.7" y1="124.4" x2="1276.2" y2="124.4" stroke="#000" stroke-width="2.8"/>
<text x="1280.7" y="469.8" font-size="29" text-anchor="middle" fill="#000"  stroke="#000" stroke-width="0.3">0</text>
<text x="1387.23" y="469.8" font-size="29" text-anchor="middle" fill="#000"  stroke="#000" stroke-width="0.3">50</text>
<text x="1493.75" y="469.8" font-size="29" text-anchor="middle" fill="#000"  stroke="#000" stroke-width="0.3">100</text>
<text x="1600.28" y="469.8" font-size="29" text-anchor="middle" fill="#000"  stroke="#000" stroke-width="0.3">150</text>
<text x="1706.8" y="469.8" font-size="29" text-anchor="middle" fill="#000"  stroke="#000" stroke-width="0.3">200</text>
<text x="1261.3" y="418.8" font-size="29" text-anchor="end" fill="#000"  stroke="#000" stroke-width="0.3">0</text>
<text x="1261.3" y="229.2" font-size="29" text-anchor="end" fill="#000"  stroke="#000" stroke-width="0.3">1</text>
<text x="1261.3" y="39.6" font-size="29" text-anchor="end" fill="#000"  stroke="#000" stroke-width="0.3">2</text>
<text x="1463.5" y="511.9" font-size="30" text-anchor="start" fill="#000" font-style="italic" stroke="#000" stroke-width="0.3">T</text>
<text x="1487.9" y="511.9" font-size="29" text-anchor="start" fill="#000"  stroke="#000" stroke-width="0.3">(K)</text>
<text x="1218" y="229.4" font-size="29" text-anchor="middle" fill="#000" letter-spacing="0.22" transform="rotate(-90 1218 229.4)" stroke="#000" stroke-width="0.3">Magnetization (<tspan font-style="italic">μ</tspan><tspan font-size="19.6" dy="5">b</tspan><tspan dy="-5">/Mn)</tspan></text>
<line x1="1524.9" y1="82.1" x2="1562.2" y2="82.1" stroke="#000" stroke-width="2.8" stroke-linecap="round"/>
<text x="1573.2" y="91" font-size="26" text-anchor="start" fill="#000" letter-spacing="-0.38" stroke="#000" stroke-width="0.3">Pristine</text>
<line x1="1524.9" y1="114.8" x2="1562.2" y2="114.8" stroke="#ff00ff" stroke-width="2.8" stroke-linecap="round"/>
<text x="1575.3" y="122.4" font-size="25.5" fill="#000" font-style="italic" stroke="#000" stroke-width="0.3">V</text>
<text x="1590.21" y="128.6" font-size="16.5" fill="#000" stroke="#000" stroke-width="0.3">g</text>
<text transform="translate(1603.55,122.6) scale(1,0.78)" font-size="25.5" fill="#000" stroke="#000" stroke-width="0.35">=</text>
<text x="1625.1" y="122.4" font-size="25.5" fill="#000" stroke="#000" stroke-width="0.3">0.8 V</text>
<line x1="1524.9" y1="153.4" x2="1562.2" y2="153.4" stroke="#008000" stroke-width="2.8" stroke-linecap="round"/>
<text x="1575.3" y="160.2" font-size="25.5" fill="#000" font-style="italic" stroke="#000" stroke-width="0.3">V</text>
<text x="1590.21" y="166.4" font-size="16.5" fill="#000" stroke="#000" stroke-width="0.3">g</text>
<text transform="translate(1603.55,160.4) scale(1,0.78)" font-size="25.5" fill="#000" stroke="#000" stroke-width="0.35">=</text>
<text x="1624.16" y="160.2" font-size="25.5" fill="#000" stroke="#000" stroke-width="0.3">1.2 V</text>
<line x1="1524.9" y1="192" x2="1562.2" y2="192" stroke="#ff0000" stroke-width="2.8" stroke-linecap="round"/>
<text x="1575.3" y="199.3" font-size="25.5" fill="#000" font-style="italic" stroke="#000" stroke-width="0.3">V</text>
<text x="1590.21" y="205.5" font-size="16.5" fill="#000" stroke="#000" stroke-width="0.3">g</text>
<text transform="translate(1603.55,199.5) scale(1,0.78)" font-size="25.5" fill="#000" stroke="#000" stroke-width="0.35">=</text>
<text x="1624.82" y="199.3" font-size="25.5" fill="#000" stroke="#000" stroke-width="0.3">2.5 V</text>
<line x1="1524.9" y1="230.2" x2="1562.2" y2="230.2" stroke="#0000ff" stroke-width="2.8" stroke-linecap="round"/>
<text x="1575.3" y="238.1" font-size="25.5" fill="#000" font-style="italic" stroke="#000" stroke-width="0.3">V</text>
<text x="1590.21" y="244.3" font-size="16.5" fill="#000" stroke="#000" stroke-width="0.3">g</text>
<text transform="translate(1603.55,238.3) scale(1,0.78)" font-size="25.5" fill="#000" stroke="#000" stroke-width="0.35">=</text>
<text x="1626.1" y="238.1" font-size="25.5" fill="#000" stroke="#000" stroke-width="0.3">–3.0 V</text>
</svg>
</body></html>
